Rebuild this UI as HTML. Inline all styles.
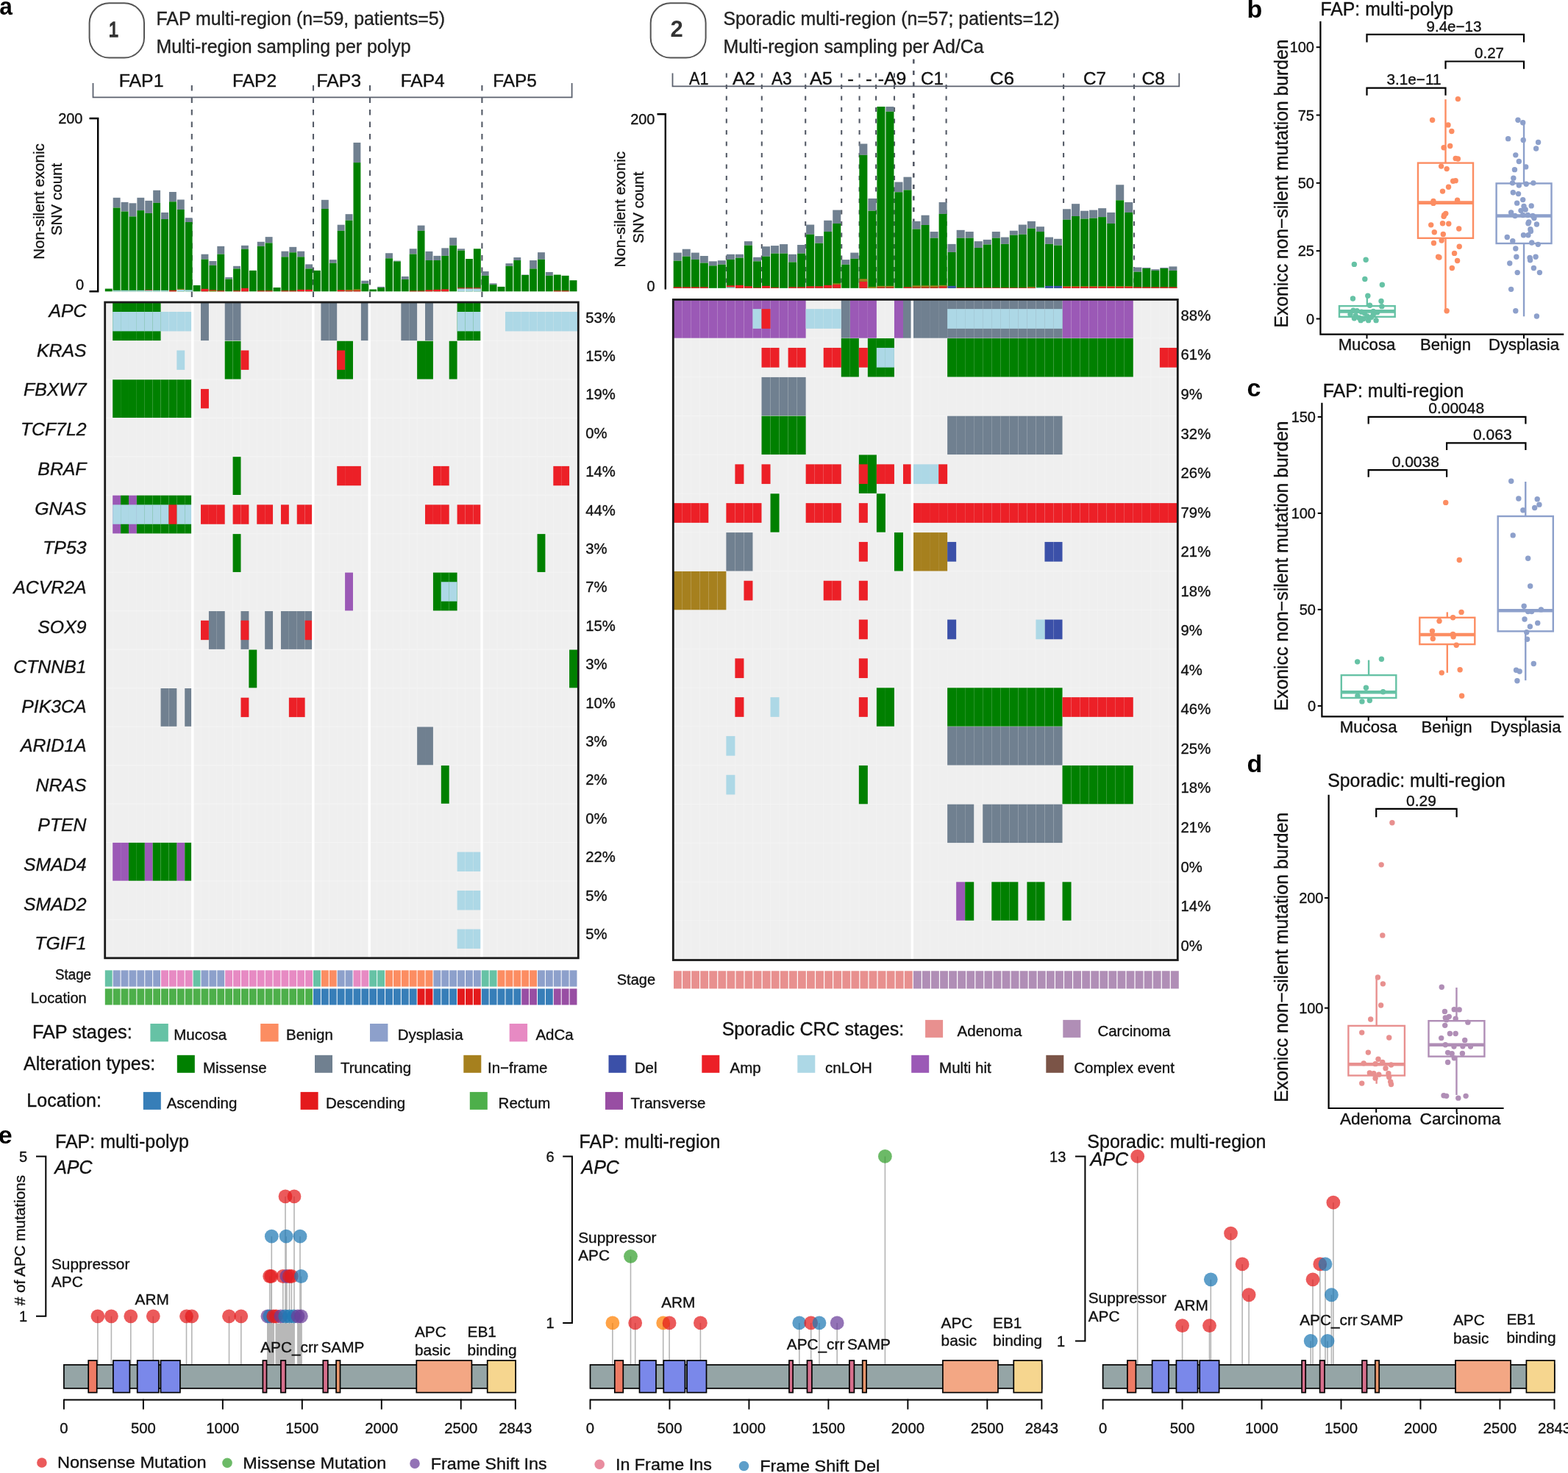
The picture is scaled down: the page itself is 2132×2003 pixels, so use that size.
<!DOCTYPE html>
<html><head><meta charset="utf-8"><title>Figure</title>
<style>html,body{margin:0;padding:0;background:#fff;}svg{display:block;}</style>
</head><body>
<svg width="2132" height="2003" viewBox="0 0 2132 2003" font-family="'Liberation Sans', Arial, Helvetica, sans-serif">
<text x="-0.8" y="19.9" font-size="34" fill="#000" font-weight="bold" textLength="17.6" lengthAdjust="spacingAndGlyphs">a</text>
<rect x="121.6" y="4.3" width="74.4" height="74.2" rx="27" ry="27" fill="none" stroke="#555" stroke-width="2"/>
<text x="154.6" y="50.4" font-size="30" text-anchor="middle" fill="#333" stroke="#333" stroke-width="1.5" textLength="13.5" lengthAdjust="spacingAndGlyphs">1</text>
<text x="212.5" y="34.0" font-size="25" fill="#222" stroke="#222" stroke-width="0.35" textLength="392.5" lengthAdjust="spacingAndGlyphs">FAP multi-region (n=59, patients=5)</text>
<text x="212.5" y="71.5" font-size="25" fill="#222" stroke="#222" stroke-width="0.35" textLength="346.0" lengthAdjust="spacingAndGlyphs">Multi-region sampling per polyp</text>
<rect x="884.7" y="4.3" width="74.9" height="74.2" rx="27" ry="27" fill="none" stroke="#555" stroke-width="2"/>
<text x="920.1" y="50.0" font-size="31" text-anchor="middle" fill="#333" font-weight="bold">2</text>
<text x="983.4" y="34.0" font-size="25" fill="#222" stroke="#222" stroke-width="0.35" textLength="457.5" lengthAdjust="spacingAndGlyphs">Sporadic multi-region (n=57; patients=12)</text>
<text x="983.4" y="72.0" font-size="25" fill="#222" stroke="#222" stroke-width="0.35" textLength="354.3" lengthAdjust="spacingAndGlyphs">Multi-region sampling per Ad/Ca</text>
<path d="M126.5 113 V132.4 H777.6 V113" stroke="#5B616E" stroke-width="1.8" fill="none"/>
<text x="192.1" y="117.5" font-size="24" text-anchor="middle" fill="#111" stroke="#111" stroke-width="0.35" textLength="60.9" lengthAdjust="spacingAndGlyphs">FAP1</text>
<text x="346.1" y="117.5" font-size="24" text-anchor="middle" fill="#111" stroke="#111" stroke-width="0.35" textLength="60.0" lengthAdjust="spacingAndGlyphs">FAP2</text>
<text x="460.7" y="117.5" font-size="24" text-anchor="middle" fill="#111" stroke="#111" stroke-width="0.35" textLength="60.6" lengthAdjust="spacingAndGlyphs">FAP3</text>
<text x="574.7" y="117.5" font-size="24" text-anchor="middle" fill="#111" stroke="#111" stroke-width="0.35" textLength="60.0" lengthAdjust="spacingAndGlyphs">FAP4</text>
<text x="700.1" y="117.5" font-size="24" text-anchor="middle" fill="#111" stroke="#111" stroke-width="0.35" textLength="59.7" lengthAdjust="spacingAndGlyphs">FAP5</text>
<line x1="260.80" y1="116.00" x2="260.80" y2="406.00" stroke="#555B67" stroke-width="2.1" stroke-dasharray="7.6 8.9"/>
<line x1="426.00" y1="116.00" x2="426.00" y2="406.00" stroke="#555B67" stroke-width="2.1" stroke-dasharray="7.6 8.9"/>
<line x1="503.00" y1="116.00" x2="503.00" y2="406.00" stroke="#555B67" stroke-width="2.1" stroke-dasharray="7.6 8.9"/>
<line x1="655.40" y1="116.00" x2="655.40" y2="406.00" stroke="#555B67" stroke-width="2.1" stroke-dasharray="7.6 8.9"/>
<path d="M121.5 161 H133.2 V396.3 H121.5" stroke="#000" stroke-width="2.4" fill="none"/>
<text x="112.5" y="167.7" font-size="20" text-anchor="end" fill="#111" stroke="#111" stroke-width="0.35">200</text>
<text x="114.0" y="394.0" font-size="20" text-anchor="end" fill="#111" stroke="#111" stroke-width="0.35">0</text>
<text x="59.5" y="274.0" font-size="20.5" text-anchor="middle" fill="#111" stroke="#111" stroke-width="0.35" textLength="157.5" lengthAdjust="spacingAndGlyphs" transform="rotate(-90 59.5 274.0)">Non-silent exonic</text>
<text x="84.0" y="271.0" font-size="20.5" text-anchor="middle" fill="#111" stroke="#111" stroke-width="0.35" textLength="98.7" lengthAdjust="spacingAndGlyphs" transform="rotate(-90 84.0 271.0)">SNV count</text>
<rect x="142.80" y="392.58" width="9.89" height="3.72" fill="#008000"/>
<rect x="153.69" y="268.83" width="9.89" height="13.68" fill="#708090"/>
<rect x="153.69" y="282.52" width="9.89" height="113.78" fill="#008000"/>
<rect x="153.69" y="394.80" width="9.89" height="1.50" fill="#ADD8E6"/>
<rect x="164.59" y="274.87" width="9.89" height="12.68" fill="#708090"/>
<rect x="164.59" y="287.55" width="9.89" height="108.75" fill="#008000"/>
<rect x="164.59" y="394.80" width="9.89" height="1.50" fill="#ADD8E6"/>
<rect x="175.48" y="276.28" width="9.89" height="18.11" fill="#708090"/>
<rect x="175.48" y="294.39" width="9.89" height="101.91" fill="#008000"/>
<rect x="175.48" y="394.80" width="9.89" height="1.50" fill="#ADD8E6"/>
<rect x="186.37" y="268.83" width="9.89" height="17.30" fill="#708090"/>
<rect x="186.37" y="286.14" width="9.89" height="110.16" fill="#008000"/>
<rect x="186.37" y="394.80" width="9.89" height="1.50" fill="#ADD8E6"/>
<rect x="197.27" y="272.86" width="9.89" height="17.10" fill="#708090"/>
<rect x="197.27" y="289.96" width="9.89" height="106.34" fill="#008000"/>
<rect x="197.27" y="394.80" width="9.89" height="1.50" fill="#ADD8E6"/>
<rect x="197.27" y="394.20" width="9.89" height="0.60" fill="#EC2027"/>
<rect x="208.16" y="258.77" width="9.89" height="17.10" fill="#708090"/>
<rect x="208.16" y="275.88" width="9.89" height="120.42" fill="#008000"/>
<rect x="208.16" y="394.80" width="9.89" height="1.50" fill="#ADD8E6"/>
<rect x="219.05" y="288.95" width="9.89" height="9.05" fill="#708090"/>
<rect x="219.05" y="298.01" width="9.89" height="98.29" fill="#008000"/>
<rect x="219.05" y="394.80" width="9.89" height="1.50" fill="#ADD8E6"/>
<rect x="229.94" y="260.99" width="9.89" height="13.28" fill="#708090"/>
<rect x="229.94" y="274.27" width="9.89" height="122.03" fill="#008000"/>
<rect x="229.94" y="394.80" width="9.89" height="1.50" fill="#EC2027"/>
<rect x="240.84" y="271.45" width="9.89" height="13.48" fill="#708090"/>
<rect x="240.84" y="284.93" width="9.89" height="111.37" fill="#008000"/>
<rect x="240.84" y="393.80" width="9.89" height="2.50" fill="#ADD8E6"/>
<rect x="240.84" y="392.80" width="9.89" height="1.00" fill="#A6801E"/>
<rect x="251.73" y="296.20" width="9.89" height="5.84" fill="#708090"/>
<rect x="251.73" y="302.03" width="9.89" height="94.27" fill="#008000"/>
<rect x="251.73" y="394.30" width="9.89" height="2.00" fill="#ADD8E6"/>
<rect x="262.62" y="387.95" width="9.89" height="8.35" fill="#008000"/>
<rect x="273.52" y="345.69" width="9.89" height="6.84" fill="#708090"/>
<rect x="273.52" y="352.54" width="9.89" height="43.76" fill="#008000"/>
<rect x="273.52" y="392.80" width="9.89" height="3.50" fill="#EC2027"/>
<rect x="284.41" y="354.95" width="9.89" height="5.84" fill="#708090"/>
<rect x="284.41" y="360.78" width="9.89" height="35.52" fill="#008000"/>
<rect x="284.41" y="395.10" width="9.89" height="1.20" fill="#A6801E"/>
<rect x="284.41" y="394.30" width="9.89" height="0.80" fill="#EC2027"/>
<rect x="295.30" y="334.83" width="9.89" height="10.87" fill="#708090"/>
<rect x="295.30" y="345.69" width="9.89" height="50.61" fill="#008000"/>
<rect x="295.30" y="395.30" width="9.89" height="1.00" fill="#EC2027"/>
<rect x="306.20" y="377.08" width="9.89" height="2.41" fill="#708090"/>
<rect x="306.20" y="379.50" width="9.89" height="16.80" fill="#008000"/>
<rect x="317.09" y="361.79" width="9.89" height="3.62" fill="#708090"/>
<rect x="317.09" y="365.41" width="9.89" height="30.89" fill="#008000"/>
<rect x="317.09" y="395.30" width="9.89" height="1.00" fill="#EC2027"/>
<rect x="327.98" y="333.82" width="9.89" height="4.83" fill="#708090"/>
<rect x="327.98" y="338.65" width="9.89" height="57.65" fill="#008000"/>
<rect x="327.98" y="391.80" width="9.89" height="4.50" fill="#EC2027"/>
<rect x="338.87" y="367.83" width="9.89" height="28.47" fill="#008000"/>
<rect x="349.77" y="328.79" width="9.89" height="6.04" fill="#708090"/>
<rect x="349.77" y="334.83" width="9.89" height="61.47" fill="#008000"/>
<rect x="349.77" y="395.30" width="9.89" height="1.00" fill="#EC2027"/>
<rect x="360.66" y="322.15" width="9.89" height="8.25" fill="#708090"/>
<rect x="360.66" y="330.40" width="9.89" height="65.90" fill="#008000"/>
<rect x="360.66" y="395.30" width="9.89" height="1.00" fill="#EC2027"/>
<rect x="371.55" y="390.97" width="9.89" height="5.33" fill="#008000"/>
<rect x="382.45" y="341.67" width="9.89" height="7.65" fill="#708090"/>
<rect x="382.45" y="349.32" width="9.89" height="46.98" fill="#008000"/>
<rect x="382.45" y="395.30" width="9.89" height="1.00" fill="#EC2027"/>
<rect x="393.34" y="335.84" width="9.89" height="7.44" fill="#708090"/>
<rect x="393.34" y="343.28" width="9.89" height="53.02" fill="#008000"/>
<rect x="393.34" y="395.30" width="9.89" height="1.00" fill="#EC2027"/>
<rect x="404.23" y="341.67" width="9.89" height="7.65" fill="#708090"/>
<rect x="404.23" y="349.32" width="9.89" height="46.98" fill="#008000"/>
<rect x="404.23" y="393.80" width="9.89" height="2.50" fill="#EC2027"/>
<rect x="415.13" y="359.38" width="9.89" height="6.04" fill="#708090"/>
<rect x="415.13" y="365.41" width="9.89" height="30.89" fill="#008000"/>
<rect x="415.13" y="393.80" width="9.89" height="2.50" fill="#EC2027"/>
<rect x="426.02" y="367.83" width="9.89" height="28.47" fill="#008000"/>
<rect x="436.91" y="271.80" width="9.89" height="12.13" fill="#708090"/>
<rect x="436.91" y="283.93" width="9.89" height="112.37" fill="#008000"/>
<rect x="447.80" y="353.11" width="9.89" height="4.71" fill="#708090"/>
<rect x="447.80" y="357.82" width="9.89" height="38.48" fill="#008000"/>
<rect x="458.70" y="305.66" width="9.89" height="8.15" fill="#708090"/>
<rect x="458.70" y="313.81" width="9.89" height="82.49" fill="#008000"/>
<rect x="458.70" y="394.30" width="9.89" height="2.00" fill="#EC2027"/>
<rect x="469.59" y="291.17" width="9.89" height="8.51" fill="#708090"/>
<rect x="469.59" y="299.68" width="9.89" height="96.62" fill="#008000"/>
<rect x="469.59" y="395.10" width="9.89" height="1.20" fill="#EC2027"/>
<rect x="469.59" y="394.10" width="9.89" height="1.00" fill="#A6801E"/>
<rect x="480.48" y="193.93" width="9.89" height="27.16" fill="#708090"/>
<rect x="480.48" y="221.09" width="9.89" height="175.21" fill="#008000"/>
<rect x="480.48" y="394.80" width="9.89" height="1.50" fill="#EC2027"/>
<rect x="480.48" y="393.30" width="9.89" height="1.50" fill="#A6801E"/>
<rect x="491.38" y="381.72" width="9.89" height="3.98" fill="#708090"/>
<rect x="491.38" y="385.70" width="9.89" height="10.60" fill="#008000"/>
<rect x="502.27" y="393.49" width="9.89" height="2.81" fill="#008000"/>
<rect x="513.16" y="389.87" width="9.89" height="1.27" fill="#708090"/>
<rect x="513.16" y="391.14" width="9.89" height="5.16" fill="#008000"/>
<rect x="524.06" y="344.23" width="9.89" height="7.06" fill="#708090"/>
<rect x="524.06" y="351.30" width="9.89" height="45.00" fill="#008000"/>
<rect x="534.95" y="354.56" width="9.89" height="0.91" fill="#708090"/>
<rect x="534.95" y="355.46" width="9.89" height="40.84" fill="#008000"/>
<rect x="545.84" y="375.93" width="9.89" height="3.98" fill="#708090"/>
<rect x="545.84" y="379.91" width="9.89" height="16.39" fill="#008000"/>
<rect x="556.73" y="338.26" width="9.89" height="7.24" fill="#708090"/>
<rect x="556.73" y="345.50" width="9.89" height="50.80" fill="#008000"/>
<rect x="556.73" y="395.50" width="9.89" height="0.80" fill="#EC2027"/>
<rect x="567.63" y="306.57" width="9.89" height="7.24" fill="#708090"/>
<rect x="567.63" y="313.81" width="9.89" height="82.49" fill="#008000"/>
<rect x="567.63" y="395.50" width="9.89" height="0.80" fill="#EC2027"/>
<rect x="578.52" y="341.88" width="9.89" height="12.13" fill="#708090"/>
<rect x="578.52" y="354.01" width="9.89" height="42.29" fill="#008000"/>
<rect x="578.52" y="394.30" width="9.89" height="2.00" fill="#EC2027"/>
<rect x="589.41" y="347.86" width="9.89" height="6.16" fill="#708090"/>
<rect x="589.41" y="354.01" width="9.89" height="42.29" fill="#008000"/>
<rect x="589.41" y="393.80" width="9.89" height="2.50" fill="#EC2027"/>
<rect x="600.31" y="337.35" width="9.89" height="10.50" fill="#708090"/>
<rect x="600.31" y="347.86" width="9.89" height="48.44" fill="#008000"/>
<rect x="600.31" y="393.30" width="9.89" height="3.00" fill="#EC2027"/>
<rect x="611.20" y="323.23" width="9.89" height="10.50" fill="#708090"/>
<rect x="611.20" y="333.73" width="9.89" height="62.57" fill="#008000"/>
<rect x="622.09" y="338.26" width="9.89" height="2.35" fill="#708090"/>
<rect x="622.09" y="340.61" width="9.89" height="55.69" fill="#008000"/>
<rect x="622.09" y="392.30" width="9.89" height="4.00" fill="#ADD8E6"/>
<rect x="622.09" y="391.30" width="9.89" height="1.00" fill="#EC2027"/>
<rect x="632.99" y="352.02" width="9.89" height="44.28" fill="#008000"/>
<rect x="632.99" y="392.30" width="9.89" height="4.00" fill="#ADD8E6"/>
<rect x="632.99" y="391.30" width="9.89" height="1.00" fill="#EC2027"/>
<rect x="643.88" y="338.26" width="9.89" height="58.04" fill="#008000"/>
<rect x="643.88" y="392.30" width="9.89" height="4.00" fill="#ADD8E6"/>
<rect x="643.88" y="391.30" width="9.89" height="1.00" fill="#EC2027"/>
<rect x="654.77" y="369.04" width="9.89" height="5.80" fill="#708090"/>
<rect x="654.77" y="374.84" width="9.89" height="21.46" fill="#008000"/>
<rect x="665.66" y="385.34" width="9.89" height="1.81" fill="#708090"/>
<rect x="665.66" y="387.15" width="9.89" height="9.15" fill="#008000"/>
<rect x="676.56" y="389.87" width="9.89" height="6.43" fill="#008000"/>
<rect x="687.45" y="358.18" width="9.89" height="3.62" fill="#708090"/>
<rect x="687.45" y="361.80" width="9.89" height="34.50" fill="#008000"/>
<rect x="698.34" y="350.03" width="9.89" height="3.98" fill="#708090"/>
<rect x="698.34" y="354.01" width="9.89" height="42.29" fill="#008000"/>
<rect x="709.24" y="373.57" width="9.89" height="0.36" fill="#708090"/>
<rect x="709.24" y="373.93" width="9.89" height="22.37" fill="#008000"/>
<rect x="720.13" y="354.01" width="9.89" height="11.41" fill="#708090"/>
<rect x="720.13" y="365.42" width="9.89" height="30.88" fill="#008000"/>
<rect x="731.02" y="343.15" width="9.89" height="9.60" fill="#708090"/>
<rect x="731.02" y="352.75" width="9.89" height="43.55" fill="#008000"/>
<rect x="741.91" y="369.95" width="9.89" height="4.89" fill="#708090"/>
<rect x="741.91" y="374.84" width="9.89" height="21.46" fill="#008000"/>
<rect x="752.81" y="373.57" width="9.89" height="22.73" fill="#008000"/>
<rect x="752.81" y="395.30" width="9.89" height="1.00" fill="#EC2027"/>
<rect x="763.70" y="374.84" width="9.89" height="21.46" fill="#008000"/>
<rect x="763.70" y="395.30" width="9.89" height="1.00" fill="#EC2027"/>
<rect x="774.59" y="381.18" width="9.89" height="15.12" fill="#008000"/>
<path d="M914.5 99.6 V117.4 H1603.3 V99.6" stroke="#5B616E" stroke-width="1.8" fill="none"/>
<text x="950.2" y="115.2" font-size="24" text-anchor="middle" fill="#111" stroke="#111" stroke-width="0.35" textLength="26.5" lengthAdjust="spacingAndGlyphs">A1</text>
<text x="1011.4" y="115.2" font-size="24" text-anchor="middle" fill="#111" stroke="#111" stroke-width="0.35" textLength="31.0" lengthAdjust="spacingAndGlyphs">A2</text>
<text x="1062.8" y="115.2" font-size="24" text-anchor="middle" fill="#111" stroke="#111" stroke-width="0.35" textLength="27.7" lengthAdjust="spacingAndGlyphs">A3</text>
<text x="1116.4" y="115.2" font-size="24" text-anchor="middle" fill="#111" stroke="#111" stroke-width="0.35" textLength="31.0" lengthAdjust="spacingAndGlyphs">A5</text>
<text x="1156.6" y="115.2" font-size="24" text-anchor="middle" fill="#111" stroke="#111" stroke-width="0.35" textLength="8.7" lengthAdjust="spacingAndGlyphs">-</text>
<text x="1181.3" y="115.2" font-size="24" text-anchor="middle" fill="#111" stroke="#111" stroke-width="0.35" textLength="8.7" lengthAdjust="spacingAndGlyphs">-</text>
<text x="1213.1" y="115.2" font-size="24" text-anchor="middle" fill="#111" stroke="#111" stroke-width="0.35" textLength="38.6" lengthAdjust="spacingAndGlyphs">-A9</text>
<text x="1267.5" y="115.2" font-size="24" text-anchor="middle" fill="#111" stroke="#111" stroke-width="0.35" textLength="31.0" lengthAdjust="spacingAndGlyphs">C1</text>
<text x="1362.5" y="115.2" font-size="24" text-anchor="middle" fill="#111" stroke="#111" stroke-width="0.35" textLength="33.0" lengthAdjust="spacingAndGlyphs">C6</text>
<text x="1488.5" y="115.2" font-size="24" text-anchor="middle" fill="#111" stroke="#111" stroke-width="0.35" textLength="31.0" lengthAdjust="spacingAndGlyphs">C7</text>
<text x="1568.2" y="115.2" font-size="24" text-anchor="middle" fill="#111" stroke="#111" stroke-width="0.35" textLength="31.5" lengthAdjust="spacingAndGlyphs">C8</text>
<line x1="987.80" y1="99.50" x2="987.80" y2="391.50" stroke="#555B67" stroke-width="2.1" stroke-dasharray="6 9.5"/>
<line x1="1035.80" y1="99.50" x2="1035.80" y2="391.50" stroke="#555B67" stroke-width="2.1" stroke-dasharray="6 9.5"/>
<line x1="1095.20" y1="99.50" x2="1095.20" y2="391.50" stroke="#555B67" stroke-width="2.1" stroke-dasharray="6 9.5"/>
<line x1="1144.20" y1="99.50" x2="1144.20" y2="391.50" stroke="#555B67" stroke-width="2.1" stroke-dasharray="6 9.5"/>
<line x1="1168.60" y1="99.50" x2="1168.60" y2="391.50" stroke="#555B67" stroke-width="2.1" stroke-dasharray="6 9.5"/>
<line x1="1191.10" y1="99.50" x2="1191.10" y2="391.50" stroke="#555B67" stroke-width="2.1" stroke-dasharray="6 9.5"/>
<line x1="1216.00" y1="99.50" x2="1216.00" y2="391.50" stroke="#555B67" stroke-width="2.1" stroke-dasharray="6 9.5"/>
<line x1="1286.60" y1="99.50" x2="1286.60" y2="391.50" stroke="#555B67" stroke-width="2.1" stroke-dasharray="6 9.5"/>
<line x1="1446.10" y1="99.50" x2="1446.10" y2="391.50" stroke="#555B67" stroke-width="2.1" stroke-dasharray="6 9.5"/>
<line x1="1542.00" y1="99.50" x2="1542.00" y2="391.50" stroke="#555B67" stroke-width="2.1" stroke-dasharray="6 9.5"/>
<line x1="1242.30" y1="80.40" x2="1242.30" y2="391.50" stroke="#555B67" stroke-width="2.6" stroke-dasharray="6 9.5"/>
<path d="M893.5 155.2 H904.8 V393.4" stroke="#000" stroke-width="2.4" fill="none"/>
<text x="890.5" y="169.2" font-size="20" text-anchor="end" fill="#111" stroke="#111" stroke-width="0.35">200</text>
<text x="890.5" y="395.6" font-size="20" text-anchor="end" fill="#111" stroke="#111" stroke-width="0.35">0</text>
<text x="850.5" y="284.7" font-size="20.5" text-anchor="middle" fill="#111" stroke="#111" stroke-width="0.35" textLength="157.4" lengthAdjust="spacingAndGlyphs" transform="rotate(-90 850.5 284.7)">Non-silent exonic</text>
<text x="875.5" y="282.2" font-size="20.5" text-anchor="middle" fill="#111" stroke="#111" stroke-width="0.35" textLength="97.0" lengthAdjust="spacingAndGlyphs" transform="rotate(-90 875.5 282.2)">SNV count</text>
<rect x="915.70" y="343.59" width="11.03" height="11.07" fill="#708090"/>
<rect x="915.70" y="354.66" width="11.03" height="37.14" fill="#008000"/>
<rect x="915.70" y="390.30" width="11.03" height="1.50" fill="#EC2027"/>
<rect x="927.73" y="338.72" width="11.03" height="9.96" fill="#708090"/>
<rect x="927.73" y="348.68" width="11.03" height="43.12" fill="#008000"/>
<rect x="927.73" y="390.30" width="11.03" height="1.50" fill="#EC2027"/>
<rect x="939.76" y="343.59" width="11.03" height="9.30" fill="#708090"/>
<rect x="939.76" y="352.89" width="11.03" height="38.91" fill="#008000"/>
<rect x="939.76" y="390.30" width="11.03" height="1.50" fill="#EC2027"/>
<rect x="951.79" y="348.02" width="11.03" height="9.52" fill="#708090"/>
<rect x="951.79" y="357.53" width="11.03" height="34.27" fill="#008000"/>
<rect x="951.79" y="390.30" width="11.03" height="1.50" fill="#EC2027"/>
<rect x="963.82" y="355.32" width="11.03" height="5.98" fill="#708090"/>
<rect x="963.82" y="361.30" width="11.03" height="30.50" fill="#008000"/>
<rect x="975.85" y="354.21" width="11.03" height="5.53" fill="#708090"/>
<rect x="975.85" y="359.75" width="11.03" height="32.05" fill="#008000"/>
<rect x="987.88" y="345.80" width="11.03" height="7.08" fill="#708090"/>
<rect x="987.88" y="352.89" width="11.03" height="38.91" fill="#008000"/>
<rect x="987.88" y="390.30" width="11.03" height="1.50" fill="#ADD8E6"/>
<rect x="987.88" y="388.30" width="11.03" height="2.00" fill="#EC2027"/>
<rect x="999.91" y="345.80" width="11.03" height="4.87" fill="#708090"/>
<rect x="999.91" y="350.67" width="11.03" height="41.13" fill="#008000"/>
<rect x="999.91" y="387.80" width="11.03" height="4.00" fill="#EC2027"/>
<rect x="1011.94" y="328.10" width="11.03" height="5.53" fill="#708090"/>
<rect x="1011.94" y="333.63" width="11.03" height="58.17" fill="#008000"/>
<rect x="1011.94" y="389.30" width="11.03" height="2.50" fill="#EC2027"/>
<rect x="1023.97" y="349.79" width="11.03" height="5.53" fill="#708090"/>
<rect x="1023.97" y="355.32" width="11.03" height="36.48" fill="#008000"/>
<rect x="1023.97" y="391.10" width="11.03" height="0.70" fill="#EC2027"/>
<rect x="1036.00" y="335.18" width="11.03" height="13.50" fill="#708090"/>
<rect x="1036.00" y="348.68" width="11.03" height="43.12" fill="#008000"/>
<rect x="1036.00" y="388.80" width="11.03" height="3.00" fill="#EC2027"/>
<rect x="1048.03" y="334.07" width="11.03" height="10.62" fill="#708090"/>
<rect x="1048.03" y="344.70" width="11.03" height="47.10" fill="#008000"/>
<rect x="1048.03" y="390.80" width="11.03" height="1.00" fill="#EC2027"/>
<rect x="1060.06" y="332.08" width="11.03" height="12.62" fill="#708090"/>
<rect x="1060.06" y="344.70" width="11.03" height="47.10" fill="#008000"/>
<rect x="1072.09" y="345.80" width="11.03" height="10.62" fill="#708090"/>
<rect x="1072.09" y="356.43" width="11.03" height="35.37" fill="#008000"/>
<rect x="1072.09" y="390.30" width="11.03" height="1.50" fill="#EC2027"/>
<rect x="1084.12" y="332.97" width="11.03" height="11.73" fill="#708090"/>
<rect x="1084.12" y="344.70" width="11.03" height="47.10" fill="#008000"/>
<rect x="1084.12" y="390.30" width="11.03" height="1.50" fill="#EC2027"/>
<rect x="1096.15" y="305.52" width="11.03" height="13.28" fill="#708090"/>
<rect x="1096.15" y="318.80" width="11.03" height="73.00" fill="#008000"/>
<rect x="1096.15" y="389.30" width="11.03" height="2.50" fill="#EC2027"/>
<rect x="1108.18" y="321.01" width="11.03" height="9.74" fill="#708090"/>
<rect x="1108.18" y="330.75" width="11.03" height="61.05" fill="#008000"/>
<rect x="1108.18" y="389.30" width="11.03" height="2.50" fill="#EC2027"/>
<rect x="1120.21" y="299.77" width="11.03" height="15.27" fill="#708090"/>
<rect x="1120.21" y="315.04" width="11.03" height="76.76" fill="#008000"/>
<rect x="1120.21" y="387.80" width="11.03" height="4.00" fill="#EC2027"/>
<rect x="1132.24" y="285.60" width="11.03" height="18.37" fill="#708090"/>
<rect x="1132.24" y="303.97" width="11.03" height="87.83" fill="#008000"/>
<rect x="1132.24" y="386.80" width="11.03" height="5.00" fill="#EC2027"/>
<rect x="1132.24" y="385.30" width="11.03" height="1.50" fill="#A6801E"/>
<rect x="1144.27" y="353.11" width="11.03" height="6.64" fill="#708090"/>
<rect x="1144.27" y="359.75" width="11.03" height="32.05" fill="#008000"/>
<rect x="1156.30" y="343.59" width="11.03" height="8.19" fill="#708090"/>
<rect x="1156.30" y="351.78" width="11.03" height="40.02" fill="#008000"/>
<rect x="1168.33" y="195.52" width="11.03" height="15.27" fill="#708090"/>
<rect x="1168.33" y="210.79" width="11.03" height="181.01" fill="#008000"/>
<rect x="1168.33" y="382.80" width="11.03" height="9.00" fill="#EC2027"/>
<rect x="1168.33" y="379.30" width="11.03" height="3.50" fill="#A6801E"/>
<rect x="1180.36" y="269.88" width="11.03" height="16.82" fill="#708090"/>
<rect x="1180.36" y="286.71" width="11.03" height="105.09" fill="#008000"/>
<rect x="1180.36" y="390.10" width="11.03" height="1.70" fill="#A6801E"/>
<rect x="1192.39" y="145.05" width="11.03" height="246.75" fill="#008000"/>
<rect x="1192.39" y="390.30" width="11.03" height="1.50" fill="#EC2027"/>
<rect x="1192.39" y="388.80" width="11.03" height="1.50" fill="#A6801E"/>
<rect x="1204.42" y="145.05" width="11.03" height="6.64" fill="#708090"/>
<rect x="1204.42" y="151.69" width="11.03" height="240.11" fill="#008000"/>
<rect x="1204.42" y="390.30" width="11.03" height="1.50" fill="#EC2027"/>
<rect x="1204.42" y="388.80" width="11.03" height="1.50" fill="#A6801E"/>
<rect x="1216.45" y="247.53" width="11.03" height="13.72" fill="#708090"/>
<rect x="1216.45" y="261.25" width="11.03" height="130.55" fill="#008000"/>
<rect x="1228.48" y="240.67" width="11.03" height="17.71" fill="#708090"/>
<rect x="1228.48" y="258.38" width="11.03" height="133.42" fill="#008000"/>
<rect x="1228.48" y="390.30" width="11.03" height="1.50" fill="#EC2027"/>
<rect x="1240.51" y="300.87" width="11.03" height="10.62" fill="#708090"/>
<rect x="1240.51" y="311.50" width="11.03" height="80.30" fill="#008000"/>
<rect x="1240.51" y="390.30" width="11.03" height="1.50" fill="#EC2027"/>
<rect x="1240.51" y="388.30" width="11.03" height="2.00" fill="#A6801E"/>
<rect x="1252.54" y="292.68" width="11.03" height="13.28" fill="#708090"/>
<rect x="1252.54" y="305.96" width="11.03" height="85.84" fill="#008000"/>
<rect x="1252.54" y="390.30" width="11.03" height="1.50" fill="#EC2027"/>
<rect x="1252.54" y="388.30" width="11.03" height="2.00" fill="#A6801E"/>
<rect x="1264.57" y="315.04" width="11.03" height="8.63" fill="#708090"/>
<rect x="1264.57" y="323.67" width="11.03" height="68.13" fill="#008000"/>
<rect x="1264.57" y="390.30" width="11.03" height="1.50" fill="#EC2027"/>
<rect x="1264.57" y="388.30" width="11.03" height="2.00" fill="#A6801E"/>
<rect x="1276.60" y="274.98" width="11.03" height="15.94" fill="#708090"/>
<rect x="1276.60" y="290.91" width="11.03" height="100.89" fill="#008000"/>
<rect x="1276.60" y="389.30" width="11.03" height="2.50" fill="#EC2027"/>
<rect x="1276.60" y="387.80" width="11.03" height="1.50" fill="#A6801E"/>
<rect x="1288.63" y="331.86" width="11.03" height="11.07" fill="#708090"/>
<rect x="1288.63" y="342.93" width="11.03" height="48.87" fill="#008000"/>
<rect x="1288.63" y="388.80" width="11.03" height="3.00" fill="#3B50A8"/>
<rect x="1300.66" y="312.82" width="11.03" height="10.85" fill="#708090"/>
<rect x="1300.66" y="323.67" width="11.03" height="68.13" fill="#008000"/>
<rect x="1300.66" y="391.10" width="11.03" height="0.70" fill="#EC2027"/>
<rect x="1312.69" y="315.04" width="11.03" height="8.63" fill="#708090"/>
<rect x="1312.69" y="323.67" width="11.03" height="68.13" fill="#008000"/>
<rect x="1312.69" y="391.10" width="11.03" height="0.70" fill="#EC2027"/>
<rect x="1324.72" y="328.10" width="11.03" height="8.85" fill="#708090"/>
<rect x="1324.72" y="336.95" width="11.03" height="54.85" fill="#008000"/>
<rect x="1324.72" y="391.10" width="11.03" height="0.70" fill="#EC2027"/>
<rect x="1336.75" y="325.88" width="11.03" height="6.64" fill="#708090"/>
<rect x="1336.75" y="332.52" width="11.03" height="59.28" fill="#008000"/>
<rect x="1336.75" y="391.10" width="11.03" height="0.70" fill="#EC2027"/>
<rect x="1348.78" y="315.04" width="11.03" height="8.63" fill="#708090"/>
<rect x="1348.78" y="323.67" width="11.03" height="68.13" fill="#008000"/>
<rect x="1348.78" y="391.10" width="11.03" height="0.70" fill="#EC2027"/>
<rect x="1360.81" y="322.56" width="11.03" height="9.30" fill="#708090"/>
<rect x="1360.81" y="331.86" width="11.03" height="59.94" fill="#008000"/>
<rect x="1360.81" y="391.10" width="11.03" height="0.70" fill="#EC2027"/>
<rect x="1372.84" y="313.71" width="11.03" height="5.98" fill="#708090"/>
<rect x="1372.84" y="319.69" width="11.03" height="72.11" fill="#008000"/>
<rect x="1372.84" y="391.10" width="11.03" height="0.70" fill="#EC2027"/>
<rect x="1384.87" y="305.52" width="11.03" height="13.28" fill="#708090"/>
<rect x="1384.87" y="318.80" width="11.03" height="73.00" fill="#008000"/>
<rect x="1384.87" y="391.10" width="11.03" height="0.70" fill="#EC2027"/>
<rect x="1396.90" y="300.87" width="11.03" height="9.74" fill="#708090"/>
<rect x="1396.90" y="310.61" width="11.03" height="81.19" fill="#008000"/>
<rect x="1396.90" y="391.10" width="11.03" height="0.70" fill="#EC2027"/>
<rect x="1396.90" y="390.10" width="11.03" height="1.00" fill="#A6801E"/>
<rect x="1408.93" y="308.18" width="11.03" height="6.86" fill="#708090"/>
<rect x="1408.93" y="315.04" width="11.03" height="76.76" fill="#008000"/>
<rect x="1408.93" y="390.80" width="11.03" height="1.00" fill="#ADD8E6"/>
<rect x="1420.96" y="322.56" width="11.03" height="9.30" fill="#708090"/>
<rect x="1420.96" y="331.86" width="11.03" height="59.94" fill="#008000"/>
<rect x="1420.96" y="388.80" width="11.03" height="3.00" fill="#3B50A8"/>
<rect x="1432.99" y="324.78" width="11.03" height="8.85" fill="#708090"/>
<rect x="1432.99" y="333.63" width="11.03" height="58.17" fill="#008000"/>
<rect x="1432.99" y="388.80" width="11.03" height="3.00" fill="#3B50A8"/>
<rect x="1445.02" y="284.27" width="11.03" height="14.39" fill="#708090"/>
<rect x="1445.02" y="298.66" width="11.03" height="93.14" fill="#008000"/>
<rect x="1445.02" y="389.80" width="11.03" height="2.00" fill="#EC2027"/>
<rect x="1445.02" y="389.10" width="11.03" height="0.70" fill="#A6801E"/>
<rect x="1457.05" y="277.19" width="11.03" height="16.82" fill="#708090"/>
<rect x="1457.05" y="294.01" width="11.03" height="97.79" fill="#008000"/>
<rect x="1457.05" y="389.80" width="11.03" height="2.00" fill="#EC2027"/>
<rect x="1457.05" y="389.10" width="11.03" height="0.70" fill="#A6801E"/>
<rect x="1469.08" y="286.71" width="11.03" height="10.85" fill="#708090"/>
<rect x="1469.08" y="297.55" width="11.03" height="94.25" fill="#008000"/>
<rect x="1469.08" y="389.80" width="11.03" height="2.00" fill="#EC2027"/>
<rect x="1469.08" y="389.10" width="11.03" height="0.70" fill="#A6801E"/>
<rect x="1481.11" y="285.60" width="11.03" height="11.07" fill="#708090"/>
<rect x="1481.11" y="296.67" width="11.03" height="95.13" fill="#008000"/>
<rect x="1481.11" y="389.80" width="11.03" height="2.00" fill="#EC2027"/>
<rect x="1481.11" y="389.10" width="11.03" height="0.70" fill="#A6801E"/>
<rect x="1493.14" y="283.17" width="11.03" height="11.95" fill="#708090"/>
<rect x="1493.14" y="295.12" width="11.03" height="96.68" fill="#008000"/>
<rect x="1493.14" y="389.80" width="11.03" height="2.00" fill="#EC2027"/>
<rect x="1493.14" y="389.10" width="11.03" height="0.70" fill="#A6801E"/>
<rect x="1505.17" y="288.92" width="11.03" height="15.05" fill="#708090"/>
<rect x="1505.17" y="303.97" width="11.03" height="87.83" fill="#008000"/>
<rect x="1505.17" y="389.80" width="11.03" height="2.00" fill="#EC2027"/>
<rect x="1505.17" y="389.10" width="11.03" height="0.70" fill="#A6801E"/>
<rect x="1517.20" y="251.29" width="11.03" height="21.03" fill="#708090"/>
<rect x="1517.20" y="272.32" width="11.03" height="119.48" fill="#008000"/>
<rect x="1517.20" y="389.80" width="11.03" height="2.00" fill="#EC2027"/>
<rect x="1517.20" y="389.10" width="11.03" height="0.70" fill="#A6801E"/>
<rect x="1529.23" y="274.98" width="11.03" height="13.94" fill="#708090"/>
<rect x="1529.23" y="288.92" width="11.03" height="102.88" fill="#008000"/>
<rect x="1529.23" y="389.80" width="11.03" height="2.00" fill="#EC2027"/>
<rect x="1529.23" y="389.10" width="11.03" height="0.70" fill="#A6801E"/>
<rect x="1541.26" y="363.51" width="11.03" height="6.20" fill="#708090"/>
<rect x="1541.26" y="369.71" width="11.03" height="22.09" fill="#008000"/>
<rect x="1541.26" y="390.30" width="11.03" height="1.50" fill="#EC2027"/>
<rect x="1553.29" y="363.95" width="11.03" height="1.11" fill="#708090"/>
<rect x="1553.29" y="365.06" width="11.03" height="26.74" fill="#008000"/>
<rect x="1553.29" y="390.30" width="11.03" height="1.50" fill="#EC2027"/>
<rect x="1565.32" y="366.17" width="11.03" height="1.77" fill="#708090"/>
<rect x="1565.32" y="367.94" width="11.03" height="23.86" fill="#008000"/>
<rect x="1565.32" y="390.30" width="11.03" height="1.50" fill="#EC2027"/>
<rect x="1577.35" y="363.95" width="11.03" height="1.11" fill="#708090"/>
<rect x="1577.35" y="365.06" width="11.03" height="26.74" fill="#008000"/>
<rect x="1577.35" y="390.30" width="11.03" height="1.50" fill="#EC2027"/>
<rect x="1589.38" y="362.40" width="11.03" height="5.53" fill="#708090"/>
<rect x="1589.38" y="367.94" width="11.03" height="23.86" fill="#008000"/>
<rect x="1589.38" y="390.30" width="11.03" height="1.50" fill="#EC2027"/>
<rect x="142.70" y="411.00" width="643.60" height="891.80" fill="#F4F4F4"/>
<rect x="142.55" y="411.55" width="10.39" height="51.30" fill="#EFEFEF"/>
<rect x="153.44" y="411.55" width="10.39" height="51.30" fill="#EFEFEF"/>
<rect x="164.34" y="411.55" width="10.39" height="51.30" fill="#EFEFEF"/>
<rect x="175.23" y="411.55" width="10.39" height="51.30" fill="#EFEFEF"/>
<rect x="186.12" y="411.55" width="10.39" height="51.30" fill="#EFEFEF"/>
<rect x="197.02" y="411.55" width="10.39" height="51.30" fill="#EFEFEF"/>
<rect x="207.91" y="411.55" width="10.39" height="51.30" fill="#EFEFEF"/>
<rect x="218.80" y="411.55" width="10.39" height="51.30" fill="#EFEFEF"/>
<rect x="229.69" y="411.55" width="10.39" height="51.30" fill="#EFEFEF"/>
<rect x="240.59" y="411.55" width="10.39" height="51.30" fill="#EFEFEF"/>
<rect x="251.48" y="411.55" width="10.39" height="51.30" fill="#EFEFEF"/>
<rect x="262.37" y="411.55" width="10.39" height="51.30" fill="#EFEFEF"/>
<rect x="273.27" y="411.55" width="10.39" height="51.30" fill="#EFEFEF"/>
<rect x="284.16" y="411.55" width="10.39" height="51.30" fill="#EFEFEF"/>
<rect x="295.05" y="411.55" width="10.39" height="51.30" fill="#EFEFEF"/>
<rect x="305.95" y="411.55" width="10.39" height="51.30" fill="#EFEFEF"/>
<rect x="316.84" y="411.55" width="10.39" height="51.30" fill="#EFEFEF"/>
<rect x="327.73" y="411.55" width="10.39" height="51.30" fill="#EFEFEF"/>
<rect x="338.62" y="411.55" width="10.39" height="51.30" fill="#EFEFEF"/>
<rect x="349.52" y="411.55" width="10.39" height="51.30" fill="#EFEFEF"/>
<rect x="360.41" y="411.55" width="10.39" height="51.30" fill="#EFEFEF"/>
<rect x="371.30" y="411.55" width="10.39" height="51.30" fill="#EFEFEF"/>
<rect x="382.20" y="411.55" width="10.39" height="51.30" fill="#EFEFEF"/>
<rect x="393.09" y="411.55" width="10.39" height="51.30" fill="#EFEFEF"/>
<rect x="403.98" y="411.55" width="10.39" height="51.30" fill="#EFEFEF"/>
<rect x="414.88" y="411.55" width="10.39" height="51.30" fill="#EFEFEF"/>
<rect x="425.77" y="411.55" width="10.39" height="51.30" fill="#EFEFEF"/>
<rect x="436.66" y="411.55" width="10.39" height="51.30" fill="#EFEFEF"/>
<rect x="447.55" y="411.55" width="10.39" height="51.30" fill="#EFEFEF"/>
<rect x="458.45" y="411.55" width="10.39" height="51.30" fill="#EFEFEF"/>
<rect x="469.34" y="411.55" width="10.39" height="51.30" fill="#EFEFEF"/>
<rect x="480.23" y="411.55" width="10.39" height="51.30" fill="#EFEFEF"/>
<rect x="491.13" y="411.55" width="10.39" height="51.30" fill="#EFEFEF"/>
<rect x="502.02" y="411.55" width="10.39" height="51.30" fill="#EFEFEF"/>
<rect x="512.91" y="411.55" width="10.39" height="51.30" fill="#EFEFEF"/>
<rect x="523.81" y="411.55" width="10.39" height="51.30" fill="#EFEFEF"/>
<rect x="534.70" y="411.55" width="10.39" height="51.30" fill="#EFEFEF"/>
<rect x="545.59" y="411.55" width="10.39" height="51.30" fill="#EFEFEF"/>
<rect x="556.48" y="411.55" width="10.39" height="51.30" fill="#EFEFEF"/>
<rect x="567.38" y="411.55" width="10.39" height="51.30" fill="#EFEFEF"/>
<rect x="578.27" y="411.55" width="10.39" height="51.30" fill="#EFEFEF"/>
<rect x="589.16" y="411.55" width="10.39" height="51.30" fill="#EFEFEF"/>
<rect x="600.06" y="411.55" width="10.39" height="51.30" fill="#EFEFEF"/>
<rect x="610.95" y="411.55" width="10.39" height="51.30" fill="#EFEFEF"/>
<rect x="621.84" y="411.55" width="10.39" height="51.30" fill="#EFEFEF"/>
<rect x="632.74" y="411.55" width="10.39" height="51.30" fill="#EFEFEF"/>
<rect x="643.63" y="411.55" width="10.39" height="51.30" fill="#EFEFEF"/>
<rect x="654.52" y="411.55" width="10.39" height="51.30" fill="#EFEFEF"/>
<rect x="665.41" y="411.55" width="10.39" height="51.30" fill="#EFEFEF"/>
<rect x="676.31" y="411.55" width="10.39" height="51.30" fill="#EFEFEF"/>
<rect x="687.20" y="411.55" width="10.39" height="51.30" fill="#EFEFEF"/>
<rect x="698.09" y="411.55" width="10.39" height="51.30" fill="#EFEFEF"/>
<rect x="708.99" y="411.55" width="10.39" height="51.30" fill="#EFEFEF"/>
<rect x="719.88" y="411.55" width="10.39" height="51.30" fill="#EFEFEF"/>
<rect x="730.77" y="411.55" width="10.39" height="51.30" fill="#EFEFEF"/>
<rect x="741.66" y="411.55" width="10.39" height="51.30" fill="#EFEFEF"/>
<rect x="752.56" y="411.55" width="10.39" height="51.30" fill="#EFEFEF"/>
<rect x="763.45" y="411.55" width="10.39" height="51.30" fill="#EFEFEF"/>
<rect x="774.34" y="411.55" width="10.39" height="51.30" fill="#EFEFEF"/>
<rect x="142.55" y="464.02" width="10.39" height="51.30" fill="#EFEFEF"/>
<rect x="153.44" y="464.02" width="10.39" height="51.30" fill="#EFEFEF"/>
<rect x="164.34" y="464.02" width="10.39" height="51.30" fill="#EFEFEF"/>
<rect x="175.23" y="464.02" width="10.39" height="51.30" fill="#EFEFEF"/>
<rect x="186.12" y="464.02" width="10.39" height="51.30" fill="#EFEFEF"/>
<rect x="197.02" y="464.02" width="10.39" height="51.30" fill="#EFEFEF"/>
<rect x="207.91" y="464.02" width="10.39" height="51.30" fill="#EFEFEF"/>
<rect x="218.80" y="464.02" width="10.39" height="51.30" fill="#EFEFEF"/>
<rect x="229.69" y="464.02" width="10.39" height="51.30" fill="#EFEFEF"/>
<rect x="240.59" y="464.02" width="10.39" height="51.30" fill="#EFEFEF"/>
<rect x="251.48" y="464.02" width="10.39" height="51.30" fill="#EFEFEF"/>
<rect x="262.37" y="464.02" width="10.39" height="51.30" fill="#EFEFEF"/>
<rect x="273.27" y="464.02" width="10.39" height="51.30" fill="#EFEFEF"/>
<rect x="284.16" y="464.02" width="10.39" height="51.30" fill="#EFEFEF"/>
<rect x="295.05" y="464.02" width="10.39" height="51.30" fill="#EFEFEF"/>
<rect x="305.95" y="464.02" width="10.39" height="51.30" fill="#EFEFEF"/>
<rect x="316.84" y="464.02" width="10.39" height="51.30" fill="#EFEFEF"/>
<rect x="327.73" y="464.02" width="10.39" height="51.30" fill="#EFEFEF"/>
<rect x="338.62" y="464.02" width="10.39" height="51.30" fill="#EFEFEF"/>
<rect x="349.52" y="464.02" width="10.39" height="51.30" fill="#EFEFEF"/>
<rect x="360.41" y="464.02" width="10.39" height="51.30" fill="#EFEFEF"/>
<rect x="371.30" y="464.02" width="10.39" height="51.30" fill="#EFEFEF"/>
<rect x="382.20" y="464.02" width="10.39" height="51.30" fill="#EFEFEF"/>
<rect x="393.09" y="464.02" width="10.39" height="51.30" fill="#EFEFEF"/>
<rect x="403.98" y="464.02" width="10.39" height="51.30" fill="#EFEFEF"/>
<rect x="414.88" y="464.02" width="10.39" height="51.30" fill="#EFEFEF"/>
<rect x="425.77" y="464.02" width="10.39" height="51.30" fill="#EFEFEF"/>
<rect x="436.66" y="464.02" width="10.39" height="51.30" fill="#EFEFEF"/>
<rect x="447.55" y="464.02" width="10.39" height="51.30" fill="#EFEFEF"/>
<rect x="458.45" y="464.02" width="10.39" height="51.30" fill="#EFEFEF"/>
<rect x="469.34" y="464.02" width="10.39" height="51.30" fill="#EFEFEF"/>
<rect x="480.23" y="464.02" width="10.39" height="51.30" fill="#EFEFEF"/>
<rect x="491.13" y="464.02" width="10.39" height="51.30" fill="#EFEFEF"/>
<rect x="502.02" y="464.02" width="10.39" height="51.30" fill="#EFEFEF"/>
<rect x="512.91" y="464.02" width="10.39" height="51.30" fill="#EFEFEF"/>
<rect x="523.81" y="464.02" width="10.39" height="51.30" fill="#EFEFEF"/>
<rect x="534.70" y="464.02" width="10.39" height="51.30" fill="#EFEFEF"/>
<rect x="545.59" y="464.02" width="10.39" height="51.30" fill="#EFEFEF"/>
<rect x="556.48" y="464.02" width="10.39" height="51.30" fill="#EFEFEF"/>
<rect x="567.38" y="464.02" width="10.39" height="51.30" fill="#EFEFEF"/>
<rect x="578.27" y="464.02" width="10.39" height="51.30" fill="#EFEFEF"/>
<rect x="589.16" y="464.02" width="10.39" height="51.30" fill="#EFEFEF"/>
<rect x="600.06" y="464.02" width="10.39" height="51.30" fill="#EFEFEF"/>
<rect x="610.95" y="464.02" width="10.39" height="51.30" fill="#EFEFEF"/>
<rect x="621.84" y="464.02" width="10.39" height="51.30" fill="#EFEFEF"/>
<rect x="632.74" y="464.02" width="10.39" height="51.30" fill="#EFEFEF"/>
<rect x="643.63" y="464.02" width="10.39" height="51.30" fill="#EFEFEF"/>
<rect x="654.52" y="464.02" width="10.39" height="51.30" fill="#EFEFEF"/>
<rect x="665.41" y="464.02" width="10.39" height="51.30" fill="#EFEFEF"/>
<rect x="676.31" y="464.02" width="10.39" height="51.30" fill="#EFEFEF"/>
<rect x="687.20" y="464.02" width="10.39" height="51.30" fill="#EFEFEF"/>
<rect x="698.09" y="464.02" width="10.39" height="51.30" fill="#EFEFEF"/>
<rect x="708.99" y="464.02" width="10.39" height="51.30" fill="#EFEFEF"/>
<rect x="719.88" y="464.02" width="10.39" height="51.30" fill="#EFEFEF"/>
<rect x="730.77" y="464.02" width="10.39" height="51.30" fill="#EFEFEF"/>
<rect x="741.66" y="464.02" width="10.39" height="51.30" fill="#EFEFEF"/>
<rect x="752.56" y="464.02" width="10.39" height="51.30" fill="#EFEFEF"/>
<rect x="763.45" y="464.02" width="10.39" height="51.30" fill="#EFEFEF"/>
<rect x="774.34" y="464.02" width="10.39" height="51.30" fill="#EFEFEF"/>
<rect x="142.55" y="516.49" width="10.39" height="51.30" fill="#EFEFEF"/>
<rect x="153.44" y="516.49" width="10.39" height="51.30" fill="#EFEFEF"/>
<rect x="164.34" y="516.49" width="10.39" height="51.30" fill="#EFEFEF"/>
<rect x="175.23" y="516.49" width="10.39" height="51.30" fill="#EFEFEF"/>
<rect x="186.12" y="516.49" width="10.39" height="51.30" fill="#EFEFEF"/>
<rect x="197.02" y="516.49" width="10.39" height="51.30" fill="#EFEFEF"/>
<rect x="207.91" y="516.49" width="10.39" height="51.30" fill="#EFEFEF"/>
<rect x="218.80" y="516.49" width="10.39" height="51.30" fill="#EFEFEF"/>
<rect x="229.69" y="516.49" width="10.39" height="51.30" fill="#EFEFEF"/>
<rect x="240.59" y="516.49" width="10.39" height="51.30" fill="#EFEFEF"/>
<rect x="251.48" y="516.49" width="10.39" height="51.30" fill="#EFEFEF"/>
<rect x="262.37" y="516.49" width="10.39" height="51.30" fill="#EFEFEF"/>
<rect x="273.27" y="516.49" width="10.39" height="51.30" fill="#EFEFEF"/>
<rect x="284.16" y="516.49" width="10.39" height="51.30" fill="#EFEFEF"/>
<rect x="295.05" y="516.49" width="10.39" height="51.30" fill="#EFEFEF"/>
<rect x="305.95" y="516.49" width="10.39" height="51.30" fill="#EFEFEF"/>
<rect x="316.84" y="516.49" width="10.39" height="51.30" fill="#EFEFEF"/>
<rect x="327.73" y="516.49" width="10.39" height="51.30" fill="#EFEFEF"/>
<rect x="338.62" y="516.49" width="10.39" height="51.30" fill="#EFEFEF"/>
<rect x="349.52" y="516.49" width="10.39" height="51.30" fill="#EFEFEF"/>
<rect x="360.41" y="516.49" width="10.39" height="51.30" fill="#EFEFEF"/>
<rect x="371.30" y="516.49" width="10.39" height="51.30" fill="#EFEFEF"/>
<rect x="382.20" y="516.49" width="10.39" height="51.30" fill="#EFEFEF"/>
<rect x="393.09" y="516.49" width="10.39" height="51.30" fill="#EFEFEF"/>
<rect x="403.98" y="516.49" width="10.39" height="51.30" fill="#EFEFEF"/>
<rect x="414.88" y="516.49" width="10.39" height="51.30" fill="#EFEFEF"/>
<rect x="425.77" y="516.49" width="10.39" height="51.30" fill="#EFEFEF"/>
<rect x="436.66" y="516.49" width="10.39" height="51.30" fill="#EFEFEF"/>
<rect x="447.55" y="516.49" width="10.39" height="51.30" fill="#EFEFEF"/>
<rect x="458.45" y="516.49" width="10.39" height="51.30" fill="#EFEFEF"/>
<rect x="469.34" y="516.49" width="10.39" height="51.30" fill="#EFEFEF"/>
<rect x="480.23" y="516.49" width="10.39" height="51.30" fill="#EFEFEF"/>
<rect x="491.13" y="516.49" width="10.39" height="51.30" fill="#EFEFEF"/>
<rect x="502.02" y="516.49" width="10.39" height="51.30" fill="#EFEFEF"/>
<rect x="512.91" y="516.49" width="10.39" height="51.30" fill="#EFEFEF"/>
<rect x="523.81" y="516.49" width="10.39" height="51.30" fill="#EFEFEF"/>
<rect x="534.70" y="516.49" width="10.39" height="51.30" fill="#EFEFEF"/>
<rect x="545.59" y="516.49" width="10.39" height="51.30" fill="#EFEFEF"/>
<rect x="556.48" y="516.49" width="10.39" height="51.30" fill="#EFEFEF"/>
<rect x="567.38" y="516.49" width="10.39" height="51.30" fill="#EFEFEF"/>
<rect x="578.27" y="516.49" width="10.39" height="51.30" fill="#EFEFEF"/>
<rect x="589.16" y="516.49" width="10.39" height="51.30" fill="#EFEFEF"/>
<rect x="600.06" y="516.49" width="10.39" height="51.30" fill="#EFEFEF"/>
<rect x="610.95" y="516.49" width="10.39" height="51.30" fill="#EFEFEF"/>
<rect x="621.84" y="516.49" width="10.39" height="51.30" fill="#EFEFEF"/>
<rect x="632.74" y="516.49" width="10.39" height="51.30" fill="#EFEFEF"/>
<rect x="643.63" y="516.49" width="10.39" height="51.30" fill="#EFEFEF"/>
<rect x="654.52" y="516.49" width="10.39" height="51.30" fill="#EFEFEF"/>
<rect x="665.41" y="516.49" width="10.39" height="51.30" fill="#EFEFEF"/>
<rect x="676.31" y="516.49" width="10.39" height="51.30" fill="#EFEFEF"/>
<rect x="687.20" y="516.49" width="10.39" height="51.30" fill="#EFEFEF"/>
<rect x="698.09" y="516.49" width="10.39" height="51.30" fill="#EFEFEF"/>
<rect x="708.99" y="516.49" width="10.39" height="51.30" fill="#EFEFEF"/>
<rect x="719.88" y="516.49" width="10.39" height="51.30" fill="#EFEFEF"/>
<rect x="730.77" y="516.49" width="10.39" height="51.30" fill="#EFEFEF"/>
<rect x="741.66" y="516.49" width="10.39" height="51.30" fill="#EFEFEF"/>
<rect x="752.56" y="516.49" width="10.39" height="51.30" fill="#EFEFEF"/>
<rect x="763.45" y="516.49" width="10.39" height="51.30" fill="#EFEFEF"/>
<rect x="774.34" y="516.49" width="10.39" height="51.30" fill="#EFEFEF"/>
<rect x="142.55" y="568.96" width="10.39" height="51.30" fill="#EFEFEF"/>
<rect x="153.44" y="568.96" width="10.39" height="51.30" fill="#EFEFEF"/>
<rect x="164.34" y="568.96" width="10.39" height="51.30" fill="#EFEFEF"/>
<rect x="175.23" y="568.96" width="10.39" height="51.30" fill="#EFEFEF"/>
<rect x="186.12" y="568.96" width="10.39" height="51.30" fill="#EFEFEF"/>
<rect x="197.02" y="568.96" width="10.39" height="51.30" fill="#EFEFEF"/>
<rect x="207.91" y="568.96" width="10.39" height="51.30" fill="#EFEFEF"/>
<rect x="218.80" y="568.96" width="10.39" height="51.30" fill="#EFEFEF"/>
<rect x="229.69" y="568.96" width="10.39" height="51.30" fill="#EFEFEF"/>
<rect x="240.59" y="568.96" width="10.39" height="51.30" fill="#EFEFEF"/>
<rect x="251.48" y="568.96" width="10.39" height="51.30" fill="#EFEFEF"/>
<rect x="262.37" y="568.96" width="10.39" height="51.30" fill="#EFEFEF"/>
<rect x="273.27" y="568.96" width="10.39" height="51.30" fill="#EFEFEF"/>
<rect x="284.16" y="568.96" width="10.39" height="51.30" fill="#EFEFEF"/>
<rect x="295.05" y="568.96" width="10.39" height="51.30" fill="#EFEFEF"/>
<rect x="305.95" y="568.96" width="10.39" height="51.30" fill="#EFEFEF"/>
<rect x="316.84" y="568.96" width="10.39" height="51.30" fill="#EFEFEF"/>
<rect x="327.73" y="568.96" width="10.39" height="51.30" fill="#EFEFEF"/>
<rect x="338.62" y="568.96" width="10.39" height="51.30" fill="#EFEFEF"/>
<rect x="349.52" y="568.96" width="10.39" height="51.30" fill="#EFEFEF"/>
<rect x="360.41" y="568.96" width="10.39" height="51.30" fill="#EFEFEF"/>
<rect x="371.30" y="568.96" width="10.39" height="51.30" fill="#EFEFEF"/>
<rect x="382.20" y="568.96" width="10.39" height="51.30" fill="#EFEFEF"/>
<rect x="393.09" y="568.96" width="10.39" height="51.30" fill="#EFEFEF"/>
<rect x="403.98" y="568.96" width="10.39" height="51.30" fill="#EFEFEF"/>
<rect x="414.88" y="568.96" width="10.39" height="51.30" fill="#EFEFEF"/>
<rect x="425.77" y="568.96" width="10.39" height="51.30" fill="#EFEFEF"/>
<rect x="436.66" y="568.96" width="10.39" height="51.30" fill="#EFEFEF"/>
<rect x="447.55" y="568.96" width="10.39" height="51.30" fill="#EFEFEF"/>
<rect x="458.45" y="568.96" width="10.39" height="51.30" fill="#EFEFEF"/>
<rect x="469.34" y="568.96" width="10.39" height="51.30" fill="#EFEFEF"/>
<rect x="480.23" y="568.96" width="10.39" height="51.30" fill="#EFEFEF"/>
<rect x="491.13" y="568.96" width="10.39" height="51.30" fill="#EFEFEF"/>
<rect x="502.02" y="568.96" width="10.39" height="51.30" fill="#EFEFEF"/>
<rect x="512.91" y="568.96" width="10.39" height="51.30" fill="#EFEFEF"/>
<rect x="523.81" y="568.96" width="10.39" height="51.30" fill="#EFEFEF"/>
<rect x="534.70" y="568.96" width="10.39" height="51.30" fill="#EFEFEF"/>
<rect x="545.59" y="568.96" width="10.39" height="51.30" fill="#EFEFEF"/>
<rect x="556.48" y="568.96" width="10.39" height="51.30" fill="#EFEFEF"/>
<rect x="567.38" y="568.96" width="10.39" height="51.30" fill="#EFEFEF"/>
<rect x="578.27" y="568.96" width="10.39" height="51.30" fill="#EFEFEF"/>
<rect x="589.16" y="568.96" width="10.39" height="51.30" fill="#EFEFEF"/>
<rect x="600.06" y="568.96" width="10.39" height="51.30" fill="#EFEFEF"/>
<rect x="610.95" y="568.96" width="10.39" height="51.30" fill="#EFEFEF"/>
<rect x="621.84" y="568.96" width="10.39" height="51.30" fill="#EFEFEF"/>
<rect x="632.74" y="568.96" width="10.39" height="51.30" fill="#EFEFEF"/>
<rect x="643.63" y="568.96" width="10.39" height="51.30" fill="#EFEFEF"/>
<rect x="654.52" y="568.96" width="10.39" height="51.30" fill="#EFEFEF"/>
<rect x="665.41" y="568.96" width="10.39" height="51.30" fill="#EFEFEF"/>
<rect x="676.31" y="568.96" width="10.39" height="51.30" fill="#EFEFEF"/>
<rect x="687.20" y="568.96" width="10.39" height="51.30" fill="#EFEFEF"/>
<rect x="698.09" y="568.96" width="10.39" height="51.30" fill="#EFEFEF"/>
<rect x="708.99" y="568.96" width="10.39" height="51.30" fill="#EFEFEF"/>
<rect x="719.88" y="568.96" width="10.39" height="51.30" fill="#EFEFEF"/>
<rect x="730.77" y="568.96" width="10.39" height="51.30" fill="#EFEFEF"/>
<rect x="741.66" y="568.96" width="10.39" height="51.30" fill="#EFEFEF"/>
<rect x="752.56" y="568.96" width="10.39" height="51.30" fill="#EFEFEF"/>
<rect x="763.45" y="568.96" width="10.39" height="51.30" fill="#EFEFEF"/>
<rect x="774.34" y="568.96" width="10.39" height="51.30" fill="#EFEFEF"/>
<rect x="142.55" y="621.43" width="10.39" height="51.30" fill="#EFEFEF"/>
<rect x="153.44" y="621.43" width="10.39" height="51.30" fill="#EFEFEF"/>
<rect x="164.34" y="621.43" width="10.39" height="51.30" fill="#EFEFEF"/>
<rect x="175.23" y="621.43" width="10.39" height="51.30" fill="#EFEFEF"/>
<rect x="186.12" y="621.43" width="10.39" height="51.30" fill="#EFEFEF"/>
<rect x="197.02" y="621.43" width="10.39" height="51.30" fill="#EFEFEF"/>
<rect x="207.91" y="621.43" width="10.39" height="51.30" fill="#EFEFEF"/>
<rect x="218.80" y="621.43" width="10.39" height="51.30" fill="#EFEFEF"/>
<rect x="229.69" y="621.43" width="10.39" height="51.30" fill="#EFEFEF"/>
<rect x="240.59" y="621.43" width="10.39" height="51.30" fill="#EFEFEF"/>
<rect x="251.48" y="621.43" width="10.39" height="51.30" fill="#EFEFEF"/>
<rect x="262.37" y="621.43" width="10.39" height="51.30" fill="#EFEFEF"/>
<rect x="273.27" y="621.43" width="10.39" height="51.30" fill="#EFEFEF"/>
<rect x="284.16" y="621.43" width="10.39" height="51.30" fill="#EFEFEF"/>
<rect x="295.05" y="621.43" width="10.39" height="51.30" fill="#EFEFEF"/>
<rect x="305.95" y="621.43" width="10.39" height="51.30" fill="#EFEFEF"/>
<rect x="316.84" y="621.43" width="10.39" height="51.30" fill="#EFEFEF"/>
<rect x="327.73" y="621.43" width="10.39" height="51.30" fill="#EFEFEF"/>
<rect x="338.62" y="621.43" width="10.39" height="51.30" fill="#EFEFEF"/>
<rect x="349.52" y="621.43" width="10.39" height="51.30" fill="#EFEFEF"/>
<rect x="360.41" y="621.43" width="10.39" height="51.30" fill="#EFEFEF"/>
<rect x="371.30" y="621.43" width="10.39" height="51.30" fill="#EFEFEF"/>
<rect x="382.20" y="621.43" width="10.39" height="51.30" fill="#EFEFEF"/>
<rect x="393.09" y="621.43" width="10.39" height="51.30" fill="#EFEFEF"/>
<rect x="403.98" y="621.43" width="10.39" height="51.30" fill="#EFEFEF"/>
<rect x="414.88" y="621.43" width="10.39" height="51.30" fill="#EFEFEF"/>
<rect x="425.77" y="621.43" width="10.39" height="51.30" fill="#EFEFEF"/>
<rect x="436.66" y="621.43" width="10.39" height="51.30" fill="#EFEFEF"/>
<rect x="447.55" y="621.43" width="10.39" height="51.30" fill="#EFEFEF"/>
<rect x="458.45" y="621.43" width="10.39" height="51.30" fill="#EFEFEF"/>
<rect x="469.34" y="621.43" width="10.39" height="51.30" fill="#EFEFEF"/>
<rect x="480.23" y="621.43" width="10.39" height="51.30" fill="#EFEFEF"/>
<rect x="491.13" y="621.43" width="10.39" height="51.30" fill="#EFEFEF"/>
<rect x="502.02" y="621.43" width="10.39" height="51.30" fill="#EFEFEF"/>
<rect x="512.91" y="621.43" width="10.39" height="51.30" fill="#EFEFEF"/>
<rect x="523.81" y="621.43" width="10.39" height="51.30" fill="#EFEFEF"/>
<rect x="534.70" y="621.43" width="10.39" height="51.30" fill="#EFEFEF"/>
<rect x="545.59" y="621.43" width="10.39" height="51.30" fill="#EFEFEF"/>
<rect x="556.48" y="621.43" width="10.39" height="51.30" fill="#EFEFEF"/>
<rect x="567.38" y="621.43" width="10.39" height="51.30" fill="#EFEFEF"/>
<rect x="578.27" y="621.43" width="10.39" height="51.30" fill="#EFEFEF"/>
<rect x="589.16" y="621.43" width="10.39" height="51.30" fill="#EFEFEF"/>
<rect x="600.06" y="621.43" width="10.39" height="51.30" fill="#EFEFEF"/>
<rect x="610.95" y="621.43" width="10.39" height="51.30" fill="#EFEFEF"/>
<rect x="621.84" y="621.43" width="10.39" height="51.30" fill="#EFEFEF"/>
<rect x="632.74" y="621.43" width="10.39" height="51.30" fill="#EFEFEF"/>
<rect x="643.63" y="621.43" width="10.39" height="51.30" fill="#EFEFEF"/>
<rect x="654.52" y="621.43" width="10.39" height="51.30" fill="#EFEFEF"/>
<rect x="665.41" y="621.43" width="10.39" height="51.30" fill="#EFEFEF"/>
<rect x="676.31" y="621.43" width="10.39" height="51.30" fill="#EFEFEF"/>
<rect x="687.20" y="621.43" width="10.39" height="51.30" fill="#EFEFEF"/>
<rect x="698.09" y="621.43" width="10.39" height="51.30" fill="#EFEFEF"/>
<rect x="708.99" y="621.43" width="10.39" height="51.30" fill="#EFEFEF"/>
<rect x="719.88" y="621.43" width="10.39" height="51.30" fill="#EFEFEF"/>
<rect x="730.77" y="621.43" width="10.39" height="51.30" fill="#EFEFEF"/>
<rect x="741.66" y="621.43" width="10.39" height="51.30" fill="#EFEFEF"/>
<rect x="752.56" y="621.43" width="10.39" height="51.30" fill="#EFEFEF"/>
<rect x="763.45" y="621.43" width="10.39" height="51.30" fill="#EFEFEF"/>
<rect x="774.34" y="621.43" width="10.39" height="51.30" fill="#EFEFEF"/>
<rect x="142.55" y="673.90" width="10.39" height="51.30" fill="#EFEFEF"/>
<rect x="153.44" y="673.90" width="10.39" height="51.30" fill="#EFEFEF"/>
<rect x="164.34" y="673.90" width="10.39" height="51.30" fill="#EFEFEF"/>
<rect x="175.23" y="673.90" width="10.39" height="51.30" fill="#EFEFEF"/>
<rect x="186.12" y="673.90" width="10.39" height="51.30" fill="#EFEFEF"/>
<rect x="197.02" y="673.90" width="10.39" height="51.30" fill="#EFEFEF"/>
<rect x="207.91" y="673.90" width="10.39" height="51.30" fill="#EFEFEF"/>
<rect x="218.80" y="673.90" width="10.39" height="51.30" fill="#EFEFEF"/>
<rect x="229.69" y="673.90" width="10.39" height="51.30" fill="#EFEFEF"/>
<rect x="240.59" y="673.90" width="10.39" height="51.30" fill="#EFEFEF"/>
<rect x="251.48" y="673.90" width="10.39" height="51.30" fill="#EFEFEF"/>
<rect x="262.37" y="673.90" width="10.39" height="51.30" fill="#EFEFEF"/>
<rect x="273.27" y="673.90" width="10.39" height="51.30" fill="#EFEFEF"/>
<rect x="284.16" y="673.90" width="10.39" height="51.30" fill="#EFEFEF"/>
<rect x="295.05" y="673.90" width="10.39" height="51.30" fill="#EFEFEF"/>
<rect x="305.95" y="673.90" width="10.39" height="51.30" fill="#EFEFEF"/>
<rect x="316.84" y="673.90" width="10.39" height="51.30" fill="#EFEFEF"/>
<rect x="327.73" y="673.90" width="10.39" height="51.30" fill="#EFEFEF"/>
<rect x="338.62" y="673.90" width="10.39" height="51.30" fill="#EFEFEF"/>
<rect x="349.52" y="673.90" width="10.39" height="51.30" fill="#EFEFEF"/>
<rect x="360.41" y="673.90" width="10.39" height="51.30" fill="#EFEFEF"/>
<rect x="371.30" y="673.90" width="10.39" height="51.30" fill="#EFEFEF"/>
<rect x="382.20" y="673.90" width="10.39" height="51.30" fill="#EFEFEF"/>
<rect x="393.09" y="673.90" width="10.39" height="51.30" fill="#EFEFEF"/>
<rect x="403.98" y="673.90" width="10.39" height="51.30" fill="#EFEFEF"/>
<rect x="414.88" y="673.90" width="10.39" height="51.30" fill="#EFEFEF"/>
<rect x="425.77" y="673.90" width="10.39" height="51.30" fill="#EFEFEF"/>
<rect x="436.66" y="673.90" width="10.39" height="51.30" fill="#EFEFEF"/>
<rect x="447.55" y="673.90" width="10.39" height="51.30" fill="#EFEFEF"/>
<rect x="458.45" y="673.90" width="10.39" height="51.30" fill="#EFEFEF"/>
<rect x="469.34" y="673.90" width="10.39" height="51.30" fill="#EFEFEF"/>
<rect x="480.23" y="673.90" width="10.39" height="51.30" fill="#EFEFEF"/>
<rect x="491.13" y="673.90" width="10.39" height="51.30" fill="#EFEFEF"/>
<rect x="502.02" y="673.90" width="10.39" height="51.30" fill="#EFEFEF"/>
<rect x="512.91" y="673.90" width="10.39" height="51.30" fill="#EFEFEF"/>
<rect x="523.81" y="673.90" width="10.39" height="51.30" fill="#EFEFEF"/>
<rect x="534.70" y="673.90" width="10.39" height="51.30" fill="#EFEFEF"/>
<rect x="545.59" y="673.90" width="10.39" height="51.30" fill="#EFEFEF"/>
<rect x="556.48" y="673.90" width="10.39" height="51.30" fill="#EFEFEF"/>
<rect x="567.38" y="673.90" width="10.39" height="51.30" fill="#EFEFEF"/>
<rect x="578.27" y="673.90" width="10.39" height="51.30" fill="#EFEFEF"/>
<rect x="589.16" y="673.90" width="10.39" height="51.30" fill="#EFEFEF"/>
<rect x="600.06" y="673.90" width="10.39" height="51.30" fill="#EFEFEF"/>
<rect x="610.95" y="673.90" width="10.39" height="51.30" fill="#EFEFEF"/>
<rect x="621.84" y="673.90" width="10.39" height="51.30" fill="#EFEFEF"/>
<rect x="632.74" y="673.90" width="10.39" height="51.30" fill="#EFEFEF"/>
<rect x="643.63" y="673.90" width="10.39" height="51.30" fill="#EFEFEF"/>
<rect x="654.52" y="673.90" width="10.39" height="51.30" fill="#EFEFEF"/>
<rect x="665.41" y="673.90" width="10.39" height="51.30" fill="#EFEFEF"/>
<rect x="676.31" y="673.90" width="10.39" height="51.30" fill="#EFEFEF"/>
<rect x="687.20" y="673.90" width="10.39" height="51.30" fill="#EFEFEF"/>
<rect x="698.09" y="673.90" width="10.39" height="51.30" fill="#EFEFEF"/>
<rect x="708.99" y="673.90" width="10.39" height="51.30" fill="#EFEFEF"/>
<rect x="719.88" y="673.90" width="10.39" height="51.30" fill="#EFEFEF"/>
<rect x="730.77" y="673.90" width="10.39" height="51.30" fill="#EFEFEF"/>
<rect x="741.66" y="673.90" width="10.39" height="51.30" fill="#EFEFEF"/>
<rect x="752.56" y="673.90" width="10.39" height="51.30" fill="#EFEFEF"/>
<rect x="763.45" y="673.90" width="10.39" height="51.30" fill="#EFEFEF"/>
<rect x="774.34" y="673.90" width="10.39" height="51.30" fill="#EFEFEF"/>
<rect x="142.55" y="726.37" width="10.39" height="51.30" fill="#EFEFEF"/>
<rect x="153.44" y="726.37" width="10.39" height="51.30" fill="#EFEFEF"/>
<rect x="164.34" y="726.37" width="10.39" height="51.30" fill="#EFEFEF"/>
<rect x="175.23" y="726.37" width="10.39" height="51.30" fill="#EFEFEF"/>
<rect x="186.12" y="726.37" width="10.39" height="51.30" fill="#EFEFEF"/>
<rect x="197.02" y="726.37" width="10.39" height="51.30" fill="#EFEFEF"/>
<rect x="207.91" y="726.37" width="10.39" height="51.30" fill="#EFEFEF"/>
<rect x="218.80" y="726.37" width="10.39" height="51.30" fill="#EFEFEF"/>
<rect x="229.69" y="726.37" width="10.39" height="51.30" fill="#EFEFEF"/>
<rect x="240.59" y="726.37" width="10.39" height="51.30" fill="#EFEFEF"/>
<rect x="251.48" y="726.37" width="10.39" height="51.30" fill="#EFEFEF"/>
<rect x="262.37" y="726.37" width="10.39" height="51.30" fill="#EFEFEF"/>
<rect x="273.27" y="726.37" width="10.39" height="51.30" fill="#EFEFEF"/>
<rect x="284.16" y="726.37" width="10.39" height="51.30" fill="#EFEFEF"/>
<rect x="295.05" y="726.37" width="10.39" height="51.30" fill="#EFEFEF"/>
<rect x="305.95" y="726.37" width="10.39" height="51.30" fill="#EFEFEF"/>
<rect x="316.84" y="726.37" width="10.39" height="51.30" fill="#EFEFEF"/>
<rect x="327.73" y="726.37" width="10.39" height="51.30" fill="#EFEFEF"/>
<rect x="338.62" y="726.37" width="10.39" height="51.30" fill="#EFEFEF"/>
<rect x="349.52" y="726.37" width="10.39" height="51.30" fill="#EFEFEF"/>
<rect x="360.41" y="726.37" width="10.39" height="51.30" fill="#EFEFEF"/>
<rect x="371.30" y="726.37" width="10.39" height="51.30" fill="#EFEFEF"/>
<rect x="382.20" y="726.37" width="10.39" height="51.30" fill="#EFEFEF"/>
<rect x="393.09" y="726.37" width="10.39" height="51.30" fill="#EFEFEF"/>
<rect x="403.98" y="726.37" width="10.39" height="51.30" fill="#EFEFEF"/>
<rect x="414.88" y="726.37" width="10.39" height="51.30" fill="#EFEFEF"/>
<rect x="425.77" y="726.37" width="10.39" height="51.30" fill="#EFEFEF"/>
<rect x="436.66" y="726.37" width="10.39" height="51.30" fill="#EFEFEF"/>
<rect x="447.55" y="726.37" width="10.39" height="51.30" fill="#EFEFEF"/>
<rect x="458.45" y="726.37" width="10.39" height="51.30" fill="#EFEFEF"/>
<rect x="469.34" y="726.37" width="10.39" height="51.30" fill="#EFEFEF"/>
<rect x="480.23" y="726.37" width="10.39" height="51.30" fill="#EFEFEF"/>
<rect x="491.13" y="726.37" width="10.39" height="51.30" fill="#EFEFEF"/>
<rect x="502.02" y="726.37" width="10.39" height="51.30" fill="#EFEFEF"/>
<rect x="512.91" y="726.37" width="10.39" height="51.30" fill="#EFEFEF"/>
<rect x="523.81" y="726.37" width="10.39" height="51.30" fill="#EFEFEF"/>
<rect x="534.70" y="726.37" width="10.39" height="51.30" fill="#EFEFEF"/>
<rect x="545.59" y="726.37" width="10.39" height="51.30" fill="#EFEFEF"/>
<rect x="556.48" y="726.37" width="10.39" height="51.30" fill="#EFEFEF"/>
<rect x="567.38" y="726.37" width="10.39" height="51.30" fill="#EFEFEF"/>
<rect x="578.27" y="726.37" width="10.39" height="51.30" fill="#EFEFEF"/>
<rect x="589.16" y="726.37" width="10.39" height="51.30" fill="#EFEFEF"/>
<rect x="600.06" y="726.37" width="10.39" height="51.30" fill="#EFEFEF"/>
<rect x="610.95" y="726.37" width="10.39" height="51.30" fill="#EFEFEF"/>
<rect x="621.84" y="726.37" width="10.39" height="51.30" fill="#EFEFEF"/>
<rect x="632.74" y="726.37" width="10.39" height="51.30" fill="#EFEFEF"/>
<rect x="643.63" y="726.37" width="10.39" height="51.30" fill="#EFEFEF"/>
<rect x="654.52" y="726.37" width="10.39" height="51.30" fill="#EFEFEF"/>
<rect x="665.41" y="726.37" width="10.39" height="51.30" fill="#EFEFEF"/>
<rect x="676.31" y="726.37" width="10.39" height="51.30" fill="#EFEFEF"/>
<rect x="687.20" y="726.37" width="10.39" height="51.30" fill="#EFEFEF"/>
<rect x="698.09" y="726.37" width="10.39" height="51.30" fill="#EFEFEF"/>
<rect x="708.99" y="726.37" width="10.39" height="51.30" fill="#EFEFEF"/>
<rect x="719.88" y="726.37" width="10.39" height="51.30" fill="#EFEFEF"/>
<rect x="730.77" y="726.37" width="10.39" height="51.30" fill="#EFEFEF"/>
<rect x="741.66" y="726.37" width="10.39" height="51.30" fill="#EFEFEF"/>
<rect x="752.56" y="726.37" width="10.39" height="51.30" fill="#EFEFEF"/>
<rect x="763.45" y="726.37" width="10.39" height="51.30" fill="#EFEFEF"/>
<rect x="774.34" y="726.37" width="10.39" height="51.30" fill="#EFEFEF"/>
<rect x="142.55" y="778.84" width="10.39" height="51.30" fill="#EFEFEF"/>
<rect x="153.44" y="778.84" width="10.39" height="51.30" fill="#EFEFEF"/>
<rect x="164.34" y="778.84" width="10.39" height="51.30" fill="#EFEFEF"/>
<rect x="175.23" y="778.84" width="10.39" height="51.30" fill="#EFEFEF"/>
<rect x="186.12" y="778.84" width="10.39" height="51.30" fill="#EFEFEF"/>
<rect x="197.02" y="778.84" width="10.39" height="51.30" fill="#EFEFEF"/>
<rect x="207.91" y="778.84" width="10.39" height="51.30" fill="#EFEFEF"/>
<rect x="218.80" y="778.84" width="10.39" height="51.30" fill="#EFEFEF"/>
<rect x="229.69" y="778.84" width="10.39" height="51.30" fill="#EFEFEF"/>
<rect x="240.59" y="778.84" width="10.39" height="51.30" fill="#EFEFEF"/>
<rect x="251.48" y="778.84" width="10.39" height="51.30" fill="#EFEFEF"/>
<rect x="262.37" y="778.84" width="10.39" height="51.30" fill="#EFEFEF"/>
<rect x="273.27" y="778.84" width="10.39" height="51.30" fill="#EFEFEF"/>
<rect x="284.16" y="778.84" width="10.39" height="51.30" fill="#EFEFEF"/>
<rect x="295.05" y="778.84" width="10.39" height="51.30" fill="#EFEFEF"/>
<rect x="305.95" y="778.84" width="10.39" height="51.30" fill="#EFEFEF"/>
<rect x="316.84" y="778.84" width="10.39" height="51.30" fill="#EFEFEF"/>
<rect x="327.73" y="778.84" width="10.39" height="51.30" fill="#EFEFEF"/>
<rect x="338.62" y="778.84" width="10.39" height="51.30" fill="#EFEFEF"/>
<rect x="349.52" y="778.84" width="10.39" height="51.30" fill="#EFEFEF"/>
<rect x="360.41" y="778.84" width="10.39" height="51.30" fill="#EFEFEF"/>
<rect x="371.30" y="778.84" width="10.39" height="51.30" fill="#EFEFEF"/>
<rect x="382.20" y="778.84" width="10.39" height="51.30" fill="#EFEFEF"/>
<rect x="393.09" y="778.84" width="10.39" height="51.30" fill="#EFEFEF"/>
<rect x="403.98" y="778.84" width="10.39" height="51.30" fill="#EFEFEF"/>
<rect x="414.88" y="778.84" width="10.39" height="51.30" fill="#EFEFEF"/>
<rect x="425.77" y="778.84" width="10.39" height="51.30" fill="#EFEFEF"/>
<rect x="436.66" y="778.84" width="10.39" height="51.30" fill="#EFEFEF"/>
<rect x="447.55" y="778.84" width="10.39" height="51.30" fill="#EFEFEF"/>
<rect x="458.45" y="778.84" width="10.39" height="51.30" fill="#EFEFEF"/>
<rect x="469.34" y="778.84" width="10.39" height="51.30" fill="#EFEFEF"/>
<rect x="480.23" y="778.84" width="10.39" height="51.30" fill="#EFEFEF"/>
<rect x="491.13" y="778.84" width="10.39" height="51.30" fill="#EFEFEF"/>
<rect x="502.02" y="778.84" width="10.39" height="51.30" fill="#EFEFEF"/>
<rect x="512.91" y="778.84" width="10.39" height="51.30" fill="#EFEFEF"/>
<rect x="523.81" y="778.84" width="10.39" height="51.30" fill="#EFEFEF"/>
<rect x="534.70" y="778.84" width="10.39" height="51.30" fill="#EFEFEF"/>
<rect x="545.59" y="778.84" width="10.39" height="51.30" fill="#EFEFEF"/>
<rect x="556.48" y="778.84" width="10.39" height="51.30" fill="#EFEFEF"/>
<rect x="567.38" y="778.84" width="10.39" height="51.30" fill="#EFEFEF"/>
<rect x="578.27" y="778.84" width="10.39" height="51.30" fill="#EFEFEF"/>
<rect x="589.16" y="778.84" width="10.39" height="51.30" fill="#EFEFEF"/>
<rect x="600.06" y="778.84" width="10.39" height="51.30" fill="#EFEFEF"/>
<rect x="610.95" y="778.84" width="10.39" height="51.30" fill="#EFEFEF"/>
<rect x="621.84" y="778.84" width="10.39" height="51.30" fill="#EFEFEF"/>
<rect x="632.74" y="778.84" width="10.39" height="51.30" fill="#EFEFEF"/>
<rect x="643.63" y="778.84" width="10.39" height="51.30" fill="#EFEFEF"/>
<rect x="654.52" y="778.84" width="10.39" height="51.30" fill="#EFEFEF"/>
<rect x="665.41" y="778.84" width="10.39" height="51.30" fill="#EFEFEF"/>
<rect x="676.31" y="778.84" width="10.39" height="51.30" fill="#EFEFEF"/>
<rect x="687.20" y="778.84" width="10.39" height="51.30" fill="#EFEFEF"/>
<rect x="698.09" y="778.84" width="10.39" height="51.30" fill="#EFEFEF"/>
<rect x="708.99" y="778.84" width="10.39" height="51.30" fill="#EFEFEF"/>
<rect x="719.88" y="778.84" width="10.39" height="51.30" fill="#EFEFEF"/>
<rect x="730.77" y="778.84" width="10.39" height="51.30" fill="#EFEFEF"/>
<rect x="741.66" y="778.84" width="10.39" height="51.30" fill="#EFEFEF"/>
<rect x="752.56" y="778.84" width="10.39" height="51.30" fill="#EFEFEF"/>
<rect x="763.45" y="778.84" width="10.39" height="51.30" fill="#EFEFEF"/>
<rect x="774.34" y="778.84" width="10.39" height="51.30" fill="#EFEFEF"/>
<rect x="142.55" y="831.31" width="10.39" height="51.30" fill="#EFEFEF"/>
<rect x="153.44" y="831.31" width="10.39" height="51.30" fill="#EFEFEF"/>
<rect x="164.34" y="831.31" width="10.39" height="51.30" fill="#EFEFEF"/>
<rect x="175.23" y="831.31" width="10.39" height="51.30" fill="#EFEFEF"/>
<rect x="186.12" y="831.31" width="10.39" height="51.30" fill="#EFEFEF"/>
<rect x="197.02" y="831.31" width="10.39" height="51.30" fill="#EFEFEF"/>
<rect x="207.91" y="831.31" width="10.39" height="51.30" fill="#EFEFEF"/>
<rect x="218.80" y="831.31" width="10.39" height="51.30" fill="#EFEFEF"/>
<rect x="229.69" y="831.31" width="10.39" height="51.30" fill="#EFEFEF"/>
<rect x="240.59" y="831.31" width="10.39" height="51.30" fill="#EFEFEF"/>
<rect x="251.48" y="831.31" width="10.39" height="51.30" fill="#EFEFEF"/>
<rect x="262.37" y="831.31" width="10.39" height="51.30" fill="#EFEFEF"/>
<rect x="273.27" y="831.31" width="10.39" height="51.30" fill="#EFEFEF"/>
<rect x="284.16" y="831.31" width="10.39" height="51.30" fill="#EFEFEF"/>
<rect x="295.05" y="831.31" width="10.39" height="51.30" fill="#EFEFEF"/>
<rect x="305.95" y="831.31" width="10.39" height="51.30" fill="#EFEFEF"/>
<rect x="316.84" y="831.31" width="10.39" height="51.30" fill="#EFEFEF"/>
<rect x="327.73" y="831.31" width="10.39" height="51.30" fill="#EFEFEF"/>
<rect x="338.62" y="831.31" width="10.39" height="51.30" fill="#EFEFEF"/>
<rect x="349.52" y="831.31" width="10.39" height="51.30" fill="#EFEFEF"/>
<rect x="360.41" y="831.31" width="10.39" height="51.30" fill="#EFEFEF"/>
<rect x="371.30" y="831.31" width="10.39" height="51.30" fill="#EFEFEF"/>
<rect x="382.20" y="831.31" width="10.39" height="51.30" fill="#EFEFEF"/>
<rect x="393.09" y="831.31" width="10.39" height="51.30" fill="#EFEFEF"/>
<rect x="403.98" y="831.31" width="10.39" height="51.30" fill="#EFEFEF"/>
<rect x="414.88" y="831.31" width="10.39" height="51.30" fill="#EFEFEF"/>
<rect x="425.77" y="831.31" width="10.39" height="51.30" fill="#EFEFEF"/>
<rect x="436.66" y="831.31" width="10.39" height="51.30" fill="#EFEFEF"/>
<rect x="447.55" y="831.31" width="10.39" height="51.30" fill="#EFEFEF"/>
<rect x="458.45" y="831.31" width="10.39" height="51.30" fill="#EFEFEF"/>
<rect x="469.34" y="831.31" width="10.39" height="51.30" fill="#EFEFEF"/>
<rect x="480.23" y="831.31" width="10.39" height="51.30" fill="#EFEFEF"/>
<rect x="491.13" y="831.31" width="10.39" height="51.30" fill="#EFEFEF"/>
<rect x="502.02" y="831.31" width="10.39" height="51.30" fill="#EFEFEF"/>
<rect x="512.91" y="831.31" width="10.39" height="51.30" fill="#EFEFEF"/>
<rect x="523.81" y="831.31" width="10.39" height="51.30" fill="#EFEFEF"/>
<rect x="534.70" y="831.31" width="10.39" height="51.30" fill="#EFEFEF"/>
<rect x="545.59" y="831.31" width="10.39" height="51.30" fill="#EFEFEF"/>
<rect x="556.48" y="831.31" width="10.39" height="51.30" fill="#EFEFEF"/>
<rect x="567.38" y="831.31" width="10.39" height="51.30" fill="#EFEFEF"/>
<rect x="578.27" y="831.31" width="10.39" height="51.30" fill="#EFEFEF"/>
<rect x="589.16" y="831.31" width="10.39" height="51.30" fill="#EFEFEF"/>
<rect x="600.06" y="831.31" width="10.39" height="51.30" fill="#EFEFEF"/>
<rect x="610.95" y="831.31" width="10.39" height="51.30" fill="#EFEFEF"/>
<rect x="621.84" y="831.31" width="10.39" height="51.30" fill="#EFEFEF"/>
<rect x="632.74" y="831.31" width="10.39" height="51.30" fill="#EFEFEF"/>
<rect x="643.63" y="831.31" width="10.39" height="51.30" fill="#EFEFEF"/>
<rect x="654.52" y="831.31" width="10.39" height="51.30" fill="#EFEFEF"/>
<rect x="665.41" y="831.31" width="10.39" height="51.30" fill="#EFEFEF"/>
<rect x="676.31" y="831.31" width="10.39" height="51.30" fill="#EFEFEF"/>
<rect x="687.20" y="831.31" width="10.39" height="51.30" fill="#EFEFEF"/>
<rect x="698.09" y="831.31" width="10.39" height="51.30" fill="#EFEFEF"/>
<rect x="708.99" y="831.31" width="10.39" height="51.30" fill="#EFEFEF"/>
<rect x="719.88" y="831.31" width="10.39" height="51.30" fill="#EFEFEF"/>
<rect x="730.77" y="831.31" width="10.39" height="51.30" fill="#EFEFEF"/>
<rect x="741.66" y="831.31" width="10.39" height="51.30" fill="#EFEFEF"/>
<rect x="752.56" y="831.31" width="10.39" height="51.30" fill="#EFEFEF"/>
<rect x="763.45" y="831.31" width="10.39" height="51.30" fill="#EFEFEF"/>
<rect x="774.34" y="831.31" width="10.39" height="51.30" fill="#EFEFEF"/>
<rect x="142.55" y="883.78" width="10.39" height="51.30" fill="#EFEFEF"/>
<rect x="153.44" y="883.78" width="10.39" height="51.30" fill="#EFEFEF"/>
<rect x="164.34" y="883.78" width="10.39" height="51.30" fill="#EFEFEF"/>
<rect x="175.23" y="883.78" width="10.39" height="51.30" fill="#EFEFEF"/>
<rect x="186.12" y="883.78" width="10.39" height="51.30" fill="#EFEFEF"/>
<rect x="197.02" y="883.78" width="10.39" height="51.30" fill="#EFEFEF"/>
<rect x="207.91" y="883.78" width="10.39" height="51.30" fill="#EFEFEF"/>
<rect x="218.80" y="883.78" width="10.39" height="51.30" fill="#EFEFEF"/>
<rect x="229.69" y="883.78" width="10.39" height="51.30" fill="#EFEFEF"/>
<rect x="240.59" y="883.78" width="10.39" height="51.30" fill="#EFEFEF"/>
<rect x="251.48" y="883.78" width="10.39" height="51.30" fill="#EFEFEF"/>
<rect x="262.37" y="883.78" width="10.39" height="51.30" fill="#EFEFEF"/>
<rect x="273.27" y="883.78" width="10.39" height="51.30" fill="#EFEFEF"/>
<rect x="284.16" y="883.78" width="10.39" height="51.30" fill="#EFEFEF"/>
<rect x="295.05" y="883.78" width="10.39" height="51.30" fill="#EFEFEF"/>
<rect x="305.95" y="883.78" width="10.39" height="51.30" fill="#EFEFEF"/>
<rect x="316.84" y="883.78" width="10.39" height="51.30" fill="#EFEFEF"/>
<rect x="327.73" y="883.78" width="10.39" height="51.30" fill="#EFEFEF"/>
<rect x="338.62" y="883.78" width="10.39" height="51.30" fill="#EFEFEF"/>
<rect x="349.52" y="883.78" width="10.39" height="51.30" fill="#EFEFEF"/>
<rect x="360.41" y="883.78" width="10.39" height="51.30" fill="#EFEFEF"/>
<rect x="371.30" y="883.78" width="10.39" height="51.30" fill="#EFEFEF"/>
<rect x="382.20" y="883.78" width="10.39" height="51.30" fill="#EFEFEF"/>
<rect x="393.09" y="883.78" width="10.39" height="51.30" fill="#EFEFEF"/>
<rect x="403.98" y="883.78" width="10.39" height="51.30" fill="#EFEFEF"/>
<rect x="414.88" y="883.78" width="10.39" height="51.30" fill="#EFEFEF"/>
<rect x="425.77" y="883.78" width="10.39" height="51.30" fill="#EFEFEF"/>
<rect x="436.66" y="883.78" width="10.39" height="51.30" fill="#EFEFEF"/>
<rect x="447.55" y="883.78" width="10.39" height="51.30" fill="#EFEFEF"/>
<rect x="458.45" y="883.78" width="10.39" height="51.30" fill="#EFEFEF"/>
<rect x="469.34" y="883.78" width="10.39" height="51.30" fill="#EFEFEF"/>
<rect x="480.23" y="883.78" width="10.39" height="51.30" fill="#EFEFEF"/>
<rect x="491.13" y="883.78" width="10.39" height="51.30" fill="#EFEFEF"/>
<rect x="502.02" y="883.78" width="10.39" height="51.30" fill="#EFEFEF"/>
<rect x="512.91" y="883.78" width="10.39" height="51.30" fill="#EFEFEF"/>
<rect x="523.81" y="883.78" width="10.39" height="51.30" fill="#EFEFEF"/>
<rect x="534.70" y="883.78" width="10.39" height="51.30" fill="#EFEFEF"/>
<rect x="545.59" y="883.78" width="10.39" height="51.30" fill="#EFEFEF"/>
<rect x="556.48" y="883.78" width="10.39" height="51.30" fill="#EFEFEF"/>
<rect x="567.38" y="883.78" width="10.39" height="51.30" fill="#EFEFEF"/>
<rect x="578.27" y="883.78" width="10.39" height="51.30" fill="#EFEFEF"/>
<rect x="589.16" y="883.78" width="10.39" height="51.30" fill="#EFEFEF"/>
<rect x="600.06" y="883.78" width="10.39" height="51.30" fill="#EFEFEF"/>
<rect x="610.95" y="883.78" width="10.39" height="51.30" fill="#EFEFEF"/>
<rect x="621.84" y="883.78" width="10.39" height="51.30" fill="#EFEFEF"/>
<rect x="632.74" y="883.78" width="10.39" height="51.30" fill="#EFEFEF"/>
<rect x="643.63" y="883.78" width="10.39" height="51.30" fill="#EFEFEF"/>
<rect x="654.52" y="883.78" width="10.39" height="51.30" fill="#EFEFEF"/>
<rect x="665.41" y="883.78" width="10.39" height="51.30" fill="#EFEFEF"/>
<rect x="676.31" y="883.78" width="10.39" height="51.30" fill="#EFEFEF"/>
<rect x="687.20" y="883.78" width="10.39" height="51.30" fill="#EFEFEF"/>
<rect x="698.09" y="883.78" width="10.39" height="51.30" fill="#EFEFEF"/>
<rect x="708.99" y="883.78" width="10.39" height="51.30" fill="#EFEFEF"/>
<rect x="719.88" y="883.78" width="10.39" height="51.30" fill="#EFEFEF"/>
<rect x="730.77" y="883.78" width="10.39" height="51.30" fill="#EFEFEF"/>
<rect x="741.66" y="883.78" width="10.39" height="51.30" fill="#EFEFEF"/>
<rect x="752.56" y="883.78" width="10.39" height="51.30" fill="#EFEFEF"/>
<rect x="763.45" y="883.78" width="10.39" height="51.30" fill="#EFEFEF"/>
<rect x="774.34" y="883.78" width="10.39" height="51.30" fill="#EFEFEF"/>
<rect x="142.55" y="936.25" width="10.39" height="51.30" fill="#EFEFEF"/>
<rect x="153.44" y="936.25" width="10.39" height="51.30" fill="#EFEFEF"/>
<rect x="164.34" y="936.25" width="10.39" height="51.30" fill="#EFEFEF"/>
<rect x="175.23" y="936.25" width="10.39" height="51.30" fill="#EFEFEF"/>
<rect x="186.12" y="936.25" width="10.39" height="51.30" fill="#EFEFEF"/>
<rect x="197.02" y="936.25" width="10.39" height="51.30" fill="#EFEFEF"/>
<rect x="207.91" y="936.25" width="10.39" height="51.30" fill="#EFEFEF"/>
<rect x="218.80" y="936.25" width="10.39" height="51.30" fill="#EFEFEF"/>
<rect x="229.69" y="936.25" width="10.39" height="51.30" fill="#EFEFEF"/>
<rect x="240.59" y="936.25" width="10.39" height="51.30" fill="#EFEFEF"/>
<rect x="251.48" y="936.25" width="10.39" height="51.30" fill="#EFEFEF"/>
<rect x="262.37" y="936.25" width="10.39" height="51.30" fill="#EFEFEF"/>
<rect x="273.27" y="936.25" width="10.39" height="51.30" fill="#EFEFEF"/>
<rect x="284.16" y="936.25" width="10.39" height="51.30" fill="#EFEFEF"/>
<rect x="295.05" y="936.25" width="10.39" height="51.30" fill="#EFEFEF"/>
<rect x="305.95" y="936.25" width="10.39" height="51.30" fill="#EFEFEF"/>
<rect x="316.84" y="936.25" width="10.39" height="51.30" fill="#EFEFEF"/>
<rect x="327.73" y="936.25" width="10.39" height="51.30" fill="#EFEFEF"/>
<rect x="338.62" y="936.25" width="10.39" height="51.30" fill="#EFEFEF"/>
<rect x="349.52" y="936.25" width="10.39" height="51.30" fill="#EFEFEF"/>
<rect x="360.41" y="936.25" width="10.39" height="51.30" fill="#EFEFEF"/>
<rect x="371.30" y="936.25" width="10.39" height="51.30" fill="#EFEFEF"/>
<rect x="382.20" y="936.25" width="10.39" height="51.30" fill="#EFEFEF"/>
<rect x="393.09" y="936.25" width="10.39" height="51.30" fill="#EFEFEF"/>
<rect x="403.98" y="936.25" width="10.39" height="51.30" fill="#EFEFEF"/>
<rect x="414.88" y="936.25" width="10.39" height="51.30" fill="#EFEFEF"/>
<rect x="425.77" y="936.25" width="10.39" height="51.30" fill="#EFEFEF"/>
<rect x="436.66" y="936.25" width="10.39" height="51.30" fill="#EFEFEF"/>
<rect x="447.55" y="936.25" width="10.39" height="51.30" fill="#EFEFEF"/>
<rect x="458.45" y="936.25" width="10.39" height="51.30" fill="#EFEFEF"/>
<rect x="469.34" y="936.25" width="10.39" height="51.30" fill="#EFEFEF"/>
<rect x="480.23" y="936.25" width="10.39" height="51.30" fill="#EFEFEF"/>
<rect x="491.13" y="936.25" width="10.39" height="51.30" fill="#EFEFEF"/>
<rect x="502.02" y="936.25" width="10.39" height="51.30" fill="#EFEFEF"/>
<rect x="512.91" y="936.25" width="10.39" height="51.30" fill="#EFEFEF"/>
<rect x="523.81" y="936.25" width="10.39" height="51.30" fill="#EFEFEF"/>
<rect x="534.70" y="936.25" width="10.39" height="51.30" fill="#EFEFEF"/>
<rect x="545.59" y="936.25" width="10.39" height="51.30" fill="#EFEFEF"/>
<rect x="556.48" y="936.25" width="10.39" height="51.30" fill="#EFEFEF"/>
<rect x="567.38" y="936.25" width="10.39" height="51.30" fill="#EFEFEF"/>
<rect x="578.27" y="936.25" width="10.39" height="51.30" fill="#EFEFEF"/>
<rect x="589.16" y="936.25" width="10.39" height="51.30" fill="#EFEFEF"/>
<rect x="600.06" y="936.25" width="10.39" height="51.30" fill="#EFEFEF"/>
<rect x="610.95" y="936.25" width="10.39" height="51.30" fill="#EFEFEF"/>
<rect x="621.84" y="936.25" width="10.39" height="51.30" fill="#EFEFEF"/>
<rect x="632.74" y="936.25" width="10.39" height="51.30" fill="#EFEFEF"/>
<rect x="643.63" y="936.25" width="10.39" height="51.30" fill="#EFEFEF"/>
<rect x="654.52" y="936.25" width="10.39" height="51.30" fill="#EFEFEF"/>
<rect x="665.41" y="936.25" width="10.39" height="51.30" fill="#EFEFEF"/>
<rect x="676.31" y="936.25" width="10.39" height="51.30" fill="#EFEFEF"/>
<rect x="687.20" y="936.25" width="10.39" height="51.30" fill="#EFEFEF"/>
<rect x="698.09" y="936.25" width="10.39" height="51.30" fill="#EFEFEF"/>
<rect x="708.99" y="936.25" width="10.39" height="51.30" fill="#EFEFEF"/>
<rect x="719.88" y="936.25" width="10.39" height="51.30" fill="#EFEFEF"/>
<rect x="730.77" y="936.25" width="10.39" height="51.30" fill="#EFEFEF"/>
<rect x="741.66" y="936.25" width="10.39" height="51.30" fill="#EFEFEF"/>
<rect x="752.56" y="936.25" width="10.39" height="51.30" fill="#EFEFEF"/>
<rect x="763.45" y="936.25" width="10.39" height="51.30" fill="#EFEFEF"/>
<rect x="774.34" y="936.25" width="10.39" height="51.30" fill="#EFEFEF"/>
<rect x="142.55" y="988.72" width="10.39" height="51.30" fill="#EFEFEF"/>
<rect x="153.44" y="988.72" width="10.39" height="51.30" fill="#EFEFEF"/>
<rect x="164.34" y="988.72" width="10.39" height="51.30" fill="#EFEFEF"/>
<rect x="175.23" y="988.72" width="10.39" height="51.30" fill="#EFEFEF"/>
<rect x="186.12" y="988.72" width="10.39" height="51.30" fill="#EFEFEF"/>
<rect x="197.02" y="988.72" width="10.39" height="51.30" fill="#EFEFEF"/>
<rect x="207.91" y="988.72" width="10.39" height="51.30" fill="#EFEFEF"/>
<rect x="218.80" y="988.72" width="10.39" height="51.30" fill="#EFEFEF"/>
<rect x="229.69" y="988.72" width="10.39" height="51.30" fill="#EFEFEF"/>
<rect x="240.59" y="988.72" width="10.39" height="51.30" fill="#EFEFEF"/>
<rect x="251.48" y="988.72" width="10.39" height="51.30" fill="#EFEFEF"/>
<rect x="262.37" y="988.72" width="10.39" height="51.30" fill="#EFEFEF"/>
<rect x="273.27" y="988.72" width="10.39" height="51.30" fill="#EFEFEF"/>
<rect x="284.16" y="988.72" width="10.39" height="51.30" fill="#EFEFEF"/>
<rect x="295.05" y="988.72" width="10.39" height="51.30" fill="#EFEFEF"/>
<rect x="305.95" y="988.72" width="10.39" height="51.30" fill="#EFEFEF"/>
<rect x="316.84" y="988.72" width="10.39" height="51.30" fill="#EFEFEF"/>
<rect x="327.73" y="988.72" width="10.39" height="51.30" fill="#EFEFEF"/>
<rect x="338.62" y="988.72" width="10.39" height="51.30" fill="#EFEFEF"/>
<rect x="349.52" y="988.72" width="10.39" height="51.30" fill="#EFEFEF"/>
<rect x="360.41" y="988.72" width="10.39" height="51.30" fill="#EFEFEF"/>
<rect x="371.30" y="988.72" width="10.39" height="51.30" fill="#EFEFEF"/>
<rect x="382.20" y="988.72" width="10.39" height="51.30" fill="#EFEFEF"/>
<rect x="393.09" y="988.72" width="10.39" height="51.30" fill="#EFEFEF"/>
<rect x="403.98" y="988.72" width="10.39" height="51.30" fill="#EFEFEF"/>
<rect x="414.88" y="988.72" width="10.39" height="51.30" fill="#EFEFEF"/>
<rect x="425.77" y="988.72" width="10.39" height="51.30" fill="#EFEFEF"/>
<rect x="436.66" y="988.72" width="10.39" height="51.30" fill="#EFEFEF"/>
<rect x="447.55" y="988.72" width="10.39" height="51.30" fill="#EFEFEF"/>
<rect x="458.45" y="988.72" width="10.39" height="51.30" fill="#EFEFEF"/>
<rect x="469.34" y="988.72" width="10.39" height="51.30" fill="#EFEFEF"/>
<rect x="480.23" y="988.72" width="10.39" height="51.30" fill="#EFEFEF"/>
<rect x="491.13" y="988.72" width="10.39" height="51.30" fill="#EFEFEF"/>
<rect x="502.02" y="988.72" width="10.39" height="51.30" fill="#EFEFEF"/>
<rect x="512.91" y="988.72" width="10.39" height="51.30" fill="#EFEFEF"/>
<rect x="523.81" y="988.72" width="10.39" height="51.30" fill="#EFEFEF"/>
<rect x="534.70" y="988.72" width="10.39" height="51.30" fill="#EFEFEF"/>
<rect x="545.59" y="988.72" width="10.39" height="51.30" fill="#EFEFEF"/>
<rect x="556.48" y="988.72" width="10.39" height="51.30" fill="#EFEFEF"/>
<rect x="567.38" y="988.72" width="10.39" height="51.30" fill="#EFEFEF"/>
<rect x="578.27" y="988.72" width="10.39" height="51.30" fill="#EFEFEF"/>
<rect x="589.16" y="988.72" width="10.39" height="51.30" fill="#EFEFEF"/>
<rect x="600.06" y="988.72" width="10.39" height="51.30" fill="#EFEFEF"/>
<rect x="610.95" y="988.72" width="10.39" height="51.30" fill="#EFEFEF"/>
<rect x="621.84" y="988.72" width="10.39" height="51.30" fill="#EFEFEF"/>
<rect x="632.74" y="988.72" width="10.39" height="51.30" fill="#EFEFEF"/>
<rect x="643.63" y="988.72" width="10.39" height="51.30" fill="#EFEFEF"/>
<rect x="654.52" y="988.72" width="10.39" height="51.30" fill="#EFEFEF"/>
<rect x="665.41" y="988.72" width="10.39" height="51.30" fill="#EFEFEF"/>
<rect x="676.31" y="988.72" width="10.39" height="51.30" fill="#EFEFEF"/>
<rect x="687.20" y="988.72" width="10.39" height="51.30" fill="#EFEFEF"/>
<rect x="698.09" y="988.72" width="10.39" height="51.30" fill="#EFEFEF"/>
<rect x="708.99" y="988.72" width="10.39" height="51.30" fill="#EFEFEF"/>
<rect x="719.88" y="988.72" width="10.39" height="51.30" fill="#EFEFEF"/>
<rect x="730.77" y="988.72" width="10.39" height="51.30" fill="#EFEFEF"/>
<rect x="741.66" y="988.72" width="10.39" height="51.30" fill="#EFEFEF"/>
<rect x="752.56" y="988.72" width="10.39" height="51.30" fill="#EFEFEF"/>
<rect x="763.45" y="988.72" width="10.39" height="51.30" fill="#EFEFEF"/>
<rect x="774.34" y="988.72" width="10.39" height="51.30" fill="#EFEFEF"/>
<rect x="142.55" y="1041.19" width="10.39" height="51.30" fill="#EFEFEF"/>
<rect x="153.44" y="1041.19" width="10.39" height="51.30" fill="#EFEFEF"/>
<rect x="164.34" y="1041.19" width="10.39" height="51.30" fill="#EFEFEF"/>
<rect x="175.23" y="1041.19" width="10.39" height="51.30" fill="#EFEFEF"/>
<rect x="186.12" y="1041.19" width="10.39" height="51.30" fill="#EFEFEF"/>
<rect x="197.02" y="1041.19" width="10.39" height="51.30" fill="#EFEFEF"/>
<rect x="207.91" y="1041.19" width="10.39" height="51.30" fill="#EFEFEF"/>
<rect x="218.80" y="1041.19" width="10.39" height="51.30" fill="#EFEFEF"/>
<rect x="229.69" y="1041.19" width="10.39" height="51.30" fill="#EFEFEF"/>
<rect x="240.59" y="1041.19" width="10.39" height="51.30" fill="#EFEFEF"/>
<rect x="251.48" y="1041.19" width="10.39" height="51.30" fill="#EFEFEF"/>
<rect x="262.37" y="1041.19" width="10.39" height="51.30" fill="#EFEFEF"/>
<rect x="273.27" y="1041.19" width="10.39" height="51.30" fill="#EFEFEF"/>
<rect x="284.16" y="1041.19" width="10.39" height="51.30" fill="#EFEFEF"/>
<rect x="295.05" y="1041.19" width="10.39" height="51.30" fill="#EFEFEF"/>
<rect x="305.95" y="1041.19" width="10.39" height="51.30" fill="#EFEFEF"/>
<rect x="316.84" y="1041.19" width="10.39" height="51.30" fill="#EFEFEF"/>
<rect x="327.73" y="1041.19" width="10.39" height="51.30" fill="#EFEFEF"/>
<rect x="338.62" y="1041.19" width="10.39" height="51.30" fill="#EFEFEF"/>
<rect x="349.52" y="1041.19" width="10.39" height="51.30" fill="#EFEFEF"/>
<rect x="360.41" y="1041.19" width="10.39" height="51.30" fill="#EFEFEF"/>
<rect x="371.30" y="1041.19" width="10.39" height="51.30" fill="#EFEFEF"/>
<rect x="382.20" y="1041.19" width="10.39" height="51.30" fill="#EFEFEF"/>
<rect x="393.09" y="1041.19" width="10.39" height="51.30" fill="#EFEFEF"/>
<rect x="403.98" y="1041.19" width="10.39" height="51.30" fill="#EFEFEF"/>
<rect x="414.88" y="1041.19" width="10.39" height="51.30" fill="#EFEFEF"/>
<rect x="425.77" y="1041.19" width="10.39" height="51.30" fill="#EFEFEF"/>
<rect x="436.66" y="1041.19" width="10.39" height="51.30" fill="#EFEFEF"/>
<rect x="447.55" y="1041.19" width="10.39" height="51.30" fill="#EFEFEF"/>
<rect x="458.45" y="1041.19" width="10.39" height="51.30" fill="#EFEFEF"/>
<rect x="469.34" y="1041.19" width="10.39" height="51.30" fill="#EFEFEF"/>
<rect x="480.23" y="1041.19" width="10.39" height="51.30" fill="#EFEFEF"/>
<rect x="491.13" y="1041.19" width="10.39" height="51.30" fill="#EFEFEF"/>
<rect x="502.02" y="1041.19" width="10.39" height="51.30" fill="#EFEFEF"/>
<rect x="512.91" y="1041.19" width="10.39" height="51.30" fill="#EFEFEF"/>
<rect x="523.81" y="1041.19" width="10.39" height="51.30" fill="#EFEFEF"/>
<rect x="534.70" y="1041.19" width="10.39" height="51.30" fill="#EFEFEF"/>
<rect x="545.59" y="1041.19" width="10.39" height="51.30" fill="#EFEFEF"/>
<rect x="556.48" y="1041.19" width="10.39" height="51.30" fill="#EFEFEF"/>
<rect x="567.38" y="1041.19" width="10.39" height="51.30" fill="#EFEFEF"/>
<rect x="578.27" y="1041.19" width="10.39" height="51.30" fill="#EFEFEF"/>
<rect x="589.16" y="1041.19" width="10.39" height="51.30" fill="#EFEFEF"/>
<rect x="600.06" y="1041.19" width="10.39" height="51.30" fill="#EFEFEF"/>
<rect x="610.95" y="1041.19" width="10.39" height="51.30" fill="#EFEFEF"/>
<rect x="621.84" y="1041.19" width="10.39" height="51.30" fill="#EFEFEF"/>
<rect x="632.74" y="1041.19" width="10.39" height="51.30" fill="#EFEFEF"/>
<rect x="643.63" y="1041.19" width="10.39" height="51.30" fill="#EFEFEF"/>
<rect x="654.52" y="1041.19" width="10.39" height="51.30" fill="#EFEFEF"/>
<rect x="665.41" y="1041.19" width="10.39" height="51.30" fill="#EFEFEF"/>
<rect x="676.31" y="1041.19" width="10.39" height="51.30" fill="#EFEFEF"/>
<rect x="687.20" y="1041.19" width="10.39" height="51.30" fill="#EFEFEF"/>
<rect x="698.09" y="1041.19" width="10.39" height="51.30" fill="#EFEFEF"/>
<rect x="708.99" y="1041.19" width="10.39" height="51.30" fill="#EFEFEF"/>
<rect x="719.88" y="1041.19" width="10.39" height="51.30" fill="#EFEFEF"/>
<rect x="730.77" y="1041.19" width="10.39" height="51.30" fill="#EFEFEF"/>
<rect x="741.66" y="1041.19" width="10.39" height="51.30" fill="#EFEFEF"/>
<rect x="752.56" y="1041.19" width="10.39" height="51.30" fill="#EFEFEF"/>
<rect x="763.45" y="1041.19" width="10.39" height="51.30" fill="#EFEFEF"/>
<rect x="774.34" y="1041.19" width="10.39" height="51.30" fill="#EFEFEF"/>
<rect x="142.55" y="1093.66" width="10.39" height="51.30" fill="#EFEFEF"/>
<rect x="153.44" y="1093.66" width="10.39" height="51.30" fill="#EFEFEF"/>
<rect x="164.34" y="1093.66" width="10.39" height="51.30" fill="#EFEFEF"/>
<rect x="175.23" y="1093.66" width="10.39" height="51.30" fill="#EFEFEF"/>
<rect x="186.12" y="1093.66" width="10.39" height="51.30" fill="#EFEFEF"/>
<rect x="197.02" y="1093.66" width="10.39" height="51.30" fill="#EFEFEF"/>
<rect x="207.91" y="1093.66" width="10.39" height="51.30" fill="#EFEFEF"/>
<rect x="218.80" y="1093.66" width="10.39" height="51.30" fill="#EFEFEF"/>
<rect x="229.69" y="1093.66" width="10.39" height="51.30" fill="#EFEFEF"/>
<rect x="240.59" y="1093.66" width="10.39" height="51.30" fill="#EFEFEF"/>
<rect x="251.48" y="1093.66" width="10.39" height="51.30" fill="#EFEFEF"/>
<rect x="262.37" y="1093.66" width="10.39" height="51.30" fill="#EFEFEF"/>
<rect x="273.27" y="1093.66" width="10.39" height="51.30" fill="#EFEFEF"/>
<rect x="284.16" y="1093.66" width="10.39" height="51.30" fill="#EFEFEF"/>
<rect x="295.05" y="1093.66" width="10.39" height="51.30" fill="#EFEFEF"/>
<rect x="305.95" y="1093.66" width="10.39" height="51.30" fill="#EFEFEF"/>
<rect x="316.84" y="1093.66" width="10.39" height="51.30" fill="#EFEFEF"/>
<rect x="327.73" y="1093.66" width="10.39" height="51.30" fill="#EFEFEF"/>
<rect x="338.62" y="1093.66" width="10.39" height="51.30" fill="#EFEFEF"/>
<rect x="349.52" y="1093.66" width="10.39" height="51.30" fill="#EFEFEF"/>
<rect x="360.41" y="1093.66" width="10.39" height="51.30" fill="#EFEFEF"/>
<rect x="371.30" y="1093.66" width="10.39" height="51.30" fill="#EFEFEF"/>
<rect x="382.20" y="1093.66" width="10.39" height="51.30" fill="#EFEFEF"/>
<rect x="393.09" y="1093.66" width="10.39" height="51.30" fill="#EFEFEF"/>
<rect x="403.98" y="1093.66" width="10.39" height="51.30" fill="#EFEFEF"/>
<rect x="414.88" y="1093.66" width="10.39" height="51.30" fill="#EFEFEF"/>
<rect x="425.77" y="1093.66" width="10.39" height="51.30" fill="#EFEFEF"/>
<rect x="436.66" y="1093.66" width="10.39" height="51.30" fill="#EFEFEF"/>
<rect x="447.55" y="1093.66" width="10.39" height="51.30" fill="#EFEFEF"/>
<rect x="458.45" y="1093.66" width="10.39" height="51.30" fill="#EFEFEF"/>
<rect x="469.34" y="1093.66" width="10.39" height="51.30" fill="#EFEFEF"/>
<rect x="480.23" y="1093.66" width="10.39" height="51.30" fill="#EFEFEF"/>
<rect x="491.13" y="1093.66" width="10.39" height="51.30" fill="#EFEFEF"/>
<rect x="502.02" y="1093.66" width="10.39" height="51.30" fill="#EFEFEF"/>
<rect x="512.91" y="1093.66" width="10.39" height="51.30" fill="#EFEFEF"/>
<rect x="523.81" y="1093.66" width="10.39" height="51.30" fill="#EFEFEF"/>
<rect x="534.70" y="1093.66" width="10.39" height="51.30" fill="#EFEFEF"/>
<rect x="545.59" y="1093.66" width="10.39" height="51.30" fill="#EFEFEF"/>
<rect x="556.48" y="1093.66" width="10.39" height="51.30" fill="#EFEFEF"/>
<rect x="567.38" y="1093.66" width="10.39" height="51.30" fill="#EFEFEF"/>
<rect x="578.27" y="1093.66" width="10.39" height="51.30" fill="#EFEFEF"/>
<rect x="589.16" y="1093.66" width="10.39" height="51.30" fill="#EFEFEF"/>
<rect x="600.06" y="1093.66" width="10.39" height="51.30" fill="#EFEFEF"/>
<rect x="610.95" y="1093.66" width="10.39" height="51.30" fill="#EFEFEF"/>
<rect x="621.84" y="1093.66" width="10.39" height="51.30" fill="#EFEFEF"/>
<rect x="632.74" y="1093.66" width="10.39" height="51.30" fill="#EFEFEF"/>
<rect x="643.63" y="1093.66" width="10.39" height="51.30" fill="#EFEFEF"/>
<rect x="654.52" y="1093.66" width="10.39" height="51.30" fill="#EFEFEF"/>
<rect x="665.41" y="1093.66" width="10.39" height="51.30" fill="#EFEFEF"/>
<rect x="676.31" y="1093.66" width="10.39" height="51.30" fill="#EFEFEF"/>
<rect x="687.20" y="1093.66" width="10.39" height="51.30" fill="#EFEFEF"/>
<rect x="698.09" y="1093.66" width="10.39" height="51.30" fill="#EFEFEF"/>
<rect x="708.99" y="1093.66" width="10.39" height="51.30" fill="#EFEFEF"/>
<rect x="719.88" y="1093.66" width="10.39" height="51.30" fill="#EFEFEF"/>
<rect x="730.77" y="1093.66" width="10.39" height="51.30" fill="#EFEFEF"/>
<rect x="741.66" y="1093.66" width="10.39" height="51.30" fill="#EFEFEF"/>
<rect x="752.56" y="1093.66" width="10.39" height="51.30" fill="#EFEFEF"/>
<rect x="763.45" y="1093.66" width="10.39" height="51.30" fill="#EFEFEF"/>
<rect x="774.34" y="1093.66" width="10.39" height="51.30" fill="#EFEFEF"/>
<rect x="142.55" y="1146.13" width="10.39" height="51.30" fill="#EFEFEF"/>
<rect x="153.44" y="1146.13" width="10.39" height="51.30" fill="#EFEFEF"/>
<rect x="164.34" y="1146.13" width="10.39" height="51.30" fill="#EFEFEF"/>
<rect x="175.23" y="1146.13" width="10.39" height="51.30" fill="#EFEFEF"/>
<rect x="186.12" y="1146.13" width="10.39" height="51.30" fill="#EFEFEF"/>
<rect x="197.02" y="1146.13" width="10.39" height="51.30" fill="#EFEFEF"/>
<rect x="207.91" y="1146.13" width="10.39" height="51.30" fill="#EFEFEF"/>
<rect x="218.80" y="1146.13" width="10.39" height="51.30" fill="#EFEFEF"/>
<rect x="229.69" y="1146.13" width="10.39" height="51.30" fill="#EFEFEF"/>
<rect x="240.59" y="1146.13" width="10.39" height="51.30" fill="#EFEFEF"/>
<rect x="251.48" y="1146.13" width="10.39" height="51.30" fill="#EFEFEF"/>
<rect x="262.37" y="1146.13" width="10.39" height="51.30" fill="#EFEFEF"/>
<rect x="273.27" y="1146.13" width="10.39" height="51.30" fill="#EFEFEF"/>
<rect x="284.16" y="1146.13" width="10.39" height="51.30" fill="#EFEFEF"/>
<rect x="295.05" y="1146.13" width="10.39" height="51.30" fill="#EFEFEF"/>
<rect x="305.95" y="1146.13" width="10.39" height="51.30" fill="#EFEFEF"/>
<rect x="316.84" y="1146.13" width="10.39" height="51.30" fill="#EFEFEF"/>
<rect x="327.73" y="1146.13" width="10.39" height="51.30" fill="#EFEFEF"/>
<rect x="338.62" y="1146.13" width="10.39" height="51.30" fill="#EFEFEF"/>
<rect x="349.52" y="1146.13" width="10.39" height="51.30" fill="#EFEFEF"/>
<rect x="360.41" y="1146.13" width="10.39" height="51.30" fill="#EFEFEF"/>
<rect x="371.30" y="1146.13" width="10.39" height="51.30" fill="#EFEFEF"/>
<rect x="382.20" y="1146.13" width="10.39" height="51.30" fill="#EFEFEF"/>
<rect x="393.09" y="1146.13" width="10.39" height="51.30" fill="#EFEFEF"/>
<rect x="403.98" y="1146.13" width="10.39" height="51.30" fill="#EFEFEF"/>
<rect x="414.88" y="1146.13" width="10.39" height="51.30" fill="#EFEFEF"/>
<rect x="425.77" y="1146.13" width="10.39" height="51.30" fill="#EFEFEF"/>
<rect x="436.66" y="1146.13" width="10.39" height="51.30" fill="#EFEFEF"/>
<rect x="447.55" y="1146.13" width="10.39" height="51.30" fill="#EFEFEF"/>
<rect x="458.45" y="1146.13" width="10.39" height="51.30" fill="#EFEFEF"/>
<rect x="469.34" y="1146.13" width="10.39" height="51.30" fill="#EFEFEF"/>
<rect x="480.23" y="1146.13" width="10.39" height="51.30" fill="#EFEFEF"/>
<rect x="491.13" y="1146.13" width="10.39" height="51.30" fill="#EFEFEF"/>
<rect x="502.02" y="1146.13" width="10.39" height="51.30" fill="#EFEFEF"/>
<rect x="512.91" y="1146.13" width="10.39" height="51.30" fill="#EFEFEF"/>
<rect x="523.81" y="1146.13" width="10.39" height="51.30" fill="#EFEFEF"/>
<rect x="534.70" y="1146.13" width="10.39" height="51.30" fill="#EFEFEF"/>
<rect x="545.59" y="1146.13" width="10.39" height="51.30" fill="#EFEFEF"/>
<rect x="556.48" y="1146.13" width="10.39" height="51.30" fill="#EFEFEF"/>
<rect x="567.38" y="1146.13" width="10.39" height="51.30" fill="#EFEFEF"/>
<rect x="578.27" y="1146.13" width="10.39" height="51.30" fill="#EFEFEF"/>
<rect x="589.16" y="1146.13" width="10.39" height="51.30" fill="#EFEFEF"/>
<rect x="600.06" y="1146.13" width="10.39" height="51.30" fill="#EFEFEF"/>
<rect x="610.95" y="1146.13" width="10.39" height="51.30" fill="#EFEFEF"/>
<rect x="621.84" y="1146.13" width="10.39" height="51.30" fill="#EFEFEF"/>
<rect x="632.74" y="1146.13" width="10.39" height="51.30" fill="#EFEFEF"/>
<rect x="643.63" y="1146.13" width="10.39" height="51.30" fill="#EFEFEF"/>
<rect x="654.52" y="1146.13" width="10.39" height="51.30" fill="#EFEFEF"/>
<rect x="665.41" y="1146.13" width="10.39" height="51.30" fill="#EFEFEF"/>
<rect x="676.31" y="1146.13" width="10.39" height="51.30" fill="#EFEFEF"/>
<rect x="687.20" y="1146.13" width="10.39" height="51.30" fill="#EFEFEF"/>
<rect x="698.09" y="1146.13" width="10.39" height="51.30" fill="#EFEFEF"/>
<rect x="708.99" y="1146.13" width="10.39" height="51.30" fill="#EFEFEF"/>
<rect x="719.88" y="1146.13" width="10.39" height="51.30" fill="#EFEFEF"/>
<rect x="730.77" y="1146.13" width="10.39" height="51.30" fill="#EFEFEF"/>
<rect x="741.66" y="1146.13" width="10.39" height="51.30" fill="#EFEFEF"/>
<rect x="752.56" y="1146.13" width="10.39" height="51.30" fill="#EFEFEF"/>
<rect x="763.45" y="1146.13" width="10.39" height="51.30" fill="#EFEFEF"/>
<rect x="774.34" y="1146.13" width="10.39" height="51.30" fill="#EFEFEF"/>
<rect x="142.55" y="1198.60" width="10.39" height="51.30" fill="#EFEFEF"/>
<rect x="153.44" y="1198.60" width="10.39" height="51.30" fill="#EFEFEF"/>
<rect x="164.34" y="1198.60" width="10.39" height="51.30" fill="#EFEFEF"/>
<rect x="175.23" y="1198.60" width="10.39" height="51.30" fill="#EFEFEF"/>
<rect x="186.12" y="1198.60" width="10.39" height="51.30" fill="#EFEFEF"/>
<rect x="197.02" y="1198.60" width="10.39" height="51.30" fill="#EFEFEF"/>
<rect x="207.91" y="1198.60" width="10.39" height="51.30" fill="#EFEFEF"/>
<rect x="218.80" y="1198.60" width="10.39" height="51.30" fill="#EFEFEF"/>
<rect x="229.69" y="1198.60" width="10.39" height="51.30" fill="#EFEFEF"/>
<rect x="240.59" y="1198.60" width="10.39" height="51.30" fill="#EFEFEF"/>
<rect x="251.48" y="1198.60" width="10.39" height="51.30" fill="#EFEFEF"/>
<rect x="262.37" y="1198.60" width="10.39" height="51.30" fill="#EFEFEF"/>
<rect x="273.27" y="1198.60" width="10.39" height="51.30" fill="#EFEFEF"/>
<rect x="284.16" y="1198.60" width="10.39" height="51.30" fill="#EFEFEF"/>
<rect x="295.05" y="1198.60" width="10.39" height="51.30" fill="#EFEFEF"/>
<rect x="305.95" y="1198.60" width="10.39" height="51.30" fill="#EFEFEF"/>
<rect x="316.84" y="1198.60" width="10.39" height="51.30" fill="#EFEFEF"/>
<rect x="327.73" y="1198.60" width="10.39" height="51.30" fill="#EFEFEF"/>
<rect x="338.62" y="1198.60" width="10.39" height="51.30" fill="#EFEFEF"/>
<rect x="349.52" y="1198.60" width="10.39" height="51.30" fill="#EFEFEF"/>
<rect x="360.41" y="1198.60" width="10.39" height="51.30" fill="#EFEFEF"/>
<rect x="371.30" y="1198.60" width="10.39" height="51.30" fill="#EFEFEF"/>
<rect x="382.20" y="1198.60" width="10.39" height="51.30" fill="#EFEFEF"/>
<rect x="393.09" y="1198.60" width="10.39" height="51.30" fill="#EFEFEF"/>
<rect x="403.98" y="1198.60" width="10.39" height="51.30" fill="#EFEFEF"/>
<rect x="414.88" y="1198.60" width="10.39" height="51.30" fill="#EFEFEF"/>
<rect x="425.77" y="1198.60" width="10.39" height="51.30" fill="#EFEFEF"/>
<rect x="436.66" y="1198.60" width="10.39" height="51.30" fill="#EFEFEF"/>
<rect x="447.55" y="1198.60" width="10.39" height="51.30" fill="#EFEFEF"/>
<rect x="458.45" y="1198.60" width="10.39" height="51.30" fill="#EFEFEF"/>
<rect x="469.34" y="1198.60" width="10.39" height="51.30" fill="#EFEFEF"/>
<rect x="480.23" y="1198.60" width="10.39" height="51.30" fill="#EFEFEF"/>
<rect x="491.13" y="1198.60" width="10.39" height="51.30" fill="#EFEFEF"/>
<rect x="502.02" y="1198.60" width="10.39" height="51.30" fill="#EFEFEF"/>
<rect x="512.91" y="1198.60" width="10.39" height="51.30" fill="#EFEFEF"/>
<rect x="523.81" y="1198.60" width="10.39" height="51.30" fill="#EFEFEF"/>
<rect x="534.70" y="1198.60" width="10.39" height="51.30" fill="#EFEFEF"/>
<rect x="545.59" y="1198.60" width="10.39" height="51.30" fill="#EFEFEF"/>
<rect x="556.48" y="1198.60" width="10.39" height="51.30" fill="#EFEFEF"/>
<rect x="567.38" y="1198.60" width="10.39" height="51.30" fill="#EFEFEF"/>
<rect x="578.27" y="1198.60" width="10.39" height="51.30" fill="#EFEFEF"/>
<rect x="589.16" y="1198.60" width="10.39" height="51.30" fill="#EFEFEF"/>
<rect x="600.06" y="1198.60" width="10.39" height="51.30" fill="#EFEFEF"/>
<rect x="610.95" y="1198.60" width="10.39" height="51.30" fill="#EFEFEF"/>
<rect x="621.84" y="1198.60" width="10.39" height="51.30" fill="#EFEFEF"/>
<rect x="632.74" y="1198.60" width="10.39" height="51.30" fill="#EFEFEF"/>
<rect x="643.63" y="1198.60" width="10.39" height="51.30" fill="#EFEFEF"/>
<rect x="654.52" y="1198.60" width="10.39" height="51.30" fill="#EFEFEF"/>
<rect x="665.41" y="1198.60" width="10.39" height="51.30" fill="#EFEFEF"/>
<rect x="676.31" y="1198.60" width="10.39" height="51.30" fill="#EFEFEF"/>
<rect x="687.20" y="1198.60" width="10.39" height="51.30" fill="#EFEFEF"/>
<rect x="698.09" y="1198.60" width="10.39" height="51.30" fill="#EFEFEF"/>
<rect x="708.99" y="1198.60" width="10.39" height="51.30" fill="#EFEFEF"/>
<rect x="719.88" y="1198.60" width="10.39" height="51.30" fill="#EFEFEF"/>
<rect x="730.77" y="1198.60" width="10.39" height="51.30" fill="#EFEFEF"/>
<rect x="741.66" y="1198.60" width="10.39" height="51.30" fill="#EFEFEF"/>
<rect x="752.56" y="1198.60" width="10.39" height="51.30" fill="#EFEFEF"/>
<rect x="763.45" y="1198.60" width="10.39" height="51.30" fill="#EFEFEF"/>
<rect x="774.34" y="1198.60" width="10.39" height="51.30" fill="#EFEFEF"/>
<rect x="142.55" y="1251.07" width="10.39" height="51.30" fill="#EFEFEF"/>
<rect x="153.44" y="1251.07" width="10.39" height="51.30" fill="#EFEFEF"/>
<rect x="164.34" y="1251.07" width="10.39" height="51.30" fill="#EFEFEF"/>
<rect x="175.23" y="1251.07" width="10.39" height="51.30" fill="#EFEFEF"/>
<rect x="186.12" y="1251.07" width="10.39" height="51.30" fill="#EFEFEF"/>
<rect x="197.02" y="1251.07" width="10.39" height="51.30" fill="#EFEFEF"/>
<rect x="207.91" y="1251.07" width="10.39" height="51.30" fill="#EFEFEF"/>
<rect x="218.80" y="1251.07" width="10.39" height="51.30" fill="#EFEFEF"/>
<rect x="229.69" y="1251.07" width="10.39" height="51.30" fill="#EFEFEF"/>
<rect x="240.59" y="1251.07" width="10.39" height="51.30" fill="#EFEFEF"/>
<rect x="251.48" y="1251.07" width="10.39" height="51.30" fill="#EFEFEF"/>
<rect x="262.37" y="1251.07" width="10.39" height="51.30" fill="#EFEFEF"/>
<rect x="273.27" y="1251.07" width="10.39" height="51.30" fill="#EFEFEF"/>
<rect x="284.16" y="1251.07" width="10.39" height="51.30" fill="#EFEFEF"/>
<rect x="295.05" y="1251.07" width="10.39" height="51.30" fill="#EFEFEF"/>
<rect x="305.95" y="1251.07" width="10.39" height="51.30" fill="#EFEFEF"/>
<rect x="316.84" y="1251.07" width="10.39" height="51.30" fill="#EFEFEF"/>
<rect x="327.73" y="1251.07" width="10.39" height="51.30" fill="#EFEFEF"/>
<rect x="338.62" y="1251.07" width="10.39" height="51.30" fill="#EFEFEF"/>
<rect x="349.52" y="1251.07" width="10.39" height="51.30" fill="#EFEFEF"/>
<rect x="360.41" y="1251.07" width="10.39" height="51.30" fill="#EFEFEF"/>
<rect x="371.30" y="1251.07" width="10.39" height="51.30" fill="#EFEFEF"/>
<rect x="382.20" y="1251.07" width="10.39" height="51.30" fill="#EFEFEF"/>
<rect x="393.09" y="1251.07" width="10.39" height="51.30" fill="#EFEFEF"/>
<rect x="403.98" y="1251.07" width="10.39" height="51.30" fill="#EFEFEF"/>
<rect x="414.88" y="1251.07" width="10.39" height="51.30" fill="#EFEFEF"/>
<rect x="425.77" y="1251.07" width="10.39" height="51.30" fill="#EFEFEF"/>
<rect x="436.66" y="1251.07" width="10.39" height="51.30" fill="#EFEFEF"/>
<rect x="447.55" y="1251.07" width="10.39" height="51.30" fill="#EFEFEF"/>
<rect x="458.45" y="1251.07" width="10.39" height="51.30" fill="#EFEFEF"/>
<rect x="469.34" y="1251.07" width="10.39" height="51.30" fill="#EFEFEF"/>
<rect x="480.23" y="1251.07" width="10.39" height="51.30" fill="#EFEFEF"/>
<rect x="491.13" y="1251.07" width="10.39" height="51.30" fill="#EFEFEF"/>
<rect x="502.02" y="1251.07" width="10.39" height="51.30" fill="#EFEFEF"/>
<rect x="512.91" y="1251.07" width="10.39" height="51.30" fill="#EFEFEF"/>
<rect x="523.81" y="1251.07" width="10.39" height="51.30" fill="#EFEFEF"/>
<rect x="534.70" y="1251.07" width="10.39" height="51.30" fill="#EFEFEF"/>
<rect x="545.59" y="1251.07" width="10.39" height="51.30" fill="#EFEFEF"/>
<rect x="556.48" y="1251.07" width="10.39" height="51.30" fill="#EFEFEF"/>
<rect x="567.38" y="1251.07" width="10.39" height="51.30" fill="#EFEFEF"/>
<rect x="578.27" y="1251.07" width="10.39" height="51.30" fill="#EFEFEF"/>
<rect x="589.16" y="1251.07" width="10.39" height="51.30" fill="#EFEFEF"/>
<rect x="600.06" y="1251.07" width="10.39" height="51.30" fill="#EFEFEF"/>
<rect x="610.95" y="1251.07" width="10.39" height="51.30" fill="#EFEFEF"/>
<rect x="621.84" y="1251.07" width="10.39" height="51.30" fill="#EFEFEF"/>
<rect x="632.74" y="1251.07" width="10.39" height="51.30" fill="#EFEFEF"/>
<rect x="643.63" y="1251.07" width="10.39" height="51.30" fill="#EFEFEF"/>
<rect x="654.52" y="1251.07" width="10.39" height="51.30" fill="#EFEFEF"/>
<rect x="665.41" y="1251.07" width="10.39" height="51.30" fill="#EFEFEF"/>
<rect x="676.31" y="1251.07" width="10.39" height="51.30" fill="#EFEFEF"/>
<rect x="687.20" y="1251.07" width="10.39" height="51.30" fill="#EFEFEF"/>
<rect x="698.09" y="1251.07" width="10.39" height="51.30" fill="#EFEFEF"/>
<rect x="708.99" y="1251.07" width="10.39" height="51.30" fill="#EFEFEF"/>
<rect x="719.88" y="1251.07" width="10.39" height="51.30" fill="#EFEFEF"/>
<rect x="730.77" y="1251.07" width="10.39" height="51.30" fill="#EFEFEF"/>
<rect x="741.66" y="1251.07" width="10.39" height="51.30" fill="#EFEFEF"/>
<rect x="752.56" y="1251.07" width="10.39" height="51.30" fill="#EFEFEF"/>
<rect x="763.45" y="1251.07" width="10.39" height="51.30" fill="#EFEFEF"/>
<rect x="774.34" y="1251.07" width="10.39" height="51.30" fill="#EFEFEF"/>
<rect x="153.19" y="411.30" width="10.89" height="51.80" fill="#008000"/>
<rect x="164.09" y="411.30" width="10.89" height="51.80" fill="#008000"/>
<rect x="174.98" y="411.30" width="10.89" height="51.80" fill="#008000"/>
<rect x="185.87" y="411.30" width="10.89" height="51.80" fill="#008000"/>
<rect x="196.77" y="411.30" width="10.89" height="51.80" fill="#008000"/>
<rect x="207.66" y="411.30" width="10.89" height="51.80" fill="#008000"/>
<rect x="621.59" y="411.30" width="10.89" height="51.80" fill="#008000"/>
<rect x="632.49" y="411.30" width="10.89" height="51.80" fill="#008000"/>
<rect x="643.38" y="411.30" width="10.89" height="51.80" fill="#008000"/>
<rect x="273.02" y="411.30" width="10.89" height="51.80" fill="#708090"/>
<rect x="305.70" y="411.30" width="10.89" height="51.80" fill="#708090"/>
<rect x="316.59" y="411.30" width="10.89" height="51.80" fill="#708090"/>
<rect x="436.41" y="411.30" width="10.89" height="51.80" fill="#708090"/>
<rect x="447.30" y="411.30" width="10.89" height="51.80" fill="#708090"/>
<rect x="490.88" y="411.30" width="10.89" height="51.80" fill="#708090"/>
<rect x="545.34" y="411.30" width="10.89" height="51.80" fill="#708090"/>
<rect x="556.23" y="411.30" width="10.89" height="51.80" fill="#708090"/>
<rect x="578.02" y="411.30" width="10.89" height="51.80" fill="#708090"/>
<rect x="153.19" y="423.99" width="10.89" height="26.42" fill="#ADD8E6"/>
<rect x="164.09" y="423.99" width="10.89" height="26.42" fill="#ADD8E6"/>
<rect x="174.98" y="423.99" width="10.89" height="26.42" fill="#ADD8E6"/>
<rect x="185.87" y="423.99" width="10.89" height="26.42" fill="#ADD8E6"/>
<rect x="196.77" y="423.99" width="10.89" height="26.42" fill="#ADD8E6"/>
<rect x="207.66" y="423.99" width="10.89" height="26.42" fill="#ADD8E6"/>
<rect x="218.55" y="423.99" width="10.89" height="26.42" fill="#ADD8E6"/>
<rect x="229.44" y="423.99" width="10.89" height="26.42" fill="#ADD8E6"/>
<rect x="240.34" y="423.99" width="10.89" height="26.42" fill="#ADD8E6"/>
<rect x="251.23" y="423.99" width="10.89" height="26.42" fill="#ADD8E6"/>
<rect x="621.59" y="423.99" width="10.89" height="26.42" fill="#ADD8E6"/>
<rect x="632.49" y="423.99" width="10.89" height="26.42" fill="#ADD8E6"/>
<rect x="643.38" y="423.99" width="10.89" height="26.42" fill="#ADD8E6"/>
<rect x="686.95" y="423.99" width="10.89" height="26.42" fill="#ADD8E6"/>
<rect x="697.84" y="423.99" width="10.89" height="26.42" fill="#ADD8E6"/>
<rect x="708.74" y="423.99" width="10.89" height="26.42" fill="#ADD8E6"/>
<rect x="719.63" y="423.99" width="10.89" height="26.42" fill="#ADD8E6"/>
<rect x="730.52" y="423.99" width="10.89" height="26.42" fill="#ADD8E6"/>
<rect x="741.41" y="423.99" width="10.89" height="26.42" fill="#ADD8E6"/>
<rect x="752.31" y="423.99" width="10.89" height="26.42" fill="#ADD8E6"/>
<rect x="763.20" y="423.99" width="10.89" height="26.42" fill="#ADD8E6"/>
<rect x="774.09" y="423.99" width="10.89" height="26.42" fill="#ADD8E6"/>
<rect x="305.70" y="463.77" width="10.89" height="51.80" fill="#008000"/>
<rect x="316.59" y="463.77" width="10.89" height="51.80" fill="#008000"/>
<rect x="458.20" y="463.77" width="10.89" height="51.80" fill="#008000"/>
<rect x="469.09" y="463.77" width="10.89" height="51.80" fill="#008000"/>
<rect x="567.13" y="463.77" width="10.89" height="51.80" fill="#008000"/>
<rect x="578.02" y="463.77" width="10.89" height="51.80" fill="#008000"/>
<rect x="610.70" y="463.77" width="10.89" height="51.80" fill="#008000"/>
<rect x="240.34" y="476.46" width="10.89" height="26.42" fill="#ADD8E6"/>
<rect x="327.48" y="476.46" width="10.89" height="26.42" fill="#EC2027"/>
<rect x="458.20" y="476.46" width="10.89" height="26.42" fill="#EC2027"/>
<rect x="153.19" y="516.24" width="10.89" height="51.80" fill="#008000"/>
<rect x="164.09" y="516.24" width="10.89" height="51.80" fill="#008000"/>
<rect x="174.98" y="516.24" width="10.89" height="51.80" fill="#008000"/>
<rect x="185.87" y="516.24" width="10.89" height="51.80" fill="#008000"/>
<rect x="196.77" y="516.24" width="10.89" height="51.80" fill="#008000"/>
<rect x="207.66" y="516.24" width="10.89" height="51.80" fill="#008000"/>
<rect x="218.55" y="516.24" width="10.89" height="51.80" fill="#008000"/>
<rect x="229.44" y="516.24" width="10.89" height="51.80" fill="#008000"/>
<rect x="240.34" y="516.24" width="10.89" height="51.80" fill="#008000"/>
<rect x="251.23" y="516.24" width="10.89" height="51.80" fill="#008000"/>
<rect x="273.02" y="528.93" width="10.89" height="26.42" fill="#EC2027"/>
<rect x="316.59" y="621.18" width="10.89" height="51.80" fill="#008000"/>
<rect x="458.20" y="633.87" width="10.89" height="26.42" fill="#EC2027"/>
<rect x="469.09" y="633.87" width="10.89" height="26.42" fill="#EC2027"/>
<rect x="479.98" y="633.87" width="10.89" height="26.42" fill="#EC2027"/>
<rect x="588.91" y="633.87" width="10.89" height="26.42" fill="#EC2027"/>
<rect x="599.81" y="633.87" width="10.89" height="26.42" fill="#EC2027"/>
<rect x="752.31" y="633.87" width="10.89" height="26.42" fill="#EC2027"/>
<rect x="763.20" y="633.87" width="10.89" height="26.42" fill="#EC2027"/>
<rect x="153.19" y="673.65" width="10.89" height="51.80" fill="#9B59B6"/>
<rect x="174.98" y="673.65" width="10.89" height="51.80" fill="#9B59B6"/>
<rect x="164.09" y="673.65" width="10.89" height="51.80" fill="#008000"/>
<rect x="185.87" y="673.65" width="10.89" height="51.80" fill="#008000"/>
<rect x="196.77" y="673.65" width="10.89" height="51.80" fill="#008000"/>
<rect x="207.66" y="673.65" width="10.89" height="51.80" fill="#008000"/>
<rect x="218.55" y="673.65" width="10.89" height="51.80" fill="#008000"/>
<rect x="229.44" y="673.65" width="10.89" height="51.80" fill="#008000"/>
<rect x="240.34" y="673.65" width="10.89" height="51.80" fill="#008000"/>
<rect x="251.23" y="673.65" width="10.89" height="51.80" fill="#008000"/>
<rect x="153.19" y="686.34" width="10.89" height="26.42" fill="#ADD8E6"/>
<rect x="164.09" y="686.34" width="10.89" height="26.42" fill="#ADD8E6"/>
<rect x="174.98" y="686.34" width="10.89" height="26.42" fill="#ADD8E6"/>
<rect x="185.87" y="686.34" width="10.89" height="26.42" fill="#ADD8E6"/>
<rect x="196.77" y="686.34" width="10.89" height="26.42" fill="#ADD8E6"/>
<rect x="207.66" y="686.34" width="10.89" height="26.42" fill="#ADD8E6"/>
<rect x="218.55" y="686.34" width="10.89" height="26.42" fill="#ADD8E6"/>
<rect x="240.34" y="686.34" width="10.89" height="26.42" fill="#ADD8E6"/>
<rect x="251.23" y="686.34" width="10.89" height="26.42" fill="#ADD8E6"/>
<rect x="229.44" y="686.34" width="10.89" height="26.42" fill="#EC2027"/>
<rect x="273.02" y="686.34" width="10.89" height="26.42" fill="#EC2027"/>
<rect x="283.91" y="686.34" width="10.89" height="26.42" fill="#EC2027"/>
<rect x="294.80" y="686.34" width="10.89" height="26.42" fill="#EC2027"/>
<rect x="316.59" y="686.34" width="10.89" height="26.42" fill="#EC2027"/>
<rect x="327.48" y="686.34" width="10.89" height="26.42" fill="#EC2027"/>
<rect x="349.27" y="686.34" width="10.89" height="26.42" fill="#EC2027"/>
<rect x="360.16" y="686.34" width="10.89" height="26.42" fill="#EC2027"/>
<rect x="381.95" y="686.34" width="10.89" height="26.42" fill="#EC2027"/>
<rect x="403.73" y="686.34" width="10.89" height="26.42" fill="#EC2027"/>
<rect x="414.63" y="686.34" width="10.89" height="26.42" fill="#EC2027"/>
<rect x="578.02" y="686.34" width="10.89" height="26.42" fill="#EC2027"/>
<rect x="588.91" y="686.34" width="10.89" height="26.42" fill="#EC2027"/>
<rect x="599.81" y="686.34" width="10.89" height="26.42" fill="#EC2027"/>
<rect x="621.59" y="686.34" width="10.89" height="26.42" fill="#EC2027"/>
<rect x="632.49" y="686.34" width="10.89" height="26.42" fill="#EC2027"/>
<rect x="643.38" y="686.34" width="10.89" height="26.42" fill="#EC2027"/>
<rect x="316.59" y="726.12" width="10.89" height="51.80" fill="#008000"/>
<rect x="730.52" y="726.12" width="10.89" height="51.80" fill="#008000"/>
<rect x="469.09" y="778.59" width="10.89" height="51.80" fill="#9B59B6"/>
<rect x="588.91" y="778.59" width="10.89" height="51.80" fill="#008000"/>
<rect x="599.81" y="778.59" width="10.89" height="51.80" fill="#008000"/>
<rect x="610.70" y="778.59" width="10.89" height="51.80" fill="#008000"/>
<rect x="599.81" y="791.28" width="10.89" height="26.42" fill="#ADD8E6"/>
<rect x="610.70" y="791.28" width="10.89" height="26.42" fill="#ADD8E6"/>
<rect x="283.91" y="831.06" width="10.89" height="51.80" fill="#708090"/>
<rect x="294.80" y="831.06" width="10.89" height="51.80" fill="#708090"/>
<rect x="327.48" y="831.06" width="10.89" height="51.80" fill="#708090"/>
<rect x="360.16" y="831.06" width="10.89" height="51.80" fill="#708090"/>
<rect x="381.95" y="831.06" width="10.89" height="51.80" fill="#708090"/>
<rect x="392.84" y="831.06" width="10.89" height="51.80" fill="#708090"/>
<rect x="403.73" y="831.06" width="10.89" height="51.80" fill="#708090"/>
<rect x="414.63" y="831.06" width="10.89" height="51.80" fill="#708090"/>
<rect x="273.02" y="843.75" width="10.89" height="26.42" fill="#EC2027"/>
<rect x="327.48" y="843.75" width="10.89" height="26.42" fill="#EC2027"/>
<rect x="414.63" y="843.75" width="10.89" height="26.42" fill="#EC2027"/>
<rect x="338.37" y="883.53" width="10.89" height="51.80" fill="#008000"/>
<rect x="774.09" y="883.53" width="10.89" height="51.80" fill="#008000"/>
<rect x="218.55" y="936.00" width="10.89" height="51.80" fill="#708090"/>
<rect x="229.44" y="936.00" width="10.89" height="51.80" fill="#708090"/>
<rect x="251.23" y="936.00" width="10.89" height="51.80" fill="#708090"/>
<rect x="327.48" y="948.69" width="10.89" height="26.42" fill="#EC2027"/>
<rect x="392.84" y="948.69" width="10.89" height="26.42" fill="#EC2027"/>
<rect x="403.73" y="948.69" width="10.89" height="26.42" fill="#EC2027"/>
<rect x="567.13" y="988.47" width="10.89" height="51.80" fill="#708090"/>
<rect x="578.02" y="988.47" width="10.89" height="51.80" fill="#708090"/>
<rect x="599.81" y="1040.94" width="10.89" height="51.80" fill="#008000"/>
<rect x="153.19" y="1145.88" width="10.89" height="51.80" fill="#9B59B6"/>
<rect x="164.09" y="1145.88" width="10.89" height="51.80" fill="#9B59B6"/>
<rect x="196.77" y="1145.88" width="10.89" height="51.80" fill="#9B59B6"/>
<rect x="240.34" y="1145.88" width="10.89" height="51.80" fill="#9B59B6"/>
<rect x="174.98" y="1145.88" width="10.89" height="51.80" fill="#008000"/>
<rect x="185.87" y="1145.88" width="10.89" height="51.80" fill="#008000"/>
<rect x="207.66" y="1145.88" width="10.89" height="51.80" fill="#008000"/>
<rect x="218.55" y="1145.88" width="10.89" height="51.80" fill="#008000"/>
<rect x="229.44" y="1145.88" width="10.89" height="51.80" fill="#008000"/>
<rect x="251.23" y="1145.88" width="10.89" height="51.80" fill="#008000"/>
<rect x="621.59" y="1158.57" width="10.89" height="26.42" fill="#ADD8E6"/>
<rect x="632.49" y="1158.57" width="10.89" height="26.42" fill="#ADD8E6"/>
<rect x="643.38" y="1158.57" width="10.89" height="26.42" fill="#ADD8E6"/>
<rect x="621.59" y="1211.04" width="10.89" height="26.42" fill="#ADD8E6"/>
<rect x="632.49" y="1211.04" width="10.89" height="26.42" fill="#ADD8E6"/>
<rect x="643.38" y="1211.04" width="10.89" height="26.42" fill="#ADD8E6"/>
<rect x="621.59" y="1263.51" width="10.89" height="26.42" fill="#ADD8E6"/>
<rect x="632.49" y="1263.51" width="10.89" height="26.42" fill="#ADD8E6"/>
<rect x="643.38" y="1263.51" width="10.89" height="26.42" fill="#ADD8E6"/>
<rect x="260.10" y="411.00" width="3.40" height="891.80" fill="#FFFFFF"/>
<rect x="424.10" y="411.00" width="3.40" height="891.80" fill="#FFFFFF"/>
<rect x="500.50" y="411.00" width="3.40" height="891.80" fill="#FFFFFF"/>
<rect x="653.30" y="411.00" width="3.40" height="891.80" fill="#FFFFFF"/>
<rect x="142.70" y="411.00" width="643.60" height="891.80" fill="none" stroke="#1a1a1a" stroke-width="2.8"/>
<rect x="915.30" y="407.40" width="686.00" height="898.10" fill="#F4F4F4"/>
<rect x="915.45" y="407.55" width="11.53" height="51.90" fill="#EFEFEF"/>
<rect x="927.48" y="407.55" width="11.53" height="51.90" fill="#EFEFEF"/>
<rect x="939.51" y="407.55" width="11.53" height="51.90" fill="#EFEFEF"/>
<rect x="951.54" y="407.55" width="11.53" height="51.90" fill="#EFEFEF"/>
<rect x="963.57" y="407.55" width="11.53" height="51.90" fill="#EFEFEF"/>
<rect x="975.60" y="407.55" width="11.53" height="51.90" fill="#EFEFEF"/>
<rect x="987.63" y="407.55" width="11.53" height="51.90" fill="#EFEFEF"/>
<rect x="999.66" y="407.55" width="11.53" height="51.90" fill="#EFEFEF"/>
<rect x="1011.69" y="407.55" width="11.53" height="51.90" fill="#EFEFEF"/>
<rect x="1023.72" y="407.55" width="11.53" height="51.90" fill="#EFEFEF"/>
<rect x="1035.75" y="407.55" width="11.53" height="51.90" fill="#EFEFEF"/>
<rect x="1047.78" y="407.55" width="11.53" height="51.90" fill="#EFEFEF"/>
<rect x="1059.81" y="407.55" width="11.53" height="51.90" fill="#EFEFEF"/>
<rect x="1071.84" y="407.55" width="11.53" height="51.90" fill="#EFEFEF"/>
<rect x="1083.87" y="407.55" width="11.53" height="51.90" fill="#EFEFEF"/>
<rect x="1095.90" y="407.55" width="11.53" height="51.90" fill="#EFEFEF"/>
<rect x="1107.93" y="407.55" width="11.53" height="51.90" fill="#EFEFEF"/>
<rect x="1119.96" y="407.55" width="11.53" height="51.90" fill="#EFEFEF"/>
<rect x="1131.99" y="407.55" width="11.53" height="51.90" fill="#EFEFEF"/>
<rect x="1144.02" y="407.55" width="11.53" height="51.90" fill="#EFEFEF"/>
<rect x="1156.05" y="407.55" width="11.53" height="51.90" fill="#EFEFEF"/>
<rect x="1168.08" y="407.55" width="11.53" height="51.90" fill="#EFEFEF"/>
<rect x="1180.11" y="407.55" width="11.53" height="51.90" fill="#EFEFEF"/>
<rect x="1192.14" y="407.55" width="11.53" height="51.90" fill="#EFEFEF"/>
<rect x="1204.17" y="407.55" width="11.53" height="51.90" fill="#EFEFEF"/>
<rect x="1216.20" y="407.55" width="11.53" height="51.90" fill="#EFEFEF"/>
<rect x="1228.23" y="407.55" width="11.53" height="51.90" fill="#EFEFEF"/>
<rect x="1240.26" y="407.55" width="11.53" height="51.90" fill="#EFEFEF"/>
<rect x="1252.29" y="407.55" width="11.53" height="51.90" fill="#EFEFEF"/>
<rect x="1264.32" y="407.55" width="11.53" height="51.90" fill="#EFEFEF"/>
<rect x="1276.35" y="407.55" width="11.53" height="51.90" fill="#EFEFEF"/>
<rect x="1288.38" y="407.55" width="11.53" height="51.90" fill="#EFEFEF"/>
<rect x="1300.41" y="407.55" width="11.53" height="51.90" fill="#EFEFEF"/>
<rect x="1312.44" y="407.55" width="11.53" height="51.90" fill="#EFEFEF"/>
<rect x="1324.47" y="407.55" width="11.53" height="51.90" fill="#EFEFEF"/>
<rect x="1336.50" y="407.55" width="11.53" height="51.90" fill="#EFEFEF"/>
<rect x="1348.53" y="407.55" width="11.53" height="51.90" fill="#EFEFEF"/>
<rect x="1360.56" y="407.55" width="11.53" height="51.90" fill="#EFEFEF"/>
<rect x="1372.59" y="407.55" width="11.53" height="51.90" fill="#EFEFEF"/>
<rect x="1384.62" y="407.55" width="11.53" height="51.90" fill="#EFEFEF"/>
<rect x="1396.65" y="407.55" width="11.53" height="51.90" fill="#EFEFEF"/>
<rect x="1408.68" y="407.55" width="11.53" height="51.90" fill="#EFEFEF"/>
<rect x="1420.71" y="407.55" width="11.53" height="51.90" fill="#EFEFEF"/>
<rect x="1432.74" y="407.55" width="11.53" height="51.90" fill="#EFEFEF"/>
<rect x="1444.77" y="407.55" width="11.53" height="51.90" fill="#EFEFEF"/>
<rect x="1456.80" y="407.55" width="11.53" height="51.90" fill="#EFEFEF"/>
<rect x="1468.83" y="407.55" width="11.53" height="51.90" fill="#EFEFEF"/>
<rect x="1480.86" y="407.55" width="11.53" height="51.90" fill="#EFEFEF"/>
<rect x="1492.89" y="407.55" width="11.53" height="51.90" fill="#EFEFEF"/>
<rect x="1504.92" y="407.55" width="11.53" height="51.90" fill="#EFEFEF"/>
<rect x="1516.95" y="407.55" width="11.53" height="51.90" fill="#EFEFEF"/>
<rect x="1528.98" y="407.55" width="11.53" height="51.90" fill="#EFEFEF"/>
<rect x="1541.01" y="407.55" width="11.53" height="51.90" fill="#EFEFEF"/>
<rect x="1553.04" y="407.55" width="11.53" height="51.90" fill="#EFEFEF"/>
<rect x="1565.07" y="407.55" width="11.53" height="51.90" fill="#EFEFEF"/>
<rect x="1577.10" y="407.55" width="11.53" height="51.90" fill="#EFEFEF"/>
<rect x="1589.13" y="407.55" width="11.53" height="51.90" fill="#EFEFEF"/>
<rect x="915.45" y="460.35" width="11.53" height="51.90" fill="#EFEFEF"/>
<rect x="927.48" y="460.35" width="11.53" height="51.90" fill="#EFEFEF"/>
<rect x="939.51" y="460.35" width="11.53" height="51.90" fill="#EFEFEF"/>
<rect x="951.54" y="460.35" width="11.53" height="51.90" fill="#EFEFEF"/>
<rect x="963.57" y="460.35" width="11.53" height="51.90" fill="#EFEFEF"/>
<rect x="975.60" y="460.35" width="11.53" height="51.90" fill="#EFEFEF"/>
<rect x="987.63" y="460.35" width="11.53" height="51.90" fill="#EFEFEF"/>
<rect x="999.66" y="460.35" width="11.53" height="51.90" fill="#EFEFEF"/>
<rect x="1011.69" y="460.35" width="11.53" height="51.90" fill="#EFEFEF"/>
<rect x="1023.72" y="460.35" width="11.53" height="51.90" fill="#EFEFEF"/>
<rect x="1035.75" y="460.35" width="11.53" height="51.90" fill="#EFEFEF"/>
<rect x="1047.78" y="460.35" width="11.53" height="51.90" fill="#EFEFEF"/>
<rect x="1059.81" y="460.35" width="11.53" height="51.90" fill="#EFEFEF"/>
<rect x="1071.84" y="460.35" width="11.53" height="51.90" fill="#EFEFEF"/>
<rect x="1083.87" y="460.35" width="11.53" height="51.90" fill="#EFEFEF"/>
<rect x="1095.90" y="460.35" width="11.53" height="51.90" fill="#EFEFEF"/>
<rect x="1107.93" y="460.35" width="11.53" height="51.90" fill="#EFEFEF"/>
<rect x="1119.96" y="460.35" width="11.53" height="51.90" fill="#EFEFEF"/>
<rect x="1131.99" y="460.35" width="11.53" height="51.90" fill="#EFEFEF"/>
<rect x="1144.02" y="460.35" width="11.53" height="51.90" fill="#EFEFEF"/>
<rect x="1156.05" y="460.35" width="11.53" height="51.90" fill="#EFEFEF"/>
<rect x="1168.08" y="460.35" width="11.53" height="51.90" fill="#EFEFEF"/>
<rect x="1180.11" y="460.35" width="11.53" height="51.90" fill="#EFEFEF"/>
<rect x="1192.14" y="460.35" width="11.53" height="51.90" fill="#EFEFEF"/>
<rect x="1204.17" y="460.35" width="11.53" height="51.90" fill="#EFEFEF"/>
<rect x="1216.20" y="460.35" width="11.53" height="51.90" fill="#EFEFEF"/>
<rect x="1228.23" y="460.35" width="11.53" height="51.90" fill="#EFEFEF"/>
<rect x="1240.26" y="460.35" width="11.53" height="51.90" fill="#EFEFEF"/>
<rect x="1252.29" y="460.35" width="11.53" height="51.90" fill="#EFEFEF"/>
<rect x="1264.32" y="460.35" width="11.53" height="51.90" fill="#EFEFEF"/>
<rect x="1276.35" y="460.35" width="11.53" height="51.90" fill="#EFEFEF"/>
<rect x="1288.38" y="460.35" width="11.53" height="51.90" fill="#EFEFEF"/>
<rect x="1300.41" y="460.35" width="11.53" height="51.90" fill="#EFEFEF"/>
<rect x="1312.44" y="460.35" width="11.53" height="51.90" fill="#EFEFEF"/>
<rect x="1324.47" y="460.35" width="11.53" height="51.90" fill="#EFEFEF"/>
<rect x="1336.50" y="460.35" width="11.53" height="51.90" fill="#EFEFEF"/>
<rect x="1348.53" y="460.35" width="11.53" height="51.90" fill="#EFEFEF"/>
<rect x="1360.56" y="460.35" width="11.53" height="51.90" fill="#EFEFEF"/>
<rect x="1372.59" y="460.35" width="11.53" height="51.90" fill="#EFEFEF"/>
<rect x="1384.62" y="460.35" width="11.53" height="51.90" fill="#EFEFEF"/>
<rect x="1396.65" y="460.35" width="11.53" height="51.90" fill="#EFEFEF"/>
<rect x="1408.68" y="460.35" width="11.53" height="51.90" fill="#EFEFEF"/>
<rect x="1420.71" y="460.35" width="11.53" height="51.90" fill="#EFEFEF"/>
<rect x="1432.74" y="460.35" width="11.53" height="51.90" fill="#EFEFEF"/>
<rect x="1444.77" y="460.35" width="11.53" height="51.90" fill="#EFEFEF"/>
<rect x="1456.80" y="460.35" width="11.53" height="51.90" fill="#EFEFEF"/>
<rect x="1468.83" y="460.35" width="11.53" height="51.90" fill="#EFEFEF"/>
<rect x="1480.86" y="460.35" width="11.53" height="51.90" fill="#EFEFEF"/>
<rect x="1492.89" y="460.35" width="11.53" height="51.90" fill="#EFEFEF"/>
<rect x="1504.92" y="460.35" width="11.53" height="51.90" fill="#EFEFEF"/>
<rect x="1516.95" y="460.35" width="11.53" height="51.90" fill="#EFEFEF"/>
<rect x="1528.98" y="460.35" width="11.53" height="51.90" fill="#EFEFEF"/>
<rect x="1541.01" y="460.35" width="11.53" height="51.90" fill="#EFEFEF"/>
<rect x="1553.04" y="460.35" width="11.53" height="51.90" fill="#EFEFEF"/>
<rect x="1565.07" y="460.35" width="11.53" height="51.90" fill="#EFEFEF"/>
<rect x="1577.10" y="460.35" width="11.53" height="51.90" fill="#EFEFEF"/>
<rect x="1589.13" y="460.35" width="11.53" height="51.90" fill="#EFEFEF"/>
<rect x="915.45" y="513.15" width="11.53" height="51.90" fill="#EFEFEF"/>
<rect x="927.48" y="513.15" width="11.53" height="51.90" fill="#EFEFEF"/>
<rect x="939.51" y="513.15" width="11.53" height="51.90" fill="#EFEFEF"/>
<rect x="951.54" y="513.15" width="11.53" height="51.90" fill="#EFEFEF"/>
<rect x="963.57" y="513.15" width="11.53" height="51.90" fill="#EFEFEF"/>
<rect x="975.60" y="513.15" width="11.53" height="51.90" fill="#EFEFEF"/>
<rect x="987.63" y="513.15" width="11.53" height="51.90" fill="#EFEFEF"/>
<rect x="999.66" y="513.15" width="11.53" height="51.90" fill="#EFEFEF"/>
<rect x="1011.69" y="513.15" width="11.53" height="51.90" fill="#EFEFEF"/>
<rect x="1023.72" y="513.15" width="11.53" height="51.90" fill="#EFEFEF"/>
<rect x="1035.75" y="513.15" width="11.53" height="51.90" fill="#EFEFEF"/>
<rect x="1047.78" y="513.15" width="11.53" height="51.90" fill="#EFEFEF"/>
<rect x="1059.81" y="513.15" width="11.53" height="51.90" fill="#EFEFEF"/>
<rect x="1071.84" y="513.15" width="11.53" height="51.90" fill="#EFEFEF"/>
<rect x="1083.87" y="513.15" width="11.53" height="51.90" fill="#EFEFEF"/>
<rect x="1095.90" y="513.15" width="11.53" height="51.90" fill="#EFEFEF"/>
<rect x="1107.93" y="513.15" width="11.53" height="51.90" fill="#EFEFEF"/>
<rect x="1119.96" y="513.15" width="11.53" height="51.90" fill="#EFEFEF"/>
<rect x="1131.99" y="513.15" width="11.53" height="51.90" fill="#EFEFEF"/>
<rect x="1144.02" y="513.15" width="11.53" height="51.90" fill="#EFEFEF"/>
<rect x="1156.05" y="513.15" width="11.53" height="51.90" fill="#EFEFEF"/>
<rect x="1168.08" y="513.15" width="11.53" height="51.90" fill="#EFEFEF"/>
<rect x="1180.11" y="513.15" width="11.53" height="51.90" fill="#EFEFEF"/>
<rect x="1192.14" y="513.15" width="11.53" height="51.90" fill="#EFEFEF"/>
<rect x="1204.17" y="513.15" width="11.53" height="51.90" fill="#EFEFEF"/>
<rect x="1216.20" y="513.15" width="11.53" height="51.90" fill="#EFEFEF"/>
<rect x="1228.23" y="513.15" width="11.53" height="51.90" fill="#EFEFEF"/>
<rect x="1240.26" y="513.15" width="11.53" height="51.90" fill="#EFEFEF"/>
<rect x="1252.29" y="513.15" width="11.53" height="51.90" fill="#EFEFEF"/>
<rect x="1264.32" y="513.15" width="11.53" height="51.90" fill="#EFEFEF"/>
<rect x="1276.35" y="513.15" width="11.53" height="51.90" fill="#EFEFEF"/>
<rect x="1288.38" y="513.15" width="11.53" height="51.90" fill="#EFEFEF"/>
<rect x="1300.41" y="513.15" width="11.53" height="51.90" fill="#EFEFEF"/>
<rect x="1312.44" y="513.15" width="11.53" height="51.90" fill="#EFEFEF"/>
<rect x="1324.47" y="513.15" width="11.53" height="51.90" fill="#EFEFEF"/>
<rect x="1336.50" y="513.15" width="11.53" height="51.90" fill="#EFEFEF"/>
<rect x="1348.53" y="513.15" width="11.53" height="51.90" fill="#EFEFEF"/>
<rect x="1360.56" y="513.15" width="11.53" height="51.90" fill="#EFEFEF"/>
<rect x="1372.59" y="513.15" width="11.53" height="51.90" fill="#EFEFEF"/>
<rect x="1384.62" y="513.15" width="11.53" height="51.90" fill="#EFEFEF"/>
<rect x="1396.65" y="513.15" width="11.53" height="51.90" fill="#EFEFEF"/>
<rect x="1408.68" y="513.15" width="11.53" height="51.90" fill="#EFEFEF"/>
<rect x="1420.71" y="513.15" width="11.53" height="51.90" fill="#EFEFEF"/>
<rect x="1432.74" y="513.15" width="11.53" height="51.90" fill="#EFEFEF"/>
<rect x="1444.77" y="513.15" width="11.53" height="51.90" fill="#EFEFEF"/>
<rect x="1456.80" y="513.15" width="11.53" height="51.90" fill="#EFEFEF"/>
<rect x="1468.83" y="513.15" width="11.53" height="51.90" fill="#EFEFEF"/>
<rect x="1480.86" y="513.15" width="11.53" height="51.90" fill="#EFEFEF"/>
<rect x="1492.89" y="513.15" width="11.53" height="51.90" fill="#EFEFEF"/>
<rect x="1504.92" y="513.15" width="11.53" height="51.90" fill="#EFEFEF"/>
<rect x="1516.95" y="513.15" width="11.53" height="51.90" fill="#EFEFEF"/>
<rect x="1528.98" y="513.15" width="11.53" height="51.90" fill="#EFEFEF"/>
<rect x="1541.01" y="513.15" width="11.53" height="51.90" fill="#EFEFEF"/>
<rect x="1553.04" y="513.15" width="11.53" height="51.90" fill="#EFEFEF"/>
<rect x="1565.07" y="513.15" width="11.53" height="51.90" fill="#EFEFEF"/>
<rect x="1577.10" y="513.15" width="11.53" height="51.90" fill="#EFEFEF"/>
<rect x="1589.13" y="513.15" width="11.53" height="51.90" fill="#EFEFEF"/>
<rect x="915.45" y="565.95" width="11.53" height="51.90" fill="#EFEFEF"/>
<rect x="927.48" y="565.95" width="11.53" height="51.90" fill="#EFEFEF"/>
<rect x="939.51" y="565.95" width="11.53" height="51.90" fill="#EFEFEF"/>
<rect x="951.54" y="565.95" width="11.53" height="51.90" fill="#EFEFEF"/>
<rect x="963.57" y="565.95" width="11.53" height="51.90" fill="#EFEFEF"/>
<rect x="975.60" y="565.95" width="11.53" height="51.90" fill="#EFEFEF"/>
<rect x="987.63" y="565.95" width="11.53" height="51.90" fill="#EFEFEF"/>
<rect x="999.66" y="565.95" width="11.53" height="51.90" fill="#EFEFEF"/>
<rect x="1011.69" y="565.95" width="11.53" height="51.90" fill="#EFEFEF"/>
<rect x="1023.72" y="565.95" width="11.53" height="51.90" fill="#EFEFEF"/>
<rect x="1035.75" y="565.95" width="11.53" height="51.90" fill="#EFEFEF"/>
<rect x="1047.78" y="565.95" width="11.53" height="51.90" fill="#EFEFEF"/>
<rect x="1059.81" y="565.95" width="11.53" height="51.90" fill="#EFEFEF"/>
<rect x="1071.84" y="565.95" width="11.53" height="51.90" fill="#EFEFEF"/>
<rect x="1083.87" y="565.95" width="11.53" height="51.90" fill="#EFEFEF"/>
<rect x="1095.90" y="565.95" width="11.53" height="51.90" fill="#EFEFEF"/>
<rect x="1107.93" y="565.95" width="11.53" height="51.90" fill="#EFEFEF"/>
<rect x="1119.96" y="565.95" width="11.53" height="51.90" fill="#EFEFEF"/>
<rect x="1131.99" y="565.95" width="11.53" height="51.90" fill="#EFEFEF"/>
<rect x="1144.02" y="565.95" width="11.53" height="51.90" fill="#EFEFEF"/>
<rect x="1156.05" y="565.95" width="11.53" height="51.90" fill="#EFEFEF"/>
<rect x="1168.08" y="565.95" width="11.53" height="51.90" fill="#EFEFEF"/>
<rect x="1180.11" y="565.95" width="11.53" height="51.90" fill="#EFEFEF"/>
<rect x="1192.14" y="565.95" width="11.53" height="51.90" fill="#EFEFEF"/>
<rect x="1204.17" y="565.95" width="11.53" height="51.90" fill="#EFEFEF"/>
<rect x="1216.20" y="565.95" width="11.53" height="51.90" fill="#EFEFEF"/>
<rect x="1228.23" y="565.95" width="11.53" height="51.90" fill="#EFEFEF"/>
<rect x="1240.26" y="565.95" width="11.53" height="51.90" fill="#EFEFEF"/>
<rect x="1252.29" y="565.95" width="11.53" height="51.90" fill="#EFEFEF"/>
<rect x="1264.32" y="565.95" width="11.53" height="51.90" fill="#EFEFEF"/>
<rect x="1276.35" y="565.95" width="11.53" height="51.90" fill="#EFEFEF"/>
<rect x="1288.38" y="565.95" width="11.53" height="51.90" fill="#EFEFEF"/>
<rect x="1300.41" y="565.95" width="11.53" height="51.90" fill="#EFEFEF"/>
<rect x="1312.44" y="565.95" width="11.53" height="51.90" fill="#EFEFEF"/>
<rect x="1324.47" y="565.95" width="11.53" height="51.90" fill="#EFEFEF"/>
<rect x="1336.50" y="565.95" width="11.53" height="51.90" fill="#EFEFEF"/>
<rect x="1348.53" y="565.95" width="11.53" height="51.90" fill="#EFEFEF"/>
<rect x="1360.56" y="565.95" width="11.53" height="51.90" fill="#EFEFEF"/>
<rect x="1372.59" y="565.95" width="11.53" height="51.90" fill="#EFEFEF"/>
<rect x="1384.62" y="565.95" width="11.53" height="51.90" fill="#EFEFEF"/>
<rect x="1396.65" y="565.95" width="11.53" height="51.90" fill="#EFEFEF"/>
<rect x="1408.68" y="565.95" width="11.53" height="51.90" fill="#EFEFEF"/>
<rect x="1420.71" y="565.95" width="11.53" height="51.90" fill="#EFEFEF"/>
<rect x="1432.74" y="565.95" width="11.53" height="51.90" fill="#EFEFEF"/>
<rect x="1444.77" y="565.95" width="11.53" height="51.90" fill="#EFEFEF"/>
<rect x="1456.80" y="565.95" width="11.53" height="51.90" fill="#EFEFEF"/>
<rect x="1468.83" y="565.95" width="11.53" height="51.90" fill="#EFEFEF"/>
<rect x="1480.86" y="565.95" width="11.53" height="51.90" fill="#EFEFEF"/>
<rect x="1492.89" y="565.95" width="11.53" height="51.90" fill="#EFEFEF"/>
<rect x="1504.92" y="565.95" width="11.53" height="51.90" fill="#EFEFEF"/>
<rect x="1516.95" y="565.95" width="11.53" height="51.90" fill="#EFEFEF"/>
<rect x="1528.98" y="565.95" width="11.53" height="51.90" fill="#EFEFEF"/>
<rect x="1541.01" y="565.95" width="11.53" height="51.90" fill="#EFEFEF"/>
<rect x="1553.04" y="565.95" width="11.53" height="51.90" fill="#EFEFEF"/>
<rect x="1565.07" y="565.95" width="11.53" height="51.90" fill="#EFEFEF"/>
<rect x="1577.10" y="565.95" width="11.53" height="51.90" fill="#EFEFEF"/>
<rect x="1589.13" y="565.95" width="11.53" height="51.90" fill="#EFEFEF"/>
<rect x="915.45" y="618.75" width="11.53" height="51.90" fill="#EFEFEF"/>
<rect x="927.48" y="618.75" width="11.53" height="51.90" fill="#EFEFEF"/>
<rect x="939.51" y="618.75" width="11.53" height="51.90" fill="#EFEFEF"/>
<rect x="951.54" y="618.75" width="11.53" height="51.90" fill="#EFEFEF"/>
<rect x="963.57" y="618.75" width="11.53" height="51.90" fill="#EFEFEF"/>
<rect x="975.60" y="618.75" width="11.53" height="51.90" fill="#EFEFEF"/>
<rect x="987.63" y="618.75" width="11.53" height="51.90" fill="#EFEFEF"/>
<rect x="999.66" y="618.75" width="11.53" height="51.90" fill="#EFEFEF"/>
<rect x="1011.69" y="618.75" width="11.53" height="51.90" fill="#EFEFEF"/>
<rect x="1023.72" y="618.75" width="11.53" height="51.90" fill="#EFEFEF"/>
<rect x="1035.75" y="618.75" width="11.53" height="51.90" fill="#EFEFEF"/>
<rect x="1047.78" y="618.75" width="11.53" height="51.90" fill="#EFEFEF"/>
<rect x="1059.81" y="618.75" width="11.53" height="51.90" fill="#EFEFEF"/>
<rect x="1071.84" y="618.75" width="11.53" height="51.90" fill="#EFEFEF"/>
<rect x="1083.87" y="618.75" width="11.53" height="51.90" fill="#EFEFEF"/>
<rect x="1095.90" y="618.75" width="11.53" height="51.90" fill="#EFEFEF"/>
<rect x="1107.93" y="618.75" width="11.53" height="51.90" fill="#EFEFEF"/>
<rect x="1119.96" y="618.75" width="11.53" height="51.90" fill="#EFEFEF"/>
<rect x="1131.99" y="618.75" width="11.53" height="51.90" fill="#EFEFEF"/>
<rect x="1144.02" y="618.75" width="11.53" height="51.90" fill="#EFEFEF"/>
<rect x="1156.05" y="618.75" width="11.53" height="51.90" fill="#EFEFEF"/>
<rect x="1168.08" y="618.75" width="11.53" height="51.90" fill="#EFEFEF"/>
<rect x="1180.11" y="618.75" width="11.53" height="51.90" fill="#EFEFEF"/>
<rect x="1192.14" y="618.75" width="11.53" height="51.90" fill="#EFEFEF"/>
<rect x="1204.17" y="618.75" width="11.53" height="51.90" fill="#EFEFEF"/>
<rect x="1216.20" y="618.75" width="11.53" height="51.90" fill="#EFEFEF"/>
<rect x="1228.23" y="618.75" width="11.53" height="51.90" fill="#EFEFEF"/>
<rect x="1240.26" y="618.75" width="11.53" height="51.90" fill="#EFEFEF"/>
<rect x="1252.29" y="618.75" width="11.53" height="51.90" fill="#EFEFEF"/>
<rect x="1264.32" y="618.75" width="11.53" height="51.90" fill="#EFEFEF"/>
<rect x="1276.35" y="618.75" width="11.53" height="51.90" fill="#EFEFEF"/>
<rect x="1288.38" y="618.75" width="11.53" height="51.90" fill="#EFEFEF"/>
<rect x="1300.41" y="618.75" width="11.53" height="51.90" fill="#EFEFEF"/>
<rect x="1312.44" y="618.75" width="11.53" height="51.90" fill="#EFEFEF"/>
<rect x="1324.47" y="618.75" width="11.53" height="51.90" fill="#EFEFEF"/>
<rect x="1336.50" y="618.75" width="11.53" height="51.90" fill="#EFEFEF"/>
<rect x="1348.53" y="618.75" width="11.53" height="51.90" fill="#EFEFEF"/>
<rect x="1360.56" y="618.75" width="11.53" height="51.90" fill="#EFEFEF"/>
<rect x="1372.59" y="618.75" width="11.53" height="51.90" fill="#EFEFEF"/>
<rect x="1384.62" y="618.75" width="11.53" height="51.90" fill="#EFEFEF"/>
<rect x="1396.65" y="618.75" width="11.53" height="51.90" fill="#EFEFEF"/>
<rect x="1408.68" y="618.75" width="11.53" height="51.90" fill="#EFEFEF"/>
<rect x="1420.71" y="618.75" width="11.53" height="51.90" fill="#EFEFEF"/>
<rect x="1432.74" y="618.75" width="11.53" height="51.90" fill="#EFEFEF"/>
<rect x="1444.77" y="618.75" width="11.53" height="51.90" fill="#EFEFEF"/>
<rect x="1456.80" y="618.75" width="11.53" height="51.90" fill="#EFEFEF"/>
<rect x="1468.83" y="618.75" width="11.53" height="51.90" fill="#EFEFEF"/>
<rect x="1480.86" y="618.75" width="11.53" height="51.90" fill="#EFEFEF"/>
<rect x="1492.89" y="618.75" width="11.53" height="51.90" fill="#EFEFEF"/>
<rect x="1504.92" y="618.75" width="11.53" height="51.90" fill="#EFEFEF"/>
<rect x="1516.95" y="618.75" width="11.53" height="51.90" fill="#EFEFEF"/>
<rect x="1528.98" y="618.75" width="11.53" height="51.90" fill="#EFEFEF"/>
<rect x="1541.01" y="618.75" width="11.53" height="51.90" fill="#EFEFEF"/>
<rect x="1553.04" y="618.75" width="11.53" height="51.90" fill="#EFEFEF"/>
<rect x="1565.07" y="618.75" width="11.53" height="51.90" fill="#EFEFEF"/>
<rect x="1577.10" y="618.75" width="11.53" height="51.90" fill="#EFEFEF"/>
<rect x="1589.13" y="618.75" width="11.53" height="51.90" fill="#EFEFEF"/>
<rect x="915.45" y="671.55" width="11.53" height="51.90" fill="#EFEFEF"/>
<rect x="927.48" y="671.55" width="11.53" height="51.90" fill="#EFEFEF"/>
<rect x="939.51" y="671.55" width="11.53" height="51.90" fill="#EFEFEF"/>
<rect x="951.54" y="671.55" width="11.53" height="51.90" fill="#EFEFEF"/>
<rect x="963.57" y="671.55" width="11.53" height="51.90" fill="#EFEFEF"/>
<rect x="975.60" y="671.55" width="11.53" height="51.90" fill="#EFEFEF"/>
<rect x="987.63" y="671.55" width="11.53" height="51.90" fill="#EFEFEF"/>
<rect x="999.66" y="671.55" width="11.53" height="51.90" fill="#EFEFEF"/>
<rect x="1011.69" y="671.55" width="11.53" height="51.90" fill="#EFEFEF"/>
<rect x="1023.72" y="671.55" width="11.53" height="51.90" fill="#EFEFEF"/>
<rect x="1035.75" y="671.55" width="11.53" height="51.90" fill="#EFEFEF"/>
<rect x="1047.78" y="671.55" width="11.53" height="51.90" fill="#EFEFEF"/>
<rect x="1059.81" y="671.55" width="11.53" height="51.90" fill="#EFEFEF"/>
<rect x="1071.84" y="671.55" width="11.53" height="51.90" fill="#EFEFEF"/>
<rect x="1083.87" y="671.55" width="11.53" height="51.90" fill="#EFEFEF"/>
<rect x="1095.90" y="671.55" width="11.53" height="51.90" fill="#EFEFEF"/>
<rect x="1107.93" y="671.55" width="11.53" height="51.90" fill="#EFEFEF"/>
<rect x="1119.96" y="671.55" width="11.53" height="51.90" fill="#EFEFEF"/>
<rect x="1131.99" y="671.55" width="11.53" height="51.90" fill="#EFEFEF"/>
<rect x="1144.02" y="671.55" width="11.53" height="51.90" fill="#EFEFEF"/>
<rect x="1156.05" y="671.55" width="11.53" height="51.90" fill="#EFEFEF"/>
<rect x="1168.08" y="671.55" width="11.53" height="51.90" fill="#EFEFEF"/>
<rect x="1180.11" y="671.55" width="11.53" height="51.90" fill="#EFEFEF"/>
<rect x="1192.14" y="671.55" width="11.53" height="51.90" fill="#EFEFEF"/>
<rect x="1204.17" y="671.55" width="11.53" height="51.90" fill="#EFEFEF"/>
<rect x="1216.20" y="671.55" width="11.53" height="51.90" fill="#EFEFEF"/>
<rect x="1228.23" y="671.55" width="11.53" height="51.90" fill="#EFEFEF"/>
<rect x="1240.26" y="671.55" width="11.53" height="51.90" fill="#EFEFEF"/>
<rect x="1252.29" y="671.55" width="11.53" height="51.90" fill="#EFEFEF"/>
<rect x="1264.32" y="671.55" width="11.53" height="51.90" fill="#EFEFEF"/>
<rect x="1276.35" y="671.55" width="11.53" height="51.90" fill="#EFEFEF"/>
<rect x="1288.38" y="671.55" width="11.53" height="51.90" fill="#EFEFEF"/>
<rect x="1300.41" y="671.55" width="11.53" height="51.90" fill="#EFEFEF"/>
<rect x="1312.44" y="671.55" width="11.53" height="51.90" fill="#EFEFEF"/>
<rect x="1324.47" y="671.55" width="11.53" height="51.90" fill="#EFEFEF"/>
<rect x="1336.50" y="671.55" width="11.53" height="51.90" fill="#EFEFEF"/>
<rect x="1348.53" y="671.55" width="11.53" height="51.90" fill="#EFEFEF"/>
<rect x="1360.56" y="671.55" width="11.53" height="51.90" fill="#EFEFEF"/>
<rect x="1372.59" y="671.55" width="11.53" height="51.90" fill="#EFEFEF"/>
<rect x="1384.62" y="671.55" width="11.53" height="51.90" fill="#EFEFEF"/>
<rect x="1396.65" y="671.55" width="11.53" height="51.90" fill="#EFEFEF"/>
<rect x="1408.68" y="671.55" width="11.53" height="51.90" fill="#EFEFEF"/>
<rect x="1420.71" y="671.55" width="11.53" height="51.90" fill="#EFEFEF"/>
<rect x="1432.74" y="671.55" width="11.53" height="51.90" fill="#EFEFEF"/>
<rect x="1444.77" y="671.55" width="11.53" height="51.90" fill="#EFEFEF"/>
<rect x="1456.80" y="671.55" width="11.53" height="51.90" fill="#EFEFEF"/>
<rect x="1468.83" y="671.55" width="11.53" height="51.90" fill="#EFEFEF"/>
<rect x="1480.86" y="671.55" width="11.53" height="51.90" fill="#EFEFEF"/>
<rect x="1492.89" y="671.55" width="11.53" height="51.90" fill="#EFEFEF"/>
<rect x="1504.92" y="671.55" width="11.53" height="51.90" fill="#EFEFEF"/>
<rect x="1516.95" y="671.55" width="11.53" height="51.90" fill="#EFEFEF"/>
<rect x="1528.98" y="671.55" width="11.53" height="51.90" fill="#EFEFEF"/>
<rect x="1541.01" y="671.55" width="11.53" height="51.90" fill="#EFEFEF"/>
<rect x="1553.04" y="671.55" width="11.53" height="51.90" fill="#EFEFEF"/>
<rect x="1565.07" y="671.55" width="11.53" height="51.90" fill="#EFEFEF"/>
<rect x="1577.10" y="671.55" width="11.53" height="51.90" fill="#EFEFEF"/>
<rect x="1589.13" y="671.55" width="11.53" height="51.90" fill="#EFEFEF"/>
<rect x="915.45" y="724.35" width="11.53" height="51.90" fill="#EFEFEF"/>
<rect x="927.48" y="724.35" width="11.53" height="51.90" fill="#EFEFEF"/>
<rect x="939.51" y="724.35" width="11.53" height="51.90" fill="#EFEFEF"/>
<rect x="951.54" y="724.35" width="11.53" height="51.90" fill="#EFEFEF"/>
<rect x="963.57" y="724.35" width="11.53" height="51.90" fill="#EFEFEF"/>
<rect x="975.60" y="724.35" width="11.53" height="51.90" fill="#EFEFEF"/>
<rect x="987.63" y="724.35" width="11.53" height="51.90" fill="#EFEFEF"/>
<rect x="999.66" y="724.35" width="11.53" height="51.90" fill="#EFEFEF"/>
<rect x="1011.69" y="724.35" width="11.53" height="51.90" fill="#EFEFEF"/>
<rect x="1023.72" y="724.35" width="11.53" height="51.90" fill="#EFEFEF"/>
<rect x="1035.75" y="724.35" width="11.53" height="51.90" fill="#EFEFEF"/>
<rect x="1047.78" y="724.35" width="11.53" height="51.90" fill="#EFEFEF"/>
<rect x="1059.81" y="724.35" width="11.53" height="51.90" fill="#EFEFEF"/>
<rect x="1071.84" y="724.35" width="11.53" height="51.90" fill="#EFEFEF"/>
<rect x="1083.87" y="724.35" width="11.53" height="51.90" fill="#EFEFEF"/>
<rect x="1095.90" y="724.35" width="11.53" height="51.90" fill="#EFEFEF"/>
<rect x="1107.93" y="724.35" width="11.53" height="51.90" fill="#EFEFEF"/>
<rect x="1119.96" y="724.35" width="11.53" height="51.90" fill="#EFEFEF"/>
<rect x="1131.99" y="724.35" width="11.53" height="51.90" fill="#EFEFEF"/>
<rect x="1144.02" y="724.35" width="11.53" height="51.90" fill="#EFEFEF"/>
<rect x="1156.05" y="724.35" width="11.53" height="51.90" fill="#EFEFEF"/>
<rect x="1168.08" y="724.35" width="11.53" height="51.90" fill="#EFEFEF"/>
<rect x="1180.11" y="724.35" width="11.53" height="51.90" fill="#EFEFEF"/>
<rect x="1192.14" y="724.35" width="11.53" height="51.90" fill="#EFEFEF"/>
<rect x="1204.17" y="724.35" width="11.53" height="51.90" fill="#EFEFEF"/>
<rect x="1216.20" y="724.35" width="11.53" height="51.90" fill="#EFEFEF"/>
<rect x="1228.23" y="724.35" width="11.53" height="51.90" fill="#EFEFEF"/>
<rect x="1240.26" y="724.35" width="11.53" height="51.90" fill="#EFEFEF"/>
<rect x="1252.29" y="724.35" width="11.53" height="51.90" fill="#EFEFEF"/>
<rect x="1264.32" y="724.35" width="11.53" height="51.90" fill="#EFEFEF"/>
<rect x="1276.35" y="724.35" width="11.53" height="51.90" fill="#EFEFEF"/>
<rect x="1288.38" y="724.35" width="11.53" height="51.90" fill="#EFEFEF"/>
<rect x="1300.41" y="724.35" width="11.53" height="51.90" fill="#EFEFEF"/>
<rect x="1312.44" y="724.35" width="11.53" height="51.90" fill="#EFEFEF"/>
<rect x="1324.47" y="724.35" width="11.53" height="51.90" fill="#EFEFEF"/>
<rect x="1336.50" y="724.35" width="11.53" height="51.90" fill="#EFEFEF"/>
<rect x="1348.53" y="724.35" width="11.53" height="51.90" fill="#EFEFEF"/>
<rect x="1360.56" y="724.35" width="11.53" height="51.90" fill="#EFEFEF"/>
<rect x="1372.59" y="724.35" width="11.53" height="51.90" fill="#EFEFEF"/>
<rect x="1384.62" y="724.35" width="11.53" height="51.90" fill="#EFEFEF"/>
<rect x="1396.65" y="724.35" width="11.53" height="51.90" fill="#EFEFEF"/>
<rect x="1408.68" y="724.35" width="11.53" height="51.90" fill="#EFEFEF"/>
<rect x="1420.71" y="724.35" width="11.53" height="51.90" fill="#EFEFEF"/>
<rect x="1432.74" y="724.35" width="11.53" height="51.90" fill="#EFEFEF"/>
<rect x="1444.77" y="724.35" width="11.53" height="51.90" fill="#EFEFEF"/>
<rect x="1456.80" y="724.35" width="11.53" height="51.90" fill="#EFEFEF"/>
<rect x="1468.83" y="724.35" width="11.53" height="51.90" fill="#EFEFEF"/>
<rect x="1480.86" y="724.35" width="11.53" height="51.90" fill="#EFEFEF"/>
<rect x="1492.89" y="724.35" width="11.53" height="51.90" fill="#EFEFEF"/>
<rect x="1504.92" y="724.35" width="11.53" height="51.90" fill="#EFEFEF"/>
<rect x="1516.95" y="724.35" width="11.53" height="51.90" fill="#EFEFEF"/>
<rect x="1528.98" y="724.35" width="11.53" height="51.90" fill="#EFEFEF"/>
<rect x="1541.01" y="724.35" width="11.53" height="51.90" fill="#EFEFEF"/>
<rect x="1553.04" y="724.35" width="11.53" height="51.90" fill="#EFEFEF"/>
<rect x="1565.07" y="724.35" width="11.53" height="51.90" fill="#EFEFEF"/>
<rect x="1577.10" y="724.35" width="11.53" height="51.90" fill="#EFEFEF"/>
<rect x="1589.13" y="724.35" width="11.53" height="51.90" fill="#EFEFEF"/>
<rect x="915.45" y="777.15" width="11.53" height="51.90" fill="#EFEFEF"/>
<rect x="927.48" y="777.15" width="11.53" height="51.90" fill="#EFEFEF"/>
<rect x="939.51" y="777.15" width="11.53" height="51.90" fill="#EFEFEF"/>
<rect x="951.54" y="777.15" width="11.53" height="51.90" fill="#EFEFEF"/>
<rect x="963.57" y="777.15" width="11.53" height="51.90" fill="#EFEFEF"/>
<rect x="975.60" y="777.15" width="11.53" height="51.90" fill="#EFEFEF"/>
<rect x="987.63" y="777.15" width="11.53" height="51.90" fill="#EFEFEF"/>
<rect x="999.66" y="777.15" width="11.53" height="51.90" fill="#EFEFEF"/>
<rect x="1011.69" y="777.15" width="11.53" height="51.90" fill="#EFEFEF"/>
<rect x="1023.72" y="777.15" width="11.53" height="51.90" fill="#EFEFEF"/>
<rect x="1035.75" y="777.15" width="11.53" height="51.90" fill="#EFEFEF"/>
<rect x="1047.78" y="777.15" width="11.53" height="51.90" fill="#EFEFEF"/>
<rect x="1059.81" y="777.15" width="11.53" height="51.90" fill="#EFEFEF"/>
<rect x="1071.84" y="777.15" width="11.53" height="51.90" fill="#EFEFEF"/>
<rect x="1083.87" y="777.15" width="11.53" height="51.90" fill="#EFEFEF"/>
<rect x="1095.90" y="777.15" width="11.53" height="51.90" fill="#EFEFEF"/>
<rect x="1107.93" y="777.15" width="11.53" height="51.90" fill="#EFEFEF"/>
<rect x="1119.96" y="777.15" width="11.53" height="51.90" fill="#EFEFEF"/>
<rect x="1131.99" y="777.15" width="11.53" height="51.90" fill="#EFEFEF"/>
<rect x="1144.02" y="777.15" width="11.53" height="51.90" fill="#EFEFEF"/>
<rect x="1156.05" y="777.15" width="11.53" height="51.90" fill="#EFEFEF"/>
<rect x="1168.08" y="777.15" width="11.53" height="51.90" fill="#EFEFEF"/>
<rect x="1180.11" y="777.15" width="11.53" height="51.90" fill="#EFEFEF"/>
<rect x="1192.14" y="777.15" width="11.53" height="51.90" fill="#EFEFEF"/>
<rect x="1204.17" y="777.15" width="11.53" height="51.90" fill="#EFEFEF"/>
<rect x="1216.20" y="777.15" width="11.53" height="51.90" fill="#EFEFEF"/>
<rect x="1228.23" y="777.15" width="11.53" height="51.90" fill="#EFEFEF"/>
<rect x="1240.26" y="777.15" width="11.53" height="51.90" fill="#EFEFEF"/>
<rect x="1252.29" y="777.15" width="11.53" height="51.90" fill="#EFEFEF"/>
<rect x="1264.32" y="777.15" width="11.53" height="51.90" fill="#EFEFEF"/>
<rect x="1276.35" y="777.15" width="11.53" height="51.90" fill="#EFEFEF"/>
<rect x="1288.38" y="777.15" width="11.53" height="51.90" fill="#EFEFEF"/>
<rect x="1300.41" y="777.15" width="11.53" height="51.90" fill="#EFEFEF"/>
<rect x="1312.44" y="777.15" width="11.53" height="51.90" fill="#EFEFEF"/>
<rect x="1324.47" y="777.15" width="11.53" height="51.90" fill="#EFEFEF"/>
<rect x="1336.50" y="777.15" width="11.53" height="51.90" fill="#EFEFEF"/>
<rect x="1348.53" y="777.15" width="11.53" height="51.90" fill="#EFEFEF"/>
<rect x="1360.56" y="777.15" width="11.53" height="51.90" fill="#EFEFEF"/>
<rect x="1372.59" y="777.15" width="11.53" height="51.90" fill="#EFEFEF"/>
<rect x="1384.62" y="777.15" width="11.53" height="51.90" fill="#EFEFEF"/>
<rect x="1396.65" y="777.15" width="11.53" height="51.90" fill="#EFEFEF"/>
<rect x="1408.68" y="777.15" width="11.53" height="51.90" fill="#EFEFEF"/>
<rect x="1420.71" y="777.15" width="11.53" height="51.90" fill="#EFEFEF"/>
<rect x="1432.74" y="777.15" width="11.53" height="51.90" fill="#EFEFEF"/>
<rect x="1444.77" y="777.15" width="11.53" height="51.90" fill="#EFEFEF"/>
<rect x="1456.80" y="777.15" width="11.53" height="51.90" fill="#EFEFEF"/>
<rect x="1468.83" y="777.15" width="11.53" height="51.90" fill="#EFEFEF"/>
<rect x="1480.86" y="777.15" width="11.53" height="51.90" fill="#EFEFEF"/>
<rect x="1492.89" y="777.15" width="11.53" height="51.90" fill="#EFEFEF"/>
<rect x="1504.92" y="777.15" width="11.53" height="51.90" fill="#EFEFEF"/>
<rect x="1516.95" y="777.15" width="11.53" height="51.90" fill="#EFEFEF"/>
<rect x="1528.98" y="777.15" width="11.53" height="51.90" fill="#EFEFEF"/>
<rect x="1541.01" y="777.15" width="11.53" height="51.90" fill="#EFEFEF"/>
<rect x="1553.04" y="777.15" width="11.53" height="51.90" fill="#EFEFEF"/>
<rect x="1565.07" y="777.15" width="11.53" height="51.90" fill="#EFEFEF"/>
<rect x="1577.10" y="777.15" width="11.53" height="51.90" fill="#EFEFEF"/>
<rect x="1589.13" y="777.15" width="11.53" height="51.90" fill="#EFEFEF"/>
<rect x="915.45" y="829.95" width="11.53" height="51.90" fill="#EFEFEF"/>
<rect x="927.48" y="829.95" width="11.53" height="51.90" fill="#EFEFEF"/>
<rect x="939.51" y="829.95" width="11.53" height="51.90" fill="#EFEFEF"/>
<rect x="951.54" y="829.95" width="11.53" height="51.90" fill="#EFEFEF"/>
<rect x="963.57" y="829.95" width="11.53" height="51.90" fill="#EFEFEF"/>
<rect x="975.60" y="829.95" width="11.53" height="51.90" fill="#EFEFEF"/>
<rect x="987.63" y="829.95" width="11.53" height="51.90" fill="#EFEFEF"/>
<rect x="999.66" y="829.95" width="11.53" height="51.90" fill="#EFEFEF"/>
<rect x="1011.69" y="829.95" width="11.53" height="51.90" fill="#EFEFEF"/>
<rect x="1023.72" y="829.95" width="11.53" height="51.90" fill="#EFEFEF"/>
<rect x="1035.75" y="829.95" width="11.53" height="51.90" fill="#EFEFEF"/>
<rect x="1047.78" y="829.95" width="11.53" height="51.90" fill="#EFEFEF"/>
<rect x="1059.81" y="829.95" width="11.53" height="51.90" fill="#EFEFEF"/>
<rect x="1071.84" y="829.95" width="11.53" height="51.90" fill="#EFEFEF"/>
<rect x="1083.87" y="829.95" width="11.53" height="51.90" fill="#EFEFEF"/>
<rect x="1095.90" y="829.95" width="11.53" height="51.90" fill="#EFEFEF"/>
<rect x="1107.93" y="829.95" width="11.53" height="51.90" fill="#EFEFEF"/>
<rect x="1119.96" y="829.95" width="11.53" height="51.90" fill="#EFEFEF"/>
<rect x="1131.99" y="829.95" width="11.53" height="51.90" fill="#EFEFEF"/>
<rect x="1144.02" y="829.95" width="11.53" height="51.90" fill="#EFEFEF"/>
<rect x="1156.05" y="829.95" width="11.53" height="51.90" fill="#EFEFEF"/>
<rect x="1168.08" y="829.95" width="11.53" height="51.90" fill="#EFEFEF"/>
<rect x="1180.11" y="829.95" width="11.53" height="51.90" fill="#EFEFEF"/>
<rect x="1192.14" y="829.95" width="11.53" height="51.90" fill="#EFEFEF"/>
<rect x="1204.17" y="829.95" width="11.53" height="51.90" fill="#EFEFEF"/>
<rect x="1216.20" y="829.95" width="11.53" height="51.90" fill="#EFEFEF"/>
<rect x="1228.23" y="829.95" width="11.53" height="51.90" fill="#EFEFEF"/>
<rect x="1240.26" y="829.95" width="11.53" height="51.90" fill="#EFEFEF"/>
<rect x="1252.29" y="829.95" width="11.53" height="51.90" fill="#EFEFEF"/>
<rect x="1264.32" y="829.95" width="11.53" height="51.90" fill="#EFEFEF"/>
<rect x="1276.35" y="829.95" width="11.53" height="51.90" fill="#EFEFEF"/>
<rect x="1288.38" y="829.95" width="11.53" height="51.90" fill="#EFEFEF"/>
<rect x="1300.41" y="829.95" width="11.53" height="51.90" fill="#EFEFEF"/>
<rect x="1312.44" y="829.95" width="11.53" height="51.90" fill="#EFEFEF"/>
<rect x="1324.47" y="829.95" width="11.53" height="51.90" fill="#EFEFEF"/>
<rect x="1336.50" y="829.95" width="11.53" height="51.90" fill="#EFEFEF"/>
<rect x="1348.53" y="829.95" width="11.53" height="51.90" fill="#EFEFEF"/>
<rect x="1360.56" y="829.95" width="11.53" height="51.90" fill="#EFEFEF"/>
<rect x="1372.59" y="829.95" width="11.53" height="51.90" fill="#EFEFEF"/>
<rect x="1384.62" y="829.95" width="11.53" height="51.90" fill="#EFEFEF"/>
<rect x="1396.65" y="829.95" width="11.53" height="51.90" fill="#EFEFEF"/>
<rect x="1408.68" y="829.95" width="11.53" height="51.90" fill="#EFEFEF"/>
<rect x="1420.71" y="829.95" width="11.53" height="51.90" fill="#EFEFEF"/>
<rect x="1432.74" y="829.95" width="11.53" height="51.90" fill="#EFEFEF"/>
<rect x="1444.77" y="829.95" width="11.53" height="51.90" fill="#EFEFEF"/>
<rect x="1456.80" y="829.95" width="11.53" height="51.90" fill="#EFEFEF"/>
<rect x="1468.83" y="829.95" width="11.53" height="51.90" fill="#EFEFEF"/>
<rect x="1480.86" y="829.95" width="11.53" height="51.90" fill="#EFEFEF"/>
<rect x="1492.89" y="829.95" width="11.53" height="51.90" fill="#EFEFEF"/>
<rect x="1504.92" y="829.95" width="11.53" height="51.90" fill="#EFEFEF"/>
<rect x="1516.95" y="829.95" width="11.53" height="51.90" fill="#EFEFEF"/>
<rect x="1528.98" y="829.95" width="11.53" height="51.90" fill="#EFEFEF"/>
<rect x="1541.01" y="829.95" width="11.53" height="51.90" fill="#EFEFEF"/>
<rect x="1553.04" y="829.95" width="11.53" height="51.90" fill="#EFEFEF"/>
<rect x="1565.07" y="829.95" width="11.53" height="51.90" fill="#EFEFEF"/>
<rect x="1577.10" y="829.95" width="11.53" height="51.90" fill="#EFEFEF"/>
<rect x="1589.13" y="829.95" width="11.53" height="51.90" fill="#EFEFEF"/>
<rect x="915.45" y="882.75" width="11.53" height="51.90" fill="#EFEFEF"/>
<rect x="927.48" y="882.75" width="11.53" height="51.90" fill="#EFEFEF"/>
<rect x="939.51" y="882.75" width="11.53" height="51.90" fill="#EFEFEF"/>
<rect x="951.54" y="882.75" width="11.53" height="51.90" fill="#EFEFEF"/>
<rect x="963.57" y="882.75" width="11.53" height="51.90" fill="#EFEFEF"/>
<rect x="975.60" y="882.75" width="11.53" height="51.90" fill="#EFEFEF"/>
<rect x="987.63" y="882.75" width="11.53" height="51.90" fill="#EFEFEF"/>
<rect x="999.66" y="882.75" width="11.53" height="51.90" fill="#EFEFEF"/>
<rect x="1011.69" y="882.75" width="11.53" height="51.90" fill="#EFEFEF"/>
<rect x="1023.72" y="882.75" width="11.53" height="51.90" fill="#EFEFEF"/>
<rect x="1035.75" y="882.75" width="11.53" height="51.90" fill="#EFEFEF"/>
<rect x="1047.78" y="882.75" width="11.53" height="51.90" fill="#EFEFEF"/>
<rect x="1059.81" y="882.75" width="11.53" height="51.90" fill="#EFEFEF"/>
<rect x="1071.84" y="882.75" width="11.53" height="51.90" fill="#EFEFEF"/>
<rect x="1083.87" y="882.75" width="11.53" height="51.90" fill="#EFEFEF"/>
<rect x="1095.90" y="882.75" width="11.53" height="51.90" fill="#EFEFEF"/>
<rect x="1107.93" y="882.75" width="11.53" height="51.90" fill="#EFEFEF"/>
<rect x="1119.96" y="882.75" width="11.53" height="51.90" fill="#EFEFEF"/>
<rect x="1131.99" y="882.75" width="11.53" height="51.90" fill="#EFEFEF"/>
<rect x="1144.02" y="882.75" width="11.53" height="51.90" fill="#EFEFEF"/>
<rect x="1156.05" y="882.75" width="11.53" height="51.90" fill="#EFEFEF"/>
<rect x="1168.08" y="882.75" width="11.53" height="51.90" fill="#EFEFEF"/>
<rect x="1180.11" y="882.75" width="11.53" height="51.90" fill="#EFEFEF"/>
<rect x="1192.14" y="882.75" width="11.53" height="51.90" fill="#EFEFEF"/>
<rect x="1204.17" y="882.75" width="11.53" height="51.90" fill="#EFEFEF"/>
<rect x="1216.20" y="882.75" width="11.53" height="51.90" fill="#EFEFEF"/>
<rect x="1228.23" y="882.75" width="11.53" height="51.90" fill="#EFEFEF"/>
<rect x="1240.26" y="882.75" width="11.53" height="51.90" fill="#EFEFEF"/>
<rect x="1252.29" y="882.75" width="11.53" height="51.90" fill="#EFEFEF"/>
<rect x="1264.32" y="882.75" width="11.53" height="51.90" fill="#EFEFEF"/>
<rect x="1276.35" y="882.75" width="11.53" height="51.90" fill="#EFEFEF"/>
<rect x="1288.38" y="882.75" width="11.53" height="51.90" fill="#EFEFEF"/>
<rect x="1300.41" y="882.75" width="11.53" height="51.90" fill="#EFEFEF"/>
<rect x="1312.44" y="882.75" width="11.53" height="51.90" fill="#EFEFEF"/>
<rect x="1324.47" y="882.75" width="11.53" height="51.90" fill="#EFEFEF"/>
<rect x="1336.50" y="882.75" width="11.53" height="51.90" fill="#EFEFEF"/>
<rect x="1348.53" y="882.75" width="11.53" height="51.90" fill="#EFEFEF"/>
<rect x="1360.56" y="882.75" width="11.53" height="51.90" fill="#EFEFEF"/>
<rect x="1372.59" y="882.75" width="11.53" height="51.90" fill="#EFEFEF"/>
<rect x="1384.62" y="882.75" width="11.53" height="51.90" fill="#EFEFEF"/>
<rect x="1396.65" y="882.75" width="11.53" height="51.90" fill="#EFEFEF"/>
<rect x="1408.68" y="882.75" width="11.53" height="51.90" fill="#EFEFEF"/>
<rect x="1420.71" y="882.75" width="11.53" height="51.90" fill="#EFEFEF"/>
<rect x="1432.74" y="882.75" width="11.53" height="51.90" fill="#EFEFEF"/>
<rect x="1444.77" y="882.75" width="11.53" height="51.90" fill="#EFEFEF"/>
<rect x="1456.80" y="882.75" width="11.53" height="51.90" fill="#EFEFEF"/>
<rect x="1468.83" y="882.75" width="11.53" height="51.90" fill="#EFEFEF"/>
<rect x="1480.86" y="882.75" width="11.53" height="51.90" fill="#EFEFEF"/>
<rect x="1492.89" y="882.75" width="11.53" height="51.90" fill="#EFEFEF"/>
<rect x="1504.92" y="882.75" width="11.53" height="51.90" fill="#EFEFEF"/>
<rect x="1516.95" y="882.75" width="11.53" height="51.90" fill="#EFEFEF"/>
<rect x="1528.98" y="882.75" width="11.53" height="51.90" fill="#EFEFEF"/>
<rect x="1541.01" y="882.75" width="11.53" height="51.90" fill="#EFEFEF"/>
<rect x="1553.04" y="882.75" width="11.53" height="51.90" fill="#EFEFEF"/>
<rect x="1565.07" y="882.75" width="11.53" height="51.90" fill="#EFEFEF"/>
<rect x="1577.10" y="882.75" width="11.53" height="51.90" fill="#EFEFEF"/>
<rect x="1589.13" y="882.75" width="11.53" height="51.90" fill="#EFEFEF"/>
<rect x="915.45" y="935.55" width="11.53" height="51.90" fill="#EFEFEF"/>
<rect x="927.48" y="935.55" width="11.53" height="51.90" fill="#EFEFEF"/>
<rect x="939.51" y="935.55" width="11.53" height="51.90" fill="#EFEFEF"/>
<rect x="951.54" y="935.55" width="11.53" height="51.90" fill="#EFEFEF"/>
<rect x="963.57" y="935.55" width="11.53" height="51.90" fill="#EFEFEF"/>
<rect x="975.60" y="935.55" width="11.53" height="51.90" fill="#EFEFEF"/>
<rect x="987.63" y="935.55" width="11.53" height="51.90" fill="#EFEFEF"/>
<rect x="999.66" y="935.55" width="11.53" height="51.90" fill="#EFEFEF"/>
<rect x="1011.69" y="935.55" width="11.53" height="51.90" fill="#EFEFEF"/>
<rect x="1023.72" y="935.55" width="11.53" height="51.90" fill="#EFEFEF"/>
<rect x="1035.75" y="935.55" width="11.53" height="51.90" fill="#EFEFEF"/>
<rect x="1047.78" y="935.55" width="11.53" height="51.90" fill="#EFEFEF"/>
<rect x="1059.81" y="935.55" width="11.53" height="51.90" fill="#EFEFEF"/>
<rect x="1071.84" y="935.55" width="11.53" height="51.90" fill="#EFEFEF"/>
<rect x="1083.87" y="935.55" width="11.53" height="51.90" fill="#EFEFEF"/>
<rect x="1095.90" y="935.55" width="11.53" height="51.90" fill="#EFEFEF"/>
<rect x="1107.93" y="935.55" width="11.53" height="51.90" fill="#EFEFEF"/>
<rect x="1119.96" y="935.55" width="11.53" height="51.90" fill="#EFEFEF"/>
<rect x="1131.99" y="935.55" width="11.53" height="51.90" fill="#EFEFEF"/>
<rect x="1144.02" y="935.55" width="11.53" height="51.90" fill="#EFEFEF"/>
<rect x="1156.05" y="935.55" width="11.53" height="51.90" fill="#EFEFEF"/>
<rect x="1168.08" y="935.55" width="11.53" height="51.90" fill="#EFEFEF"/>
<rect x="1180.11" y="935.55" width="11.53" height="51.90" fill="#EFEFEF"/>
<rect x="1192.14" y="935.55" width="11.53" height="51.90" fill="#EFEFEF"/>
<rect x="1204.17" y="935.55" width="11.53" height="51.90" fill="#EFEFEF"/>
<rect x="1216.20" y="935.55" width="11.53" height="51.90" fill="#EFEFEF"/>
<rect x="1228.23" y="935.55" width="11.53" height="51.90" fill="#EFEFEF"/>
<rect x="1240.26" y="935.55" width="11.53" height="51.90" fill="#EFEFEF"/>
<rect x="1252.29" y="935.55" width="11.53" height="51.90" fill="#EFEFEF"/>
<rect x="1264.32" y="935.55" width="11.53" height="51.90" fill="#EFEFEF"/>
<rect x="1276.35" y="935.55" width="11.53" height="51.90" fill="#EFEFEF"/>
<rect x="1288.38" y="935.55" width="11.53" height="51.90" fill="#EFEFEF"/>
<rect x="1300.41" y="935.55" width="11.53" height="51.90" fill="#EFEFEF"/>
<rect x="1312.44" y="935.55" width="11.53" height="51.90" fill="#EFEFEF"/>
<rect x="1324.47" y="935.55" width="11.53" height="51.90" fill="#EFEFEF"/>
<rect x="1336.50" y="935.55" width="11.53" height="51.90" fill="#EFEFEF"/>
<rect x="1348.53" y="935.55" width="11.53" height="51.90" fill="#EFEFEF"/>
<rect x="1360.56" y="935.55" width="11.53" height="51.90" fill="#EFEFEF"/>
<rect x="1372.59" y="935.55" width="11.53" height="51.90" fill="#EFEFEF"/>
<rect x="1384.62" y="935.55" width="11.53" height="51.90" fill="#EFEFEF"/>
<rect x="1396.65" y="935.55" width="11.53" height="51.90" fill="#EFEFEF"/>
<rect x="1408.68" y="935.55" width="11.53" height="51.90" fill="#EFEFEF"/>
<rect x="1420.71" y="935.55" width="11.53" height="51.90" fill="#EFEFEF"/>
<rect x="1432.74" y="935.55" width="11.53" height="51.90" fill="#EFEFEF"/>
<rect x="1444.77" y="935.55" width="11.53" height="51.90" fill="#EFEFEF"/>
<rect x="1456.80" y="935.55" width="11.53" height="51.90" fill="#EFEFEF"/>
<rect x="1468.83" y="935.55" width="11.53" height="51.90" fill="#EFEFEF"/>
<rect x="1480.86" y="935.55" width="11.53" height="51.90" fill="#EFEFEF"/>
<rect x="1492.89" y="935.55" width="11.53" height="51.90" fill="#EFEFEF"/>
<rect x="1504.92" y="935.55" width="11.53" height="51.90" fill="#EFEFEF"/>
<rect x="1516.95" y="935.55" width="11.53" height="51.90" fill="#EFEFEF"/>
<rect x="1528.98" y="935.55" width="11.53" height="51.90" fill="#EFEFEF"/>
<rect x="1541.01" y="935.55" width="11.53" height="51.90" fill="#EFEFEF"/>
<rect x="1553.04" y="935.55" width="11.53" height="51.90" fill="#EFEFEF"/>
<rect x="1565.07" y="935.55" width="11.53" height="51.90" fill="#EFEFEF"/>
<rect x="1577.10" y="935.55" width="11.53" height="51.90" fill="#EFEFEF"/>
<rect x="1589.13" y="935.55" width="11.53" height="51.90" fill="#EFEFEF"/>
<rect x="915.45" y="988.35" width="11.53" height="51.90" fill="#EFEFEF"/>
<rect x="927.48" y="988.35" width="11.53" height="51.90" fill="#EFEFEF"/>
<rect x="939.51" y="988.35" width="11.53" height="51.90" fill="#EFEFEF"/>
<rect x="951.54" y="988.35" width="11.53" height="51.90" fill="#EFEFEF"/>
<rect x="963.57" y="988.35" width="11.53" height="51.90" fill="#EFEFEF"/>
<rect x="975.60" y="988.35" width="11.53" height="51.90" fill="#EFEFEF"/>
<rect x="987.63" y="988.35" width="11.53" height="51.90" fill="#EFEFEF"/>
<rect x="999.66" y="988.35" width="11.53" height="51.90" fill="#EFEFEF"/>
<rect x="1011.69" y="988.35" width="11.53" height="51.90" fill="#EFEFEF"/>
<rect x="1023.72" y="988.35" width="11.53" height="51.90" fill="#EFEFEF"/>
<rect x="1035.75" y="988.35" width="11.53" height="51.90" fill="#EFEFEF"/>
<rect x="1047.78" y="988.35" width="11.53" height="51.90" fill="#EFEFEF"/>
<rect x="1059.81" y="988.35" width="11.53" height="51.90" fill="#EFEFEF"/>
<rect x="1071.84" y="988.35" width="11.53" height="51.90" fill="#EFEFEF"/>
<rect x="1083.87" y="988.35" width="11.53" height="51.90" fill="#EFEFEF"/>
<rect x="1095.90" y="988.35" width="11.53" height="51.90" fill="#EFEFEF"/>
<rect x="1107.93" y="988.35" width="11.53" height="51.90" fill="#EFEFEF"/>
<rect x="1119.96" y="988.35" width="11.53" height="51.90" fill="#EFEFEF"/>
<rect x="1131.99" y="988.35" width="11.53" height="51.90" fill="#EFEFEF"/>
<rect x="1144.02" y="988.35" width="11.53" height="51.90" fill="#EFEFEF"/>
<rect x="1156.05" y="988.35" width="11.53" height="51.90" fill="#EFEFEF"/>
<rect x="1168.08" y="988.35" width="11.53" height="51.90" fill="#EFEFEF"/>
<rect x="1180.11" y="988.35" width="11.53" height="51.90" fill="#EFEFEF"/>
<rect x="1192.14" y="988.35" width="11.53" height="51.90" fill="#EFEFEF"/>
<rect x="1204.17" y="988.35" width="11.53" height="51.90" fill="#EFEFEF"/>
<rect x="1216.20" y="988.35" width="11.53" height="51.90" fill="#EFEFEF"/>
<rect x="1228.23" y="988.35" width="11.53" height="51.90" fill="#EFEFEF"/>
<rect x="1240.26" y="988.35" width="11.53" height="51.90" fill="#EFEFEF"/>
<rect x="1252.29" y="988.35" width="11.53" height="51.90" fill="#EFEFEF"/>
<rect x="1264.32" y="988.35" width="11.53" height="51.90" fill="#EFEFEF"/>
<rect x="1276.35" y="988.35" width="11.53" height="51.90" fill="#EFEFEF"/>
<rect x="1288.38" y="988.35" width="11.53" height="51.90" fill="#EFEFEF"/>
<rect x="1300.41" y="988.35" width="11.53" height="51.90" fill="#EFEFEF"/>
<rect x="1312.44" y="988.35" width="11.53" height="51.90" fill="#EFEFEF"/>
<rect x="1324.47" y="988.35" width="11.53" height="51.90" fill="#EFEFEF"/>
<rect x="1336.50" y="988.35" width="11.53" height="51.90" fill="#EFEFEF"/>
<rect x="1348.53" y="988.35" width="11.53" height="51.90" fill="#EFEFEF"/>
<rect x="1360.56" y="988.35" width="11.53" height="51.90" fill="#EFEFEF"/>
<rect x="1372.59" y="988.35" width="11.53" height="51.90" fill="#EFEFEF"/>
<rect x="1384.62" y="988.35" width="11.53" height="51.90" fill="#EFEFEF"/>
<rect x="1396.65" y="988.35" width="11.53" height="51.90" fill="#EFEFEF"/>
<rect x="1408.68" y="988.35" width="11.53" height="51.90" fill="#EFEFEF"/>
<rect x="1420.71" y="988.35" width="11.53" height="51.90" fill="#EFEFEF"/>
<rect x="1432.74" y="988.35" width="11.53" height="51.90" fill="#EFEFEF"/>
<rect x="1444.77" y="988.35" width="11.53" height="51.90" fill="#EFEFEF"/>
<rect x="1456.80" y="988.35" width="11.53" height="51.90" fill="#EFEFEF"/>
<rect x="1468.83" y="988.35" width="11.53" height="51.90" fill="#EFEFEF"/>
<rect x="1480.86" y="988.35" width="11.53" height="51.90" fill="#EFEFEF"/>
<rect x="1492.89" y="988.35" width="11.53" height="51.90" fill="#EFEFEF"/>
<rect x="1504.92" y="988.35" width="11.53" height="51.90" fill="#EFEFEF"/>
<rect x="1516.95" y="988.35" width="11.53" height="51.90" fill="#EFEFEF"/>
<rect x="1528.98" y="988.35" width="11.53" height="51.90" fill="#EFEFEF"/>
<rect x="1541.01" y="988.35" width="11.53" height="51.90" fill="#EFEFEF"/>
<rect x="1553.04" y="988.35" width="11.53" height="51.90" fill="#EFEFEF"/>
<rect x="1565.07" y="988.35" width="11.53" height="51.90" fill="#EFEFEF"/>
<rect x="1577.10" y="988.35" width="11.53" height="51.90" fill="#EFEFEF"/>
<rect x="1589.13" y="988.35" width="11.53" height="51.90" fill="#EFEFEF"/>
<rect x="915.45" y="1041.15" width="11.53" height="51.90" fill="#EFEFEF"/>
<rect x="927.48" y="1041.15" width="11.53" height="51.90" fill="#EFEFEF"/>
<rect x="939.51" y="1041.15" width="11.53" height="51.90" fill="#EFEFEF"/>
<rect x="951.54" y="1041.15" width="11.53" height="51.90" fill="#EFEFEF"/>
<rect x="963.57" y="1041.15" width="11.53" height="51.90" fill="#EFEFEF"/>
<rect x="975.60" y="1041.15" width="11.53" height="51.90" fill="#EFEFEF"/>
<rect x="987.63" y="1041.15" width="11.53" height="51.90" fill="#EFEFEF"/>
<rect x="999.66" y="1041.15" width="11.53" height="51.90" fill="#EFEFEF"/>
<rect x="1011.69" y="1041.15" width="11.53" height="51.90" fill="#EFEFEF"/>
<rect x="1023.72" y="1041.15" width="11.53" height="51.90" fill="#EFEFEF"/>
<rect x="1035.75" y="1041.15" width="11.53" height="51.90" fill="#EFEFEF"/>
<rect x="1047.78" y="1041.15" width="11.53" height="51.90" fill="#EFEFEF"/>
<rect x="1059.81" y="1041.15" width="11.53" height="51.90" fill="#EFEFEF"/>
<rect x="1071.84" y="1041.15" width="11.53" height="51.90" fill="#EFEFEF"/>
<rect x="1083.87" y="1041.15" width="11.53" height="51.90" fill="#EFEFEF"/>
<rect x="1095.90" y="1041.15" width="11.53" height="51.90" fill="#EFEFEF"/>
<rect x="1107.93" y="1041.15" width="11.53" height="51.90" fill="#EFEFEF"/>
<rect x="1119.96" y="1041.15" width="11.53" height="51.90" fill="#EFEFEF"/>
<rect x="1131.99" y="1041.15" width="11.53" height="51.90" fill="#EFEFEF"/>
<rect x="1144.02" y="1041.15" width="11.53" height="51.90" fill="#EFEFEF"/>
<rect x="1156.05" y="1041.15" width="11.53" height="51.90" fill="#EFEFEF"/>
<rect x="1168.08" y="1041.15" width="11.53" height="51.90" fill="#EFEFEF"/>
<rect x="1180.11" y="1041.15" width="11.53" height="51.90" fill="#EFEFEF"/>
<rect x="1192.14" y="1041.15" width="11.53" height="51.90" fill="#EFEFEF"/>
<rect x="1204.17" y="1041.15" width="11.53" height="51.90" fill="#EFEFEF"/>
<rect x="1216.20" y="1041.15" width="11.53" height="51.90" fill="#EFEFEF"/>
<rect x="1228.23" y="1041.15" width="11.53" height="51.90" fill="#EFEFEF"/>
<rect x="1240.26" y="1041.15" width="11.53" height="51.90" fill="#EFEFEF"/>
<rect x="1252.29" y="1041.15" width="11.53" height="51.90" fill="#EFEFEF"/>
<rect x="1264.32" y="1041.15" width="11.53" height="51.90" fill="#EFEFEF"/>
<rect x="1276.35" y="1041.15" width="11.53" height="51.90" fill="#EFEFEF"/>
<rect x="1288.38" y="1041.15" width="11.53" height="51.90" fill="#EFEFEF"/>
<rect x="1300.41" y="1041.15" width="11.53" height="51.90" fill="#EFEFEF"/>
<rect x="1312.44" y="1041.15" width="11.53" height="51.90" fill="#EFEFEF"/>
<rect x="1324.47" y="1041.15" width="11.53" height="51.90" fill="#EFEFEF"/>
<rect x="1336.50" y="1041.15" width="11.53" height="51.90" fill="#EFEFEF"/>
<rect x="1348.53" y="1041.15" width="11.53" height="51.90" fill="#EFEFEF"/>
<rect x="1360.56" y="1041.15" width="11.53" height="51.90" fill="#EFEFEF"/>
<rect x="1372.59" y="1041.15" width="11.53" height="51.90" fill="#EFEFEF"/>
<rect x="1384.62" y="1041.15" width="11.53" height="51.90" fill="#EFEFEF"/>
<rect x="1396.65" y="1041.15" width="11.53" height="51.90" fill="#EFEFEF"/>
<rect x="1408.68" y="1041.15" width="11.53" height="51.90" fill="#EFEFEF"/>
<rect x="1420.71" y="1041.15" width="11.53" height="51.90" fill="#EFEFEF"/>
<rect x="1432.74" y="1041.15" width="11.53" height="51.90" fill="#EFEFEF"/>
<rect x="1444.77" y="1041.15" width="11.53" height="51.90" fill="#EFEFEF"/>
<rect x="1456.80" y="1041.15" width="11.53" height="51.90" fill="#EFEFEF"/>
<rect x="1468.83" y="1041.15" width="11.53" height="51.90" fill="#EFEFEF"/>
<rect x="1480.86" y="1041.15" width="11.53" height="51.90" fill="#EFEFEF"/>
<rect x="1492.89" y="1041.15" width="11.53" height="51.90" fill="#EFEFEF"/>
<rect x="1504.92" y="1041.15" width="11.53" height="51.90" fill="#EFEFEF"/>
<rect x="1516.95" y="1041.15" width="11.53" height="51.90" fill="#EFEFEF"/>
<rect x="1528.98" y="1041.15" width="11.53" height="51.90" fill="#EFEFEF"/>
<rect x="1541.01" y="1041.15" width="11.53" height="51.90" fill="#EFEFEF"/>
<rect x="1553.04" y="1041.15" width="11.53" height="51.90" fill="#EFEFEF"/>
<rect x="1565.07" y="1041.15" width="11.53" height="51.90" fill="#EFEFEF"/>
<rect x="1577.10" y="1041.15" width="11.53" height="51.90" fill="#EFEFEF"/>
<rect x="1589.13" y="1041.15" width="11.53" height="51.90" fill="#EFEFEF"/>
<rect x="915.45" y="1093.95" width="11.53" height="51.90" fill="#EFEFEF"/>
<rect x="927.48" y="1093.95" width="11.53" height="51.90" fill="#EFEFEF"/>
<rect x="939.51" y="1093.95" width="11.53" height="51.90" fill="#EFEFEF"/>
<rect x="951.54" y="1093.95" width="11.53" height="51.90" fill="#EFEFEF"/>
<rect x="963.57" y="1093.95" width="11.53" height="51.90" fill="#EFEFEF"/>
<rect x="975.60" y="1093.95" width="11.53" height="51.90" fill="#EFEFEF"/>
<rect x="987.63" y="1093.95" width="11.53" height="51.90" fill="#EFEFEF"/>
<rect x="999.66" y="1093.95" width="11.53" height="51.90" fill="#EFEFEF"/>
<rect x="1011.69" y="1093.95" width="11.53" height="51.90" fill="#EFEFEF"/>
<rect x="1023.72" y="1093.95" width="11.53" height="51.90" fill="#EFEFEF"/>
<rect x="1035.75" y="1093.95" width="11.53" height="51.90" fill="#EFEFEF"/>
<rect x="1047.78" y="1093.95" width="11.53" height="51.90" fill="#EFEFEF"/>
<rect x="1059.81" y="1093.95" width="11.53" height="51.90" fill="#EFEFEF"/>
<rect x="1071.84" y="1093.95" width="11.53" height="51.90" fill="#EFEFEF"/>
<rect x="1083.87" y="1093.95" width="11.53" height="51.90" fill="#EFEFEF"/>
<rect x="1095.90" y="1093.95" width="11.53" height="51.90" fill="#EFEFEF"/>
<rect x="1107.93" y="1093.95" width="11.53" height="51.90" fill="#EFEFEF"/>
<rect x="1119.96" y="1093.95" width="11.53" height="51.90" fill="#EFEFEF"/>
<rect x="1131.99" y="1093.95" width="11.53" height="51.90" fill="#EFEFEF"/>
<rect x="1144.02" y="1093.95" width="11.53" height="51.90" fill="#EFEFEF"/>
<rect x="1156.05" y="1093.95" width="11.53" height="51.90" fill="#EFEFEF"/>
<rect x="1168.08" y="1093.95" width="11.53" height="51.90" fill="#EFEFEF"/>
<rect x="1180.11" y="1093.95" width="11.53" height="51.90" fill="#EFEFEF"/>
<rect x="1192.14" y="1093.95" width="11.53" height="51.90" fill="#EFEFEF"/>
<rect x="1204.17" y="1093.95" width="11.53" height="51.90" fill="#EFEFEF"/>
<rect x="1216.20" y="1093.95" width="11.53" height="51.90" fill="#EFEFEF"/>
<rect x="1228.23" y="1093.95" width="11.53" height="51.90" fill="#EFEFEF"/>
<rect x="1240.26" y="1093.95" width="11.53" height="51.90" fill="#EFEFEF"/>
<rect x="1252.29" y="1093.95" width="11.53" height="51.90" fill="#EFEFEF"/>
<rect x="1264.32" y="1093.95" width="11.53" height="51.90" fill="#EFEFEF"/>
<rect x="1276.35" y="1093.95" width="11.53" height="51.90" fill="#EFEFEF"/>
<rect x="1288.38" y="1093.95" width="11.53" height="51.90" fill="#EFEFEF"/>
<rect x="1300.41" y="1093.95" width="11.53" height="51.90" fill="#EFEFEF"/>
<rect x="1312.44" y="1093.95" width="11.53" height="51.90" fill="#EFEFEF"/>
<rect x="1324.47" y="1093.95" width="11.53" height="51.90" fill="#EFEFEF"/>
<rect x="1336.50" y="1093.95" width="11.53" height="51.90" fill="#EFEFEF"/>
<rect x="1348.53" y="1093.95" width="11.53" height="51.90" fill="#EFEFEF"/>
<rect x="1360.56" y="1093.95" width="11.53" height="51.90" fill="#EFEFEF"/>
<rect x="1372.59" y="1093.95" width="11.53" height="51.90" fill="#EFEFEF"/>
<rect x="1384.62" y="1093.95" width="11.53" height="51.90" fill="#EFEFEF"/>
<rect x="1396.65" y="1093.95" width="11.53" height="51.90" fill="#EFEFEF"/>
<rect x="1408.68" y="1093.95" width="11.53" height="51.90" fill="#EFEFEF"/>
<rect x="1420.71" y="1093.95" width="11.53" height="51.90" fill="#EFEFEF"/>
<rect x="1432.74" y="1093.95" width="11.53" height="51.90" fill="#EFEFEF"/>
<rect x="1444.77" y="1093.95" width="11.53" height="51.90" fill="#EFEFEF"/>
<rect x="1456.80" y="1093.95" width="11.53" height="51.90" fill="#EFEFEF"/>
<rect x="1468.83" y="1093.95" width="11.53" height="51.90" fill="#EFEFEF"/>
<rect x="1480.86" y="1093.95" width="11.53" height="51.90" fill="#EFEFEF"/>
<rect x="1492.89" y="1093.95" width="11.53" height="51.90" fill="#EFEFEF"/>
<rect x="1504.92" y="1093.95" width="11.53" height="51.90" fill="#EFEFEF"/>
<rect x="1516.95" y="1093.95" width="11.53" height="51.90" fill="#EFEFEF"/>
<rect x="1528.98" y="1093.95" width="11.53" height="51.90" fill="#EFEFEF"/>
<rect x="1541.01" y="1093.95" width="11.53" height="51.90" fill="#EFEFEF"/>
<rect x="1553.04" y="1093.95" width="11.53" height="51.90" fill="#EFEFEF"/>
<rect x="1565.07" y="1093.95" width="11.53" height="51.90" fill="#EFEFEF"/>
<rect x="1577.10" y="1093.95" width="11.53" height="51.90" fill="#EFEFEF"/>
<rect x="1589.13" y="1093.95" width="11.53" height="51.90" fill="#EFEFEF"/>
<rect x="915.45" y="1146.75" width="11.53" height="51.90" fill="#EFEFEF"/>
<rect x="927.48" y="1146.75" width="11.53" height="51.90" fill="#EFEFEF"/>
<rect x="939.51" y="1146.75" width="11.53" height="51.90" fill="#EFEFEF"/>
<rect x="951.54" y="1146.75" width="11.53" height="51.90" fill="#EFEFEF"/>
<rect x="963.57" y="1146.75" width="11.53" height="51.90" fill="#EFEFEF"/>
<rect x="975.60" y="1146.75" width="11.53" height="51.90" fill="#EFEFEF"/>
<rect x="987.63" y="1146.75" width="11.53" height="51.90" fill="#EFEFEF"/>
<rect x="999.66" y="1146.75" width="11.53" height="51.90" fill="#EFEFEF"/>
<rect x="1011.69" y="1146.75" width="11.53" height="51.90" fill="#EFEFEF"/>
<rect x="1023.72" y="1146.75" width="11.53" height="51.90" fill="#EFEFEF"/>
<rect x="1035.75" y="1146.75" width="11.53" height="51.90" fill="#EFEFEF"/>
<rect x="1047.78" y="1146.75" width="11.53" height="51.90" fill="#EFEFEF"/>
<rect x="1059.81" y="1146.75" width="11.53" height="51.90" fill="#EFEFEF"/>
<rect x="1071.84" y="1146.75" width="11.53" height="51.90" fill="#EFEFEF"/>
<rect x="1083.87" y="1146.75" width="11.53" height="51.90" fill="#EFEFEF"/>
<rect x="1095.90" y="1146.75" width="11.53" height="51.90" fill="#EFEFEF"/>
<rect x="1107.93" y="1146.75" width="11.53" height="51.90" fill="#EFEFEF"/>
<rect x="1119.96" y="1146.75" width="11.53" height="51.90" fill="#EFEFEF"/>
<rect x="1131.99" y="1146.75" width="11.53" height="51.90" fill="#EFEFEF"/>
<rect x="1144.02" y="1146.75" width="11.53" height="51.90" fill="#EFEFEF"/>
<rect x="1156.05" y="1146.75" width="11.53" height="51.90" fill="#EFEFEF"/>
<rect x="1168.08" y="1146.75" width="11.53" height="51.90" fill="#EFEFEF"/>
<rect x="1180.11" y="1146.75" width="11.53" height="51.90" fill="#EFEFEF"/>
<rect x="1192.14" y="1146.75" width="11.53" height="51.90" fill="#EFEFEF"/>
<rect x="1204.17" y="1146.75" width="11.53" height="51.90" fill="#EFEFEF"/>
<rect x="1216.20" y="1146.75" width="11.53" height="51.90" fill="#EFEFEF"/>
<rect x="1228.23" y="1146.75" width="11.53" height="51.90" fill="#EFEFEF"/>
<rect x="1240.26" y="1146.75" width="11.53" height="51.90" fill="#EFEFEF"/>
<rect x="1252.29" y="1146.75" width="11.53" height="51.90" fill="#EFEFEF"/>
<rect x="1264.32" y="1146.75" width="11.53" height="51.90" fill="#EFEFEF"/>
<rect x="1276.35" y="1146.75" width="11.53" height="51.90" fill="#EFEFEF"/>
<rect x="1288.38" y="1146.75" width="11.53" height="51.90" fill="#EFEFEF"/>
<rect x="1300.41" y="1146.75" width="11.53" height="51.90" fill="#EFEFEF"/>
<rect x="1312.44" y="1146.75" width="11.53" height="51.90" fill="#EFEFEF"/>
<rect x="1324.47" y="1146.75" width="11.53" height="51.90" fill="#EFEFEF"/>
<rect x="1336.50" y="1146.75" width="11.53" height="51.90" fill="#EFEFEF"/>
<rect x="1348.53" y="1146.75" width="11.53" height="51.90" fill="#EFEFEF"/>
<rect x="1360.56" y="1146.75" width="11.53" height="51.90" fill="#EFEFEF"/>
<rect x="1372.59" y="1146.75" width="11.53" height="51.90" fill="#EFEFEF"/>
<rect x="1384.62" y="1146.75" width="11.53" height="51.90" fill="#EFEFEF"/>
<rect x="1396.65" y="1146.75" width="11.53" height="51.90" fill="#EFEFEF"/>
<rect x="1408.68" y="1146.75" width="11.53" height="51.90" fill="#EFEFEF"/>
<rect x="1420.71" y="1146.75" width="11.53" height="51.90" fill="#EFEFEF"/>
<rect x="1432.74" y="1146.75" width="11.53" height="51.90" fill="#EFEFEF"/>
<rect x="1444.77" y="1146.75" width="11.53" height="51.90" fill="#EFEFEF"/>
<rect x="1456.80" y="1146.75" width="11.53" height="51.90" fill="#EFEFEF"/>
<rect x="1468.83" y="1146.75" width="11.53" height="51.90" fill="#EFEFEF"/>
<rect x="1480.86" y="1146.75" width="11.53" height="51.90" fill="#EFEFEF"/>
<rect x="1492.89" y="1146.75" width="11.53" height="51.90" fill="#EFEFEF"/>
<rect x="1504.92" y="1146.75" width="11.53" height="51.90" fill="#EFEFEF"/>
<rect x="1516.95" y="1146.75" width="11.53" height="51.90" fill="#EFEFEF"/>
<rect x="1528.98" y="1146.75" width="11.53" height="51.90" fill="#EFEFEF"/>
<rect x="1541.01" y="1146.75" width="11.53" height="51.90" fill="#EFEFEF"/>
<rect x="1553.04" y="1146.75" width="11.53" height="51.90" fill="#EFEFEF"/>
<rect x="1565.07" y="1146.75" width="11.53" height="51.90" fill="#EFEFEF"/>
<rect x="1577.10" y="1146.75" width="11.53" height="51.90" fill="#EFEFEF"/>
<rect x="1589.13" y="1146.75" width="11.53" height="51.90" fill="#EFEFEF"/>
<rect x="915.45" y="1199.55" width="11.53" height="51.90" fill="#EFEFEF"/>
<rect x="927.48" y="1199.55" width="11.53" height="51.90" fill="#EFEFEF"/>
<rect x="939.51" y="1199.55" width="11.53" height="51.90" fill="#EFEFEF"/>
<rect x="951.54" y="1199.55" width="11.53" height="51.90" fill="#EFEFEF"/>
<rect x="963.57" y="1199.55" width="11.53" height="51.90" fill="#EFEFEF"/>
<rect x="975.60" y="1199.55" width="11.53" height="51.90" fill="#EFEFEF"/>
<rect x="987.63" y="1199.55" width="11.53" height="51.90" fill="#EFEFEF"/>
<rect x="999.66" y="1199.55" width="11.53" height="51.90" fill="#EFEFEF"/>
<rect x="1011.69" y="1199.55" width="11.53" height="51.90" fill="#EFEFEF"/>
<rect x="1023.72" y="1199.55" width="11.53" height="51.90" fill="#EFEFEF"/>
<rect x="1035.75" y="1199.55" width="11.53" height="51.90" fill="#EFEFEF"/>
<rect x="1047.78" y="1199.55" width="11.53" height="51.90" fill="#EFEFEF"/>
<rect x="1059.81" y="1199.55" width="11.53" height="51.90" fill="#EFEFEF"/>
<rect x="1071.84" y="1199.55" width="11.53" height="51.90" fill="#EFEFEF"/>
<rect x="1083.87" y="1199.55" width="11.53" height="51.90" fill="#EFEFEF"/>
<rect x="1095.90" y="1199.55" width="11.53" height="51.90" fill="#EFEFEF"/>
<rect x="1107.93" y="1199.55" width="11.53" height="51.90" fill="#EFEFEF"/>
<rect x="1119.96" y="1199.55" width="11.53" height="51.90" fill="#EFEFEF"/>
<rect x="1131.99" y="1199.55" width="11.53" height="51.90" fill="#EFEFEF"/>
<rect x="1144.02" y="1199.55" width="11.53" height="51.90" fill="#EFEFEF"/>
<rect x="1156.05" y="1199.55" width="11.53" height="51.90" fill="#EFEFEF"/>
<rect x="1168.08" y="1199.55" width="11.53" height="51.90" fill="#EFEFEF"/>
<rect x="1180.11" y="1199.55" width="11.53" height="51.90" fill="#EFEFEF"/>
<rect x="1192.14" y="1199.55" width="11.53" height="51.90" fill="#EFEFEF"/>
<rect x="1204.17" y="1199.55" width="11.53" height="51.90" fill="#EFEFEF"/>
<rect x="1216.20" y="1199.55" width="11.53" height="51.90" fill="#EFEFEF"/>
<rect x="1228.23" y="1199.55" width="11.53" height="51.90" fill="#EFEFEF"/>
<rect x="1240.26" y="1199.55" width="11.53" height="51.90" fill="#EFEFEF"/>
<rect x="1252.29" y="1199.55" width="11.53" height="51.90" fill="#EFEFEF"/>
<rect x="1264.32" y="1199.55" width="11.53" height="51.90" fill="#EFEFEF"/>
<rect x="1276.35" y="1199.55" width="11.53" height="51.90" fill="#EFEFEF"/>
<rect x="1288.38" y="1199.55" width="11.53" height="51.90" fill="#EFEFEF"/>
<rect x="1300.41" y="1199.55" width="11.53" height="51.90" fill="#EFEFEF"/>
<rect x="1312.44" y="1199.55" width="11.53" height="51.90" fill="#EFEFEF"/>
<rect x="1324.47" y="1199.55" width="11.53" height="51.90" fill="#EFEFEF"/>
<rect x="1336.50" y="1199.55" width="11.53" height="51.90" fill="#EFEFEF"/>
<rect x="1348.53" y="1199.55" width="11.53" height="51.90" fill="#EFEFEF"/>
<rect x="1360.56" y="1199.55" width="11.53" height="51.90" fill="#EFEFEF"/>
<rect x="1372.59" y="1199.55" width="11.53" height="51.90" fill="#EFEFEF"/>
<rect x="1384.62" y="1199.55" width="11.53" height="51.90" fill="#EFEFEF"/>
<rect x="1396.65" y="1199.55" width="11.53" height="51.90" fill="#EFEFEF"/>
<rect x="1408.68" y="1199.55" width="11.53" height="51.90" fill="#EFEFEF"/>
<rect x="1420.71" y="1199.55" width="11.53" height="51.90" fill="#EFEFEF"/>
<rect x="1432.74" y="1199.55" width="11.53" height="51.90" fill="#EFEFEF"/>
<rect x="1444.77" y="1199.55" width="11.53" height="51.90" fill="#EFEFEF"/>
<rect x="1456.80" y="1199.55" width="11.53" height="51.90" fill="#EFEFEF"/>
<rect x="1468.83" y="1199.55" width="11.53" height="51.90" fill="#EFEFEF"/>
<rect x="1480.86" y="1199.55" width="11.53" height="51.90" fill="#EFEFEF"/>
<rect x="1492.89" y="1199.55" width="11.53" height="51.90" fill="#EFEFEF"/>
<rect x="1504.92" y="1199.55" width="11.53" height="51.90" fill="#EFEFEF"/>
<rect x="1516.95" y="1199.55" width="11.53" height="51.90" fill="#EFEFEF"/>
<rect x="1528.98" y="1199.55" width="11.53" height="51.90" fill="#EFEFEF"/>
<rect x="1541.01" y="1199.55" width="11.53" height="51.90" fill="#EFEFEF"/>
<rect x="1553.04" y="1199.55" width="11.53" height="51.90" fill="#EFEFEF"/>
<rect x="1565.07" y="1199.55" width="11.53" height="51.90" fill="#EFEFEF"/>
<rect x="1577.10" y="1199.55" width="11.53" height="51.90" fill="#EFEFEF"/>
<rect x="1589.13" y="1199.55" width="11.53" height="51.90" fill="#EFEFEF"/>
<rect x="915.45" y="1252.35" width="11.53" height="51.90" fill="#EFEFEF"/>
<rect x="927.48" y="1252.35" width="11.53" height="51.90" fill="#EFEFEF"/>
<rect x="939.51" y="1252.35" width="11.53" height="51.90" fill="#EFEFEF"/>
<rect x="951.54" y="1252.35" width="11.53" height="51.90" fill="#EFEFEF"/>
<rect x="963.57" y="1252.35" width="11.53" height="51.90" fill="#EFEFEF"/>
<rect x="975.60" y="1252.35" width="11.53" height="51.90" fill="#EFEFEF"/>
<rect x="987.63" y="1252.35" width="11.53" height="51.90" fill="#EFEFEF"/>
<rect x="999.66" y="1252.35" width="11.53" height="51.90" fill="#EFEFEF"/>
<rect x="1011.69" y="1252.35" width="11.53" height="51.90" fill="#EFEFEF"/>
<rect x="1023.72" y="1252.35" width="11.53" height="51.90" fill="#EFEFEF"/>
<rect x="1035.75" y="1252.35" width="11.53" height="51.90" fill="#EFEFEF"/>
<rect x="1047.78" y="1252.35" width="11.53" height="51.90" fill="#EFEFEF"/>
<rect x="1059.81" y="1252.35" width="11.53" height="51.90" fill="#EFEFEF"/>
<rect x="1071.84" y="1252.35" width="11.53" height="51.90" fill="#EFEFEF"/>
<rect x="1083.87" y="1252.35" width="11.53" height="51.90" fill="#EFEFEF"/>
<rect x="1095.90" y="1252.35" width="11.53" height="51.90" fill="#EFEFEF"/>
<rect x="1107.93" y="1252.35" width="11.53" height="51.90" fill="#EFEFEF"/>
<rect x="1119.96" y="1252.35" width="11.53" height="51.90" fill="#EFEFEF"/>
<rect x="1131.99" y="1252.35" width="11.53" height="51.90" fill="#EFEFEF"/>
<rect x="1144.02" y="1252.35" width="11.53" height="51.90" fill="#EFEFEF"/>
<rect x="1156.05" y="1252.35" width="11.53" height="51.90" fill="#EFEFEF"/>
<rect x="1168.08" y="1252.35" width="11.53" height="51.90" fill="#EFEFEF"/>
<rect x="1180.11" y="1252.35" width="11.53" height="51.90" fill="#EFEFEF"/>
<rect x="1192.14" y="1252.35" width="11.53" height="51.90" fill="#EFEFEF"/>
<rect x="1204.17" y="1252.35" width="11.53" height="51.90" fill="#EFEFEF"/>
<rect x="1216.20" y="1252.35" width="11.53" height="51.90" fill="#EFEFEF"/>
<rect x="1228.23" y="1252.35" width="11.53" height="51.90" fill="#EFEFEF"/>
<rect x="1240.26" y="1252.35" width="11.53" height="51.90" fill="#EFEFEF"/>
<rect x="1252.29" y="1252.35" width="11.53" height="51.90" fill="#EFEFEF"/>
<rect x="1264.32" y="1252.35" width="11.53" height="51.90" fill="#EFEFEF"/>
<rect x="1276.35" y="1252.35" width="11.53" height="51.90" fill="#EFEFEF"/>
<rect x="1288.38" y="1252.35" width="11.53" height="51.90" fill="#EFEFEF"/>
<rect x="1300.41" y="1252.35" width="11.53" height="51.90" fill="#EFEFEF"/>
<rect x="1312.44" y="1252.35" width="11.53" height="51.90" fill="#EFEFEF"/>
<rect x="1324.47" y="1252.35" width="11.53" height="51.90" fill="#EFEFEF"/>
<rect x="1336.50" y="1252.35" width="11.53" height="51.90" fill="#EFEFEF"/>
<rect x="1348.53" y="1252.35" width="11.53" height="51.90" fill="#EFEFEF"/>
<rect x="1360.56" y="1252.35" width="11.53" height="51.90" fill="#EFEFEF"/>
<rect x="1372.59" y="1252.35" width="11.53" height="51.90" fill="#EFEFEF"/>
<rect x="1384.62" y="1252.35" width="11.53" height="51.90" fill="#EFEFEF"/>
<rect x="1396.65" y="1252.35" width="11.53" height="51.90" fill="#EFEFEF"/>
<rect x="1408.68" y="1252.35" width="11.53" height="51.90" fill="#EFEFEF"/>
<rect x="1420.71" y="1252.35" width="11.53" height="51.90" fill="#EFEFEF"/>
<rect x="1432.74" y="1252.35" width="11.53" height="51.90" fill="#EFEFEF"/>
<rect x="1444.77" y="1252.35" width="11.53" height="51.90" fill="#EFEFEF"/>
<rect x="1456.80" y="1252.35" width="11.53" height="51.90" fill="#EFEFEF"/>
<rect x="1468.83" y="1252.35" width="11.53" height="51.90" fill="#EFEFEF"/>
<rect x="1480.86" y="1252.35" width="11.53" height="51.90" fill="#EFEFEF"/>
<rect x="1492.89" y="1252.35" width="11.53" height="51.90" fill="#EFEFEF"/>
<rect x="1504.92" y="1252.35" width="11.53" height="51.90" fill="#EFEFEF"/>
<rect x="1516.95" y="1252.35" width="11.53" height="51.90" fill="#EFEFEF"/>
<rect x="1528.98" y="1252.35" width="11.53" height="51.90" fill="#EFEFEF"/>
<rect x="1541.01" y="1252.35" width="11.53" height="51.90" fill="#EFEFEF"/>
<rect x="1553.04" y="1252.35" width="11.53" height="51.90" fill="#EFEFEF"/>
<rect x="1565.07" y="1252.35" width="11.53" height="51.90" fill="#EFEFEF"/>
<rect x="1577.10" y="1252.35" width="11.53" height="51.90" fill="#EFEFEF"/>
<rect x="1589.13" y="1252.35" width="11.53" height="51.90" fill="#EFEFEF"/>
<rect x="915.20" y="407.30" width="12.03" height="52.40" fill="#9B59B6"/>
<rect x="927.23" y="407.30" width="12.03" height="52.40" fill="#9B59B6"/>
<rect x="939.26" y="407.30" width="12.03" height="52.40" fill="#9B59B6"/>
<rect x="951.29" y="407.30" width="12.03" height="52.40" fill="#9B59B6"/>
<rect x="963.32" y="407.30" width="12.03" height="52.40" fill="#9B59B6"/>
<rect x="975.35" y="407.30" width="12.03" height="52.40" fill="#9B59B6"/>
<rect x="987.38" y="407.30" width="12.03" height="52.40" fill="#9B59B6"/>
<rect x="999.41" y="407.30" width="12.03" height="52.40" fill="#9B59B6"/>
<rect x="1011.44" y="407.30" width="12.03" height="52.40" fill="#9B59B6"/>
<rect x="1023.47" y="407.30" width="12.03" height="52.40" fill="#9B59B6"/>
<rect x="1035.50" y="407.30" width="12.03" height="52.40" fill="#9B59B6"/>
<rect x="1047.53" y="407.30" width="12.03" height="52.40" fill="#9B59B6"/>
<rect x="1059.56" y="407.30" width="12.03" height="52.40" fill="#9B59B6"/>
<rect x="1071.59" y="407.30" width="12.03" height="52.40" fill="#9B59B6"/>
<rect x="1083.62" y="407.30" width="12.03" height="52.40" fill="#9B59B6"/>
<rect x="1155.80" y="407.30" width="12.03" height="52.40" fill="#9B59B6"/>
<rect x="1167.83" y="407.30" width="12.03" height="52.40" fill="#9B59B6"/>
<rect x="1179.86" y="407.30" width="12.03" height="52.40" fill="#9B59B6"/>
<rect x="1215.95" y="407.30" width="12.03" height="52.40" fill="#9B59B6"/>
<rect x="1444.52" y="407.30" width="12.03" height="52.40" fill="#9B59B6"/>
<rect x="1456.55" y="407.30" width="12.03" height="52.40" fill="#9B59B6"/>
<rect x="1468.58" y="407.30" width="12.03" height="52.40" fill="#9B59B6"/>
<rect x="1480.61" y="407.30" width="12.03" height="52.40" fill="#9B59B6"/>
<rect x="1492.64" y="407.30" width="12.03" height="52.40" fill="#9B59B6"/>
<rect x="1504.67" y="407.30" width="12.03" height="52.40" fill="#9B59B6"/>
<rect x="1516.70" y="407.30" width="12.03" height="52.40" fill="#9B59B6"/>
<rect x="1528.73" y="407.30" width="12.03" height="52.40" fill="#9B59B6"/>
<rect x="1143.77" y="407.30" width="12.03" height="52.40" fill="#708090"/>
<rect x="1227.98" y="407.30" width="12.03" height="52.40" fill="#708090"/>
<rect x="1240.01" y="407.30" width="12.03" height="52.40" fill="#708090"/>
<rect x="1252.04" y="407.30" width="12.03" height="52.40" fill="#708090"/>
<rect x="1264.07" y="407.30" width="12.03" height="52.40" fill="#708090"/>
<rect x="1276.10" y="407.30" width="12.03" height="52.40" fill="#708090"/>
<rect x="1288.13" y="407.30" width="12.03" height="52.40" fill="#708090"/>
<rect x="1300.16" y="407.30" width="12.03" height="52.40" fill="#708090"/>
<rect x="1312.19" y="407.30" width="12.03" height="52.40" fill="#708090"/>
<rect x="1324.22" y="407.30" width="12.03" height="52.40" fill="#708090"/>
<rect x="1336.25" y="407.30" width="12.03" height="52.40" fill="#708090"/>
<rect x="1348.28" y="407.30" width="12.03" height="52.40" fill="#708090"/>
<rect x="1360.31" y="407.30" width="12.03" height="52.40" fill="#708090"/>
<rect x="1372.34" y="407.30" width="12.03" height="52.40" fill="#708090"/>
<rect x="1384.37" y="407.30" width="12.03" height="52.40" fill="#708090"/>
<rect x="1396.40" y="407.30" width="12.03" height="52.40" fill="#708090"/>
<rect x="1408.43" y="407.30" width="12.03" height="52.40" fill="#708090"/>
<rect x="1420.46" y="407.30" width="12.03" height="52.40" fill="#708090"/>
<rect x="1432.49" y="407.30" width="12.03" height="52.40" fill="#708090"/>
<rect x="1023.47" y="420.14" width="12.03" height="26.72" fill="#ADD8E6"/>
<rect x="1095.65" y="420.14" width="12.03" height="26.72" fill="#ADD8E6"/>
<rect x="1107.68" y="420.14" width="12.03" height="26.72" fill="#ADD8E6"/>
<rect x="1119.71" y="420.14" width="12.03" height="26.72" fill="#ADD8E6"/>
<rect x="1131.74" y="420.14" width="12.03" height="26.72" fill="#ADD8E6"/>
<rect x="1288.13" y="420.14" width="12.03" height="26.72" fill="#ADD8E6"/>
<rect x="1300.16" y="420.14" width="12.03" height="26.72" fill="#ADD8E6"/>
<rect x="1312.19" y="420.14" width="12.03" height="26.72" fill="#ADD8E6"/>
<rect x="1324.22" y="420.14" width="12.03" height="26.72" fill="#ADD8E6"/>
<rect x="1336.25" y="420.14" width="12.03" height="26.72" fill="#ADD8E6"/>
<rect x="1348.28" y="420.14" width="12.03" height="26.72" fill="#ADD8E6"/>
<rect x="1360.31" y="420.14" width="12.03" height="26.72" fill="#ADD8E6"/>
<rect x="1372.34" y="420.14" width="12.03" height="26.72" fill="#ADD8E6"/>
<rect x="1384.37" y="420.14" width="12.03" height="26.72" fill="#ADD8E6"/>
<rect x="1396.40" y="420.14" width="12.03" height="26.72" fill="#ADD8E6"/>
<rect x="1408.43" y="420.14" width="12.03" height="26.72" fill="#ADD8E6"/>
<rect x="1420.46" y="420.14" width="12.03" height="26.72" fill="#ADD8E6"/>
<rect x="1432.49" y="420.14" width="12.03" height="26.72" fill="#ADD8E6"/>
<rect x="1035.50" y="420.14" width="12.03" height="26.72" fill="#EC2027"/>
<rect x="1143.77" y="460.10" width="12.03" height="52.40" fill="#008000"/>
<rect x="1155.80" y="460.10" width="12.03" height="52.40" fill="#008000"/>
<rect x="1179.86" y="460.10" width="12.03" height="52.40" fill="#008000"/>
<rect x="1191.89" y="460.10" width="12.03" height="52.40" fill="#008000"/>
<rect x="1203.92" y="460.10" width="12.03" height="52.40" fill="#008000"/>
<rect x="1288.13" y="460.10" width="12.03" height="52.40" fill="#008000"/>
<rect x="1300.16" y="460.10" width="12.03" height="52.40" fill="#008000"/>
<rect x="1312.19" y="460.10" width="12.03" height="52.40" fill="#008000"/>
<rect x="1324.22" y="460.10" width="12.03" height="52.40" fill="#008000"/>
<rect x="1336.25" y="460.10" width="12.03" height="52.40" fill="#008000"/>
<rect x="1348.28" y="460.10" width="12.03" height="52.40" fill="#008000"/>
<rect x="1360.31" y="460.10" width="12.03" height="52.40" fill="#008000"/>
<rect x="1372.34" y="460.10" width="12.03" height="52.40" fill="#008000"/>
<rect x="1384.37" y="460.10" width="12.03" height="52.40" fill="#008000"/>
<rect x="1396.40" y="460.10" width="12.03" height="52.40" fill="#008000"/>
<rect x="1408.43" y="460.10" width="12.03" height="52.40" fill="#008000"/>
<rect x="1420.46" y="460.10" width="12.03" height="52.40" fill="#008000"/>
<rect x="1432.49" y="460.10" width="12.03" height="52.40" fill="#008000"/>
<rect x="1444.52" y="460.10" width="12.03" height="52.40" fill="#008000"/>
<rect x="1456.55" y="460.10" width="12.03" height="52.40" fill="#008000"/>
<rect x="1468.58" y="460.10" width="12.03" height="52.40" fill="#008000"/>
<rect x="1480.61" y="460.10" width="12.03" height="52.40" fill="#008000"/>
<rect x="1492.64" y="460.10" width="12.03" height="52.40" fill="#008000"/>
<rect x="1504.67" y="460.10" width="12.03" height="52.40" fill="#008000"/>
<rect x="1516.70" y="460.10" width="12.03" height="52.40" fill="#008000"/>
<rect x="1528.73" y="460.10" width="12.03" height="52.40" fill="#008000"/>
<rect x="1035.50" y="472.94" width="12.03" height="26.72" fill="#EC2027"/>
<rect x="1047.53" y="472.94" width="12.03" height="26.72" fill="#EC2027"/>
<rect x="1071.59" y="472.94" width="12.03" height="26.72" fill="#EC2027"/>
<rect x="1083.62" y="472.94" width="12.03" height="26.72" fill="#EC2027"/>
<rect x="1119.71" y="472.94" width="12.03" height="26.72" fill="#EC2027"/>
<rect x="1131.74" y="472.94" width="12.03" height="26.72" fill="#EC2027"/>
<rect x="1167.83" y="472.94" width="12.03" height="26.72" fill="#EC2027"/>
<rect x="1576.85" y="472.94" width="12.03" height="26.72" fill="#EC2027"/>
<rect x="1588.88" y="472.94" width="12.03" height="26.72" fill="#EC2027"/>
<rect x="1191.89" y="472.94" width="12.03" height="26.72" fill="#ADD8E6"/>
<rect x="1203.92" y="472.94" width="12.03" height="26.72" fill="#ADD8E6"/>
<rect x="1035.50" y="512.90" width="12.03" height="52.40" fill="#708090"/>
<rect x="1047.53" y="512.90" width="12.03" height="52.40" fill="#708090"/>
<rect x="1059.56" y="512.90" width="12.03" height="52.40" fill="#708090"/>
<rect x="1071.59" y="512.90" width="12.03" height="52.40" fill="#708090"/>
<rect x="1083.62" y="512.90" width="12.03" height="52.40" fill="#708090"/>
<rect x="1035.50" y="565.70" width="12.03" height="52.40" fill="#008000"/>
<rect x="1047.53" y="565.70" width="12.03" height="52.40" fill="#008000"/>
<rect x="1059.56" y="565.70" width="12.03" height="52.40" fill="#008000"/>
<rect x="1071.59" y="565.70" width="12.03" height="52.40" fill="#008000"/>
<rect x="1083.62" y="565.70" width="12.03" height="52.40" fill="#008000"/>
<rect x="1288.13" y="565.70" width="12.03" height="52.40" fill="#708090"/>
<rect x="1300.16" y="565.70" width="12.03" height="52.40" fill="#708090"/>
<rect x="1312.19" y="565.70" width="12.03" height="52.40" fill="#708090"/>
<rect x="1324.22" y="565.70" width="12.03" height="52.40" fill="#708090"/>
<rect x="1336.25" y="565.70" width="12.03" height="52.40" fill="#708090"/>
<rect x="1348.28" y="565.70" width="12.03" height="52.40" fill="#708090"/>
<rect x="1360.31" y="565.70" width="12.03" height="52.40" fill="#708090"/>
<rect x="1372.34" y="565.70" width="12.03" height="52.40" fill="#708090"/>
<rect x="1384.37" y="565.70" width="12.03" height="52.40" fill="#708090"/>
<rect x="1396.40" y="565.70" width="12.03" height="52.40" fill="#708090"/>
<rect x="1408.43" y="565.70" width="12.03" height="52.40" fill="#708090"/>
<rect x="1420.46" y="565.70" width="12.03" height="52.40" fill="#708090"/>
<rect x="1432.49" y="565.70" width="12.03" height="52.40" fill="#708090"/>
<rect x="1167.83" y="618.50" width="12.03" height="52.40" fill="#008000"/>
<rect x="1179.86" y="618.50" width="12.03" height="52.40" fill="#008000"/>
<rect x="999.41" y="631.34" width="12.03" height="26.72" fill="#EC2027"/>
<rect x="1035.50" y="631.34" width="12.03" height="26.72" fill="#EC2027"/>
<rect x="1095.65" y="631.34" width="12.03" height="26.72" fill="#EC2027"/>
<rect x="1107.68" y="631.34" width="12.03" height="26.72" fill="#EC2027"/>
<rect x="1119.71" y="631.34" width="12.03" height="26.72" fill="#EC2027"/>
<rect x="1131.74" y="631.34" width="12.03" height="26.72" fill="#EC2027"/>
<rect x="1167.83" y="631.34" width="12.03" height="26.72" fill="#EC2027"/>
<rect x="1191.89" y="631.34" width="12.03" height="26.72" fill="#EC2027"/>
<rect x="1203.92" y="631.34" width="12.03" height="26.72" fill="#EC2027"/>
<rect x="1227.98" y="631.34" width="12.03" height="26.72" fill="#EC2027"/>
<rect x="1276.10" y="631.34" width="12.03" height="26.72" fill="#EC2027"/>
<rect x="1240.01" y="631.34" width="12.03" height="26.72" fill="#ADD8E6"/>
<rect x="1252.04" y="631.34" width="12.03" height="26.72" fill="#ADD8E6"/>
<rect x="1264.07" y="631.34" width="12.03" height="26.72" fill="#ADD8E6"/>
<rect x="1047.53" y="671.30" width="12.03" height="52.40" fill="#008000"/>
<rect x="1191.89" y="671.30" width="12.03" height="52.40" fill="#008000"/>
<rect x="915.20" y="684.14" width="12.03" height="26.72" fill="#EC2027"/>
<rect x="927.23" y="684.14" width="12.03" height="26.72" fill="#EC2027"/>
<rect x="939.26" y="684.14" width="12.03" height="26.72" fill="#EC2027"/>
<rect x="951.29" y="684.14" width="12.03" height="26.72" fill="#EC2027"/>
<rect x="987.38" y="684.14" width="12.03" height="26.72" fill="#EC2027"/>
<rect x="999.41" y="684.14" width="12.03" height="26.72" fill="#EC2027"/>
<rect x="1011.44" y="684.14" width="12.03" height="26.72" fill="#EC2027"/>
<rect x="1023.47" y="684.14" width="12.03" height="26.72" fill="#EC2027"/>
<rect x="1095.65" y="684.14" width="12.03" height="26.72" fill="#EC2027"/>
<rect x="1107.68" y="684.14" width="12.03" height="26.72" fill="#EC2027"/>
<rect x="1119.71" y="684.14" width="12.03" height="26.72" fill="#EC2027"/>
<rect x="1131.74" y="684.14" width="12.03" height="26.72" fill="#EC2027"/>
<rect x="1167.83" y="684.14" width="12.03" height="26.72" fill="#EC2027"/>
<rect x="1240.01" y="684.14" width="12.03" height="26.72" fill="#EC2027"/>
<rect x="1252.04" y="684.14" width="12.03" height="26.72" fill="#EC2027"/>
<rect x="1264.07" y="684.14" width="12.03" height="26.72" fill="#EC2027"/>
<rect x="1276.10" y="684.14" width="12.03" height="26.72" fill="#EC2027"/>
<rect x="1288.13" y="684.14" width="12.03" height="26.72" fill="#EC2027"/>
<rect x="1300.16" y="684.14" width="12.03" height="26.72" fill="#EC2027"/>
<rect x="1312.19" y="684.14" width="12.03" height="26.72" fill="#EC2027"/>
<rect x="1324.22" y="684.14" width="12.03" height="26.72" fill="#EC2027"/>
<rect x="1336.25" y="684.14" width="12.03" height="26.72" fill="#EC2027"/>
<rect x="1348.28" y="684.14" width="12.03" height="26.72" fill="#EC2027"/>
<rect x="1360.31" y="684.14" width="12.03" height="26.72" fill="#EC2027"/>
<rect x="1372.34" y="684.14" width="12.03" height="26.72" fill="#EC2027"/>
<rect x="1384.37" y="684.14" width="12.03" height="26.72" fill="#EC2027"/>
<rect x="1396.40" y="684.14" width="12.03" height="26.72" fill="#EC2027"/>
<rect x="1408.43" y="684.14" width="12.03" height="26.72" fill="#EC2027"/>
<rect x="1420.46" y="684.14" width="12.03" height="26.72" fill="#EC2027"/>
<rect x="1432.49" y="684.14" width="12.03" height="26.72" fill="#EC2027"/>
<rect x="1444.52" y="684.14" width="12.03" height="26.72" fill="#EC2027"/>
<rect x="1456.55" y="684.14" width="12.03" height="26.72" fill="#EC2027"/>
<rect x="1468.58" y="684.14" width="12.03" height="26.72" fill="#EC2027"/>
<rect x="1480.61" y="684.14" width="12.03" height="26.72" fill="#EC2027"/>
<rect x="1492.64" y="684.14" width="12.03" height="26.72" fill="#EC2027"/>
<rect x="1504.67" y="684.14" width="12.03" height="26.72" fill="#EC2027"/>
<rect x="1516.70" y="684.14" width="12.03" height="26.72" fill="#EC2027"/>
<rect x="1528.73" y="684.14" width="12.03" height="26.72" fill="#EC2027"/>
<rect x="1540.76" y="684.14" width="12.03" height="26.72" fill="#EC2027"/>
<rect x="1552.79" y="684.14" width="12.03" height="26.72" fill="#EC2027"/>
<rect x="1564.82" y="684.14" width="12.03" height="26.72" fill="#EC2027"/>
<rect x="1576.85" y="684.14" width="12.03" height="26.72" fill="#EC2027"/>
<rect x="1588.88" y="684.14" width="12.03" height="26.72" fill="#EC2027"/>
<rect x="987.38" y="724.10" width="12.03" height="52.40" fill="#708090"/>
<rect x="999.41" y="724.10" width="12.03" height="52.40" fill="#708090"/>
<rect x="1011.44" y="724.10" width="12.03" height="52.40" fill="#708090"/>
<rect x="1215.95" y="724.10" width="12.03" height="52.40" fill="#008000"/>
<rect x="1240.01" y="724.10" width="12.03" height="52.40" fill="#A6801E"/>
<rect x="1252.04" y="724.10" width="12.03" height="52.40" fill="#A6801E"/>
<rect x="1264.07" y="724.10" width="12.03" height="52.40" fill="#A6801E"/>
<rect x="1276.10" y="724.10" width="12.03" height="52.40" fill="#A6801E"/>
<rect x="1167.83" y="736.94" width="12.03" height="26.72" fill="#EC2027"/>
<rect x="1288.13" y="736.94" width="12.03" height="26.72" fill="#3B50A8"/>
<rect x="1420.46" y="736.94" width="12.03" height="26.72" fill="#3B50A8"/>
<rect x="1432.49" y="736.94" width="12.03" height="26.72" fill="#3B50A8"/>
<rect x="915.20" y="776.90" width="12.03" height="52.40" fill="#A6801E"/>
<rect x="927.23" y="776.90" width="12.03" height="52.40" fill="#A6801E"/>
<rect x="939.26" y="776.90" width="12.03" height="52.40" fill="#A6801E"/>
<rect x="951.29" y="776.90" width="12.03" height="52.40" fill="#A6801E"/>
<rect x="963.32" y="776.90" width="12.03" height="52.40" fill="#A6801E"/>
<rect x="975.35" y="776.90" width="12.03" height="52.40" fill="#A6801E"/>
<rect x="1011.44" y="789.74" width="12.03" height="26.72" fill="#EC2027"/>
<rect x="1119.71" y="789.74" width="12.03" height="26.72" fill="#EC2027"/>
<rect x="1131.74" y="789.74" width="12.03" height="26.72" fill="#EC2027"/>
<rect x="1167.83" y="789.74" width="12.03" height="26.72" fill="#EC2027"/>
<rect x="1167.83" y="842.54" width="12.03" height="26.72" fill="#EC2027"/>
<rect x="1288.13" y="842.54" width="12.03" height="26.72" fill="#3B50A8"/>
<rect x="1420.46" y="842.54" width="12.03" height="26.72" fill="#3B50A8"/>
<rect x="1432.49" y="842.54" width="12.03" height="26.72" fill="#3B50A8"/>
<rect x="1408.43" y="842.54" width="12.03" height="26.72" fill="#ADD8E6"/>
<rect x="999.41" y="895.34" width="12.03" height="26.72" fill="#EC2027"/>
<rect x="1167.83" y="895.34" width="12.03" height="26.72" fill="#EC2027"/>
<rect x="1191.89" y="935.30" width="12.03" height="52.40" fill="#008000"/>
<rect x="1203.92" y="935.30" width="12.03" height="52.40" fill="#008000"/>
<rect x="1288.13" y="935.30" width="12.03" height="52.40" fill="#008000"/>
<rect x="1300.16" y="935.30" width="12.03" height="52.40" fill="#008000"/>
<rect x="1312.19" y="935.30" width="12.03" height="52.40" fill="#008000"/>
<rect x="1324.22" y="935.30" width="12.03" height="52.40" fill="#008000"/>
<rect x="1336.25" y="935.30" width="12.03" height="52.40" fill="#008000"/>
<rect x="1348.28" y="935.30" width="12.03" height="52.40" fill="#008000"/>
<rect x="1360.31" y="935.30" width="12.03" height="52.40" fill="#008000"/>
<rect x="1372.34" y="935.30" width="12.03" height="52.40" fill="#008000"/>
<rect x="1384.37" y="935.30" width="12.03" height="52.40" fill="#008000"/>
<rect x="1396.40" y="935.30" width="12.03" height="52.40" fill="#008000"/>
<rect x="1408.43" y="935.30" width="12.03" height="52.40" fill="#008000"/>
<rect x="1420.46" y="935.30" width="12.03" height="52.40" fill="#008000"/>
<rect x="1432.49" y="935.30" width="12.03" height="52.40" fill="#008000"/>
<rect x="999.41" y="948.14" width="12.03" height="26.72" fill="#EC2027"/>
<rect x="1167.83" y="948.14" width="12.03" height="26.72" fill="#EC2027"/>
<rect x="1444.52" y="948.14" width="12.03" height="26.72" fill="#EC2027"/>
<rect x="1456.55" y="948.14" width="12.03" height="26.72" fill="#EC2027"/>
<rect x="1468.58" y="948.14" width="12.03" height="26.72" fill="#EC2027"/>
<rect x="1480.61" y="948.14" width="12.03" height="26.72" fill="#EC2027"/>
<rect x="1492.64" y="948.14" width="12.03" height="26.72" fill="#EC2027"/>
<rect x="1504.67" y="948.14" width="12.03" height="26.72" fill="#EC2027"/>
<rect x="1516.70" y="948.14" width="12.03" height="26.72" fill="#EC2027"/>
<rect x="1528.73" y="948.14" width="12.03" height="26.72" fill="#EC2027"/>
<rect x="1047.53" y="948.14" width="12.03" height="26.72" fill="#ADD8E6"/>
<rect x="1288.13" y="988.10" width="12.03" height="52.40" fill="#708090"/>
<rect x="1300.16" y="988.10" width="12.03" height="52.40" fill="#708090"/>
<rect x="1312.19" y="988.10" width="12.03" height="52.40" fill="#708090"/>
<rect x="1324.22" y="988.10" width="12.03" height="52.40" fill="#708090"/>
<rect x="1336.25" y="988.10" width="12.03" height="52.40" fill="#708090"/>
<rect x="1348.28" y="988.10" width="12.03" height="52.40" fill="#708090"/>
<rect x="1360.31" y="988.10" width="12.03" height="52.40" fill="#708090"/>
<rect x="1372.34" y="988.10" width="12.03" height="52.40" fill="#708090"/>
<rect x="1384.37" y="988.10" width="12.03" height="52.40" fill="#708090"/>
<rect x="1396.40" y="988.10" width="12.03" height="52.40" fill="#708090"/>
<rect x="1408.43" y="988.10" width="12.03" height="52.40" fill="#708090"/>
<rect x="1420.46" y="988.10" width="12.03" height="52.40" fill="#708090"/>
<rect x="1432.49" y="988.10" width="12.03" height="52.40" fill="#708090"/>
<rect x="987.38" y="1000.94" width="12.03" height="26.72" fill="#ADD8E6"/>
<rect x="1167.83" y="1040.90" width="12.03" height="52.40" fill="#008000"/>
<rect x="1444.52" y="1040.90" width="12.03" height="52.40" fill="#008000"/>
<rect x="1456.55" y="1040.90" width="12.03" height="52.40" fill="#008000"/>
<rect x="1468.58" y="1040.90" width="12.03" height="52.40" fill="#008000"/>
<rect x="1480.61" y="1040.90" width="12.03" height="52.40" fill="#008000"/>
<rect x="1492.64" y="1040.90" width="12.03" height="52.40" fill="#008000"/>
<rect x="1504.67" y="1040.90" width="12.03" height="52.40" fill="#008000"/>
<rect x="1516.70" y="1040.90" width="12.03" height="52.40" fill="#008000"/>
<rect x="1528.73" y="1040.90" width="12.03" height="52.40" fill="#008000"/>
<rect x="987.38" y="1053.74" width="12.03" height="26.72" fill="#ADD8E6"/>
<rect x="1288.13" y="1093.70" width="12.03" height="52.40" fill="#708090"/>
<rect x="1300.16" y="1093.70" width="12.03" height="52.40" fill="#708090"/>
<rect x="1312.19" y="1093.70" width="12.03" height="52.40" fill="#708090"/>
<rect x="1336.25" y="1093.70" width="12.03" height="52.40" fill="#708090"/>
<rect x="1348.28" y="1093.70" width="12.03" height="52.40" fill="#708090"/>
<rect x="1360.31" y="1093.70" width="12.03" height="52.40" fill="#708090"/>
<rect x="1372.34" y="1093.70" width="12.03" height="52.40" fill="#708090"/>
<rect x="1384.37" y="1093.70" width="12.03" height="52.40" fill="#708090"/>
<rect x="1396.40" y="1093.70" width="12.03" height="52.40" fill="#708090"/>
<rect x="1408.43" y="1093.70" width="12.03" height="52.40" fill="#708090"/>
<rect x="1420.46" y="1093.70" width="12.03" height="52.40" fill="#708090"/>
<rect x="1432.49" y="1093.70" width="12.03" height="52.40" fill="#708090"/>
<rect x="1300.16" y="1199.30" width="12.03" height="52.40" fill="#9B59B6"/>
<rect x="1312.19" y="1199.30" width="12.03" height="52.40" fill="#008000"/>
<rect x="1348.28" y="1199.30" width="12.03" height="52.40" fill="#008000"/>
<rect x="1360.31" y="1199.30" width="12.03" height="52.40" fill="#008000"/>
<rect x="1372.34" y="1199.30" width="12.03" height="52.40" fill="#008000"/>
<rect x="1396.40" y="1199.30" width="12.03" height="52.40" fill="#008000"/>
<rect x="1408.43" y="1199.30" width="12.03" height="52.40" fill="#008000"/>
<rect x="1444.52" y="1199.30" width="12.03" height="52.40" fill="#008000"/>
<rect x="1238.60" y="407.40" width="3.40" height="898.10" fill="#FFFFFF"/>
<rect x="915.30" y="407.40" width="686.00" height="898.10" fill="none" stroke="#1a1a1a" stroke-width="2.8"/>
<text x="117.5" y="430.7" font-size="24.8" text-anchor="end" fill="#111" stroke="#111" stroke-width="0.35" font-style="italic">APC</text>
<text x="117.5" y="484.5" font-size="24.8" text-anchor="end" fill="#111" stroke="#111" stroke-width="0.35" font-style="italic">KRAS</text>
<text x="117.5" y="538.3" font-size="24.8" text-anchor="end" fill="#111" stroke="#111" stroke-width="0.35" font-style="italic">FBXW7</text>
<text x="117.5" y="592.1" font-size="24.8" text-anchor="end" fill="#111" stroke="#111" stroke-width="0.35" font-style="italic">TCF7L2</text>
<text x="117.5" y="645.9" font-size="24.8" text-anchor="end" fill="#111" stroke="#111" stroke-width="0.35" font-style="italic">BRAF</text>
<text x="117.5" y="699.6" font-size="24.8" text-anchor="end" fill="#111" stroke="#111" stroke-width="0.35" font-style="italic">GNAS</text>
<text x="117.5" y="753.4" font-size="24.8" text-anchor="end" fill="#111" stroke="#111" stroke-width="0.35" font-style="italic">TP53</text>
<text x="117.5" y="807.2" font-size="24.8" text-anchor="end" fill="#111" stroke="#111" stroke-width="0.35" font-style="italic">ACVR2A</text>
<text x="117.5" y="861.0" font-size="24.8" text-anchor="end" fill="#111" stroke="#111" stroke-width="0.35" font-style="italic">SOX9</text>
<text x="117.5" y="914.8" font-size="24.8" text-anchor="end" fill="#111" stroke="#111" stroke-width="0.35" font-style="italic">CTNNB1</text>
<text x="117.5" y="968.6" font-size="24.8" text-anchor="end" fill="#111" stroke="#111" stroke-width="0.35" font-style="italic">PIK3CA</text>
<text x="117.5" y="1022.4" font-size="24.8" text-anchor="end" fill="#111" stroke="#111" stroke-width="0.35" font-style="italic">ARID1A</text>
<text x="117.5" y="1076.2" font-size="24.8" text-anchor="end" fill="#111" stroke="#111" stroke-width="0.35" font-style="italic">NRAS</text>
<text x="117.5" y="1130.0" font-size="24.8" text-anchor="end" fill="#111" stroke="#111" stroke-width="0.35" font-style="italic">PTEN</text>
<text x="117.5" y="1183.8" font-size="24.8" text-anchor="end" fill="#111" stroke="#111" stroke-width="0.35" font-style="italic">SMAD4</text>
<text x="117.5" y="1237.5" font-size="24.8" text-anchor="end" fill="#111" stroke="#111" stroke-width="0.35" font-style="italic">SMAD2</text>
<text x="117.5" y="1291.3" font-size="24.8" text-anchor="end" fill="#111" stroke="#111" stroke-width="0.35" font-style="italic">TGIF1</text>
<text x="796.3" y="438.5" font-size="20.3" fill="#111" stroke="#111" stroke-width="0.35">53%</text>
<text x="796.3" y="490.9" font-size="20.3" fill="#111" stroke="#111" stroke-width="0.35">15%</text>
<text x="796.3" y="543.3" font-size="20.3" fill="#111" stroke="#111" stroke-width="0.35">19%</text>
<text x="796.3" y="595.7" font-size="20.3" fill="#111" stroke="#111" stroke-width="0.35">0%</text>
<text x="796.3" y="648.1" font-size="20.3" fill="#111" stroke="#111" stroke-width="0.35">14%</text>
<text x="796.3" y="700.5" font-size="20.3" fill="#111" stroke="#111" stroke-width="0.35">44%</text>
<text x="796.3" y="752.9" font-size="20.3" fill="#111" stroke="#111" stroke-width="0.35">3%</text>
<text x="796.3" y="805.3" font-size="20.3" fill="#111" stroke="#111" stroke-width="0.35">7%</text>
<text x="796.3" y="857.7" font-size="20.3" fill="#111" stroke="#111" stroke-width="0.35">15%</text>
<text x="796.3" y="910.1" font-size="20.3" fill="#111" stroke="#111" stroke-width="0.35">3%</text>
<text x="796.3" y="962.5" font-size="20.3" fill="#111" stroke="#111" stroke-width="0.35">10%</text>
<text x="796.3" y="1014.9" font-size="20.3" fill="#111" stroke="#111" stroke-width="0.35">3%</text>
<text x="796.3" y="1067.3" font-size="20.3" fill="#111" stroke="#111" stroke-width="0.35">2%</text>
<text x="796.3" y="1119.7" font-size="20.3" fill="#111" stroke="#111" stroke-width="0.35">0%</text>
<text x="796.3" y="1172.1" font-size="20.3" fill="#111" stroke="#111" stroke-width="0.35">22%</text>
<text x="796.3" y="1224.5" font-size="20.3" fill="#111" stroke="#111" stroke-width="0.35">5%</text>
<text x="796.3" y="1276.9" font-size="20.3" fill="#111" stroke="#111" stroke-width="0.35">5%</text>
<text x="1605.6" y="435.8" font-size="20.3" fill="#111" stroke="#111" stroke-width="0.35">88%</text>
<text x="1605.6" y="489.4" font-size="20.3" fill="#111" stroke="#111" stroke-width="0.35">61%</text>
<text x="1605.6" y="542.9" font-size="20.3" fill="#111" stroke="#111" stroke-width="0.35">9%</text>
<text x="1605.6" y="596.5" font-size="20.3" fill="#111" stroke="#111" stroke-width="0.35">32%</text>
<text x="1605.6" y="650.0" font-size="20.3" fill="#111" stroke="#111" stroke-width="0.35">26%</text>
<text x="1605.6" y="703.5" font-size="20.3" fill="#111" stroke="#111" stroke-width="0.35">79%</text>
<text x="1605.6" y="757.1" font-size="20.3" fill="#111" stroke="#111" stroke-width="0.35">21%</text>
<text x="1605.6" y="810.6" font-size="20.3" fill="#111" stroke="#111" stroke-width="0.35">18%</text>
<text x="1605.6" y="864.2" font-size="20.3" fill="#111" stroke="#111" stroke-width="0.35">9%</text>
<text x="1605.6" y="917.8" font-size="20.3" fill="#111" stroke="#111" stroke-width="0.35">4%</text>
<text x="1605.6" y="971.3" font-size="20.3" fill="#111" stroke="#111" stroke-width="0.35">46%</text>
<text x="1605.6" y="1024.8" font-size="20.3" fill="#111" stroke="#111" stroke-width="0.35">25%</text>
<text x="1605.6" y="1078.4" font-size="20.3" fill="#111" stroke="#111" stroke-width="0.35">18%</text>
<text x="1605.6" y="1132.0" font-size="20.3" fill="#111" stroke="#111" stroke-width="0.35">21%</text>
<text x="1605.6" y="1185.5" font-size="20.3" fill="#111" stroke="#111" stroke-width="0.35">0%</text>
<text x="1605.6" y="1239.0" font-size="20.3" fill="#111" stroke="#111" stroke-width="0.35">14%</text>
<text x="1605.6" y="1292.6" font-size="20.3" fill="#111" stroke="#111" stroke-width="0.35">0%</text>
<rect x="142.80" y="1319.40" width="9.89" height="22.20" fill="#66C2A5"/>
<rect x="142.80" y="1344.40" width="9.89" height="22.10" fill="#4DAF4A"/>
<rect x="153.69" y="1319.40" width="9.89" height="22.20" fill="#8DA0CB"/>
<rect x="153.69" y="1344.40" width="9.89" height="22.10" fill="#4DAF4A"/>
<rect x="164.59" y="1319.40" width="9.89" height="22.20" fill="#8DA0CB"/>
<rect x="164.59" y="1344.40" width="9.89" height="22.10" fill="#4DAF4A"/>
<rect x="175.48" y="1319.40" width="9.89" height="22.20" fill="#8DA0CB"/>
<rect x="175.48" y="1344.40" width="9.89" height="22.10" fill="#4DAF4A"/>
<rect x="186.37" y="1319.40" width="9.89" height="22.20" fill="#8DA0CB"/>
<rect x="186.37" y="1344.40" width="9.89" height="22.10" fill="#4DAF4A"/>
<rect x="197.27" y="1319.40" width="9.89" height="22.20" fill="#8DA0CB"/>
<rect x="197.27" y="1344.40" width="9.89" height="22.10" fill="#4DAF4A"/>
<rect x="208.16" y="1319.40" width="9.89" height="22.20" fill="#8DA0CB"/>
<rect x="208.16" y="1344.40" width="9.89" height="22.10" fill="#4DAF4A"/>
<rect x="219.05" y="1319.40" width="9.89" height="22.20" fill="#E78AC3"/>
<rect x="219.05" y="1344.40" width="9.89" height="22.10" fill="#4DAF4A"/>
<rect x="229.94" y="1319.40" width="9.89" height="22.20" fill="#E78AC3"/>
<rect x="229.94" y="1344.40" width="9.89" height="22.10" fill="#4DAF4A"/>
<rect x="240.84" y="1319.40" width="9.89" height="22.20" fill="#E78AC3"/>
<rect x="240.84" y="1344.40" width="9.89" height="22.10" fill="#4DAF4A"/>
<rect x="251.73" y="1319.40" width="9.89" height="22.20" fill="#E78AC3"/>
<rect x="251.73" y="1344.40" width="9.89" height="22.10" fill="#4DAF4A"/>
<rect x="262.62" y="1319.40" width="9.89" height="22.20" fill="#66C2A5"/>
<rect x="262.62" y="1344.40" width="9.89" height="22.10" fill="#4DAF4A"/>
<rect x="273.52" y="1319.40" width="9.89" height="22.20" fill="#8DA0CB"/>
<rect x="273.52" y="1344.40" width="9.89" height="22.10" fill="#4DAF4A"/>
<rect x="284.41" y="1319.40" width="9.89" height="22.20" fill="#8DA0CB"/>
<rect x="284.41" y="1344.40" width="9.89" height="22.10" fill="#4DAF4A"/>
<rect x="295.30" y="1319.40" width="9.89" height="22.20" fill="#8DA0CB"/>
<rect x="295.30" y="1344.40" width="9.89" height="22.10" fill="#4DAF4A"/>
<rect x="306.20" y="1319.40" width="9.89" height="22.20" fill="#E78AC3"/>
<rect x="306.20" y="1344.40" width="9.89" height="22.10" fill="#4DAF4A"/>
<rect x="317.09" y="1319.40" width="9.89" height="22.20" fill="#E78AC3"/>
<rect x="317.09" y="1344.40" width="9.89" height="22.10" fill="#4DAF4A"/>
<rect x="327.98" y="1319.40" width="9.89" height="22.20" fill="#E78AC3"/>
<rect x="327.98" y="1344.40" width="9.89" height="22.10" fill="#4DAF4A"/>
<rect x="338.87" y="1319.40" width="9.89" height="22.20" fill="#E78AC3"/>
<rect x="338.87" y="1344.40" width="9.89" height="22.10" fill="#4DAF4A"/>
<rect x="349.77" y="1319.40" width="9.89" height="22.20" fill="#E78AC3"/>
<rect x="349.77" y="1344.40" width="9.89" height="22.10" fill="#4DAF4A"/>
<rect x="360.66" y="1319.40" width="9.89" height="22.20" fill="#E78AC3"/>
<rect x="360.66" y="1344.40" width="9.89" height="22.10" fill="#4DAF4A"/>
<rect x="371.55" y="1319.40" width="9.89" height="22.20" fill="#E78AC3"/>
<rect x="371.55" y="1344.40" width="9.89" height="22.10" fill="#4DAF4A"/>
<rect x="382.45" y="1319.40" width="9.89" height="22.20" fill="#E78AC3"/>
<rect x="382.45" y="1344.40" width="9.89" height="22.10" fill="#4DAF4A"/>
<rect x="393.34" y="1319.40" width="9.89" height="22.20" fill="#E78AC3"/>
<rect x="393.34" y="1344.40" width="9.89" height="22.10" fill="#4DAF4A"/>
<rect x="404.23" y="1319.40" width="9.89" height="22.20" fill="#E78AC3"/>
<rect x="404.23" y="1344.40" width="9.89" height="22.10" fill="#4DAF4A"/>
<rect x="415.13" y="1319.40" width="9.89" height="22.20" fill="#E78AC3"/>
<rect x="415.13" y="1344.40" width="9.89" height="22.10" fill="#4DAF4A"/>
<rect x="426.02" y="1319.40" width="9.89" height="22.20" fill="#66C2A5"/>
<rect x="426.02" y="1344.40" width="9.89" height="22.10" fill="#377EB8"/>
<rect x="436.91" y="1319.40" width="9.89" height="22.20" fill="#FC8D62"/>
<rect x="436.91" y="1344.40" width="9.89" height="22.10" fill="#377EB8"/>
<rect x="447.80" y="1319.40" width="9.89" height="22.20" fill="#FC8D62"/>
<rect x="447.80" y="1344.40" width="9.89" height="22.10" fill="#377EB8"/>
<rect x="458.70" y="1319.40" width="9.89" height="22.20" fill="#8DA0CB"/>
<rect x="458.70" y="1344.40" width="9.89" height="22.10" fill="#377EB8"/>
<rect x="469.59" y="1319.40" width="9.89" height="22.20" fill="#8DA0CB"/>
<rect x="469.59" y="1344.40" width="9.89" height="22.10" fill="#377EB8"/>
<rect x="480.48" y="1319.40" width="9.89" height="22.20" fill="#E78AC3"/>
<rect x="480.48" y="1344.40" width="9.89" height="22.10" fill="#377EB8"/>
<rect x="491.38" y="1319.40" width="9.89" height="22.20" fill="#E78AC3"/>
<rect x="491.38" y="1344.40" width="9.89" height="22.10" fill="#377EB8"/>
<rect x="502.27" y="1319.40" width="9.89" height="22.20" fill="#66C2A5"/>
<rect x="502.27" y="1344.40" width="9.89" height="22.10" fill="#377EB8"/>
<rect x="513.16" y="1319.40" width="9.89" height="22.20" fill="#66C2A5"/>
<rect x="513.16" y="1344.40" width="9.89" height="22.10" fill="#377EB8"/>
<rect x="524.06" y="1319.40" width="9.89" height="22.20" fill="#FC8D62"/>
<rect x="524.06" y="1344.40" width="9.89" height="22.10" fill="#377EB8"/>
<rect x="534.95" y="1319.40" width="9.89" height="22.20" fill="#FC8D62"/>
<rect x="534.95" y="1344.40" width="9.89" height="22.10" fill="#377EB8"/>
<rect x="545.84" y="1319.40" width="9.89" height="22.20" fill="#FC8D62"/>
<rect x="545.84" y="1344.40" width="9.89" height="22.10" fill="#377EB8"/>
<rect x="556.73" y="1319.40" width="9.89" height="22.20" fill="#FC8D62"/>
<rect x="556.73" y="1344.40" width="9.89" height="22.10" fill="#377EB8"/>
<rect x="567.63" y="1319.40" width="9.89" height="22.20" fill="#FC8D62"/>
<rect x="567.63" y="1344.40" width="9.89" height="22.10" fill="#E41A1C"/>
<rect x="578.52" y="1319.40" width="9.89" height="22.20" fill="#FC8D62"/>
<rect x="578.52" y="1344.40" width="9.89" height="22.10" fill="#E41A1C"/>
<rect x="589.41" y="1319.40" width="9.89" height="22.20" fill="#8DA0CB"/>
<rect x="589.41" y="1344.40" width="9.89" height="22.10" fill="#377EB8"/>
<rect x="600.31" y="1319.40" width="9.89" height="22.20" fill="#8DA0CB"/>
<rect x="600.31" y="1344.40" width="9.89" height="22.10" fill="#377EB8"/>
<rect x="611.20" y="1319.40" width="9.89" height="22.20" fill="#8DA0CB"/>
<rect x="611.20" y="1344.40" width="9.89" height="22.10" fill="#377EB8"/>
<rect x="622.09" y="1319.40" width="9.89" height="22.20" fill="#8DA0CB"/>
<rect x="622.09" y="1344.40" width="9.89" height="22.10" fill="#E41A1C"/>
<rect x="632.99" y="1319.40" width="9.89" height="22.20" fill="#8DA0CB"/>
<rect x="632.99" y="1344.40" width="9.89" height="22.10" fill="#E41A1C"/>
<rect x="643.88" y="1319.40" width="9.89" height="22.20" fill="#8DA0CB"/>
<rect x="643.88" y="1344.40" width="9.89" height="22.10" fill="#E41A1C"/>
<rect x="654.77" y="1319.40" width="9.89" height="22.20" fill="#66C2A5"/>
<rect x="654.77" y="1344.40" width="9.89" height="22.10" fill="#377EB8"/>
<rect x="665.66" y="1319.40" width="9.89" height="22.20" fill="#66C2A5"/>
<rect x="665.66" y="1344.40" width="9.89" height="22.10" fill="#377EB8"/>
<rect x="676.56" y="1319.40" width="9.89" height="22.20" fill="#FC8D62"/>
<rect x="676.56" y="1344.40" width="9.89" height="22.10" fill="#377EB8"/>
<rect x="687.45" y="1319.40" width="9.89" height="22.20" fill="#FC8D62"/>
<rect x="687.45" y="1344.40" width="9.89" height="22.10" fill="#377EB8"/>
<rect x="698.34" y="1319.40" width="9.89" height="22.20" fill="#FC8D62"/>
<rect x="698.34" y="1344.40" width="9.89" height="22.10" fill="#377EB8"/>
<rect x="709.24" y="1319.40" width="9.89" height="22.20" fill="#FC8D62"/>
<rect x="709.24" y="1344.40" width="9.89" height="22.10" fill="#984EA3"/>
<rect x="720.13" y="1319.40" width="9.89" height="22.20" fill="#FC8D62"/>
<rect x="720.13" y="1344.40" width="9.89" height="22.10" fill="#984EA3"/>
<rect x="731.02" y="1319.40" width="9.89" height="22.20" fill="#8DA0CB"/>
<rect x="731.02" y="1344.40" width="9.89" height="22.10" fill="#377EB8"/>
<rect x="741.91" y="1319.40" width="9.89" height="22.20" fill="#8DA0CB"/>
<rect x="741.91" y="1344.40" width="9.89" height="22.10" fill="#377EB8"/>
<rect x="752.81" y="1319.40" width="9.89" height="22.20" fill="#8DA0CB"/>
<rect x="752.81" y="1344.40" width="9.89" height="22.10" fill="#984EA3"/>
<rect x="763.70" y="1319.40" width="9.89" height="22.20" fill="#8DA0CB"/>
<rect x="763.70" y="1344.40" width="9.89" height="22.10" fill="#984EA3"/>
<rect x="774.59" y="1319.40" width="9.89" height="22.20" fill="#8DA0CB"/>
<rect x="774.59" y="1344.40" width="9.89" height="22.10" fill="#984EA3"/>
<text x="124.0" y="1331.5" font-size="20" text-anchor="end" fill="#111" stroke="#111" stroke-width="0.35" textLength="49.0" lengthAdjust="spacingAndGlyphs">Stage</text>
<text x="117.8" y="1363.7" font-size="20.5" text-anchor="end" fill="#111" stroke="#111" stroke-width="0.35" textLength="76.0" lengthAdjust="spacingAndGlyphs">Location</text>
<rect x="916.00" y="1320.30" width="10.87" height="24.10" fill="#E8908F"/>
<rect x="928.07" y="1320.30" width="10.87" height="24.10" fill="#E8908F"/>
<rect x="940.14" y="1320.30" width="10.87" height="24.10" fill="#E8908F"/>
<rect x="952.21" y="1320.30" width="10.87" height="24.10" fill="#E8908F"/>
<rect x="964.28" y="1320.30" width="10.87" height="24.10" fill="#E8908F"/>
<rect x="976.35" y="1320.30" width="10.87" height="24.10" fill="#E8908F"/>
<rect x="988.42" y="1320.30" width="10.87" height="24.10" fill="#E8908F"/>
<rect x="1000.49" y="1320.30" width="10.87" height="24.10" fill="#E8908F"/>
<rect x="1012.56" y="1320.30" width="10.87" height="24.10" fill="#E8908F"/>
<rect x="1024.63" y="1320.30" width="10.87" height="24.10" fill="#E8908F"/>
<rect x="1036.70" y="1320.30" width="10.87" height="24.10" fill="#E8908F"/>
<rect x="1048.77" y="1320.30" width="10.87" height="24.10" fill="#E8908F"/>
<rect x="1060.84" y="1320.30" width="10.87" height="24.10" fill="#E8908F"/>
<rect x="1072.91" y="1320.30" width="10.87" height="24.10" fill="#E8908F"/>
<rect x="1084.98" y="1320.30" width="10.87" height="24.10" fill="#E8908F"/>
<rect x="1097.05" y="1320.30" width="10.87" height="24.10" fill="#E8908F"/>
<rect x="1109.12" y="1320.30" width="10.87" height="24.10" fill="#E8908F"/>
<rect x="1121.19" y="1320.30" width="10.87" height="24.10" fill="#E8908F"/>
<rect x="1133.26" y="1320.30" width="10.87" height="24.10" fill="#E8908F"/>
<rect x="1145.33" y="1320.30" width="10.87" height="24.10" fill="#E8908F"/>
<rect x="1157.40" y="1320.30" width="10.87" height="24.10" fill="#E8908F"/>
<rect x="1169.47" y="1320.30" width="10.87" height="24.10" fill="#E8908F"/>
<rect x="1181.54" y="1320.30" width="10.87" height="24.10" fill="#E8908F"/>
<rect x="1193.61" y="1320.30" width="10.87" height="24.10" fill="#E8908F"/>
<rect x="1205.68" y="1320.30" width="10.87" height="24.10" fill="#E8908F"/>
<rect x="1217.75" y="1320.30" width="10.87" height="24.10" fill="#E8908F"/>
<rect x="1229.82" y="1320.30" width="10.87" height="24.10" fill="#E8908F"/>
<rect x="1241.89" y="1320.30" width="10.87" height="24.10" fill="#B08EB6"/>
<rect x="1253.96" y="1320.30" width="10.87" height="24.10" fill="#B08EB6"/>
<rect x="1266.03" y="1320.30" width="10.87" height="24.10" fill="#B08EB6"/>
<rect x="1278.10" y="1320.30" width="10.87" height="24.10" fill="#B08EB6"/>
<rect x="1290.17" y="1320.30" width="10.87" height="24.10" fill="#B08EB6"/>
<rect x="1302.24" y="1320.30" width="10.87" height="24.10" fill="#B08EB6"/>
<rect x="1314.31" y="1320.30" width="10.87" height="24.10" fill="#B08EB6"/>
<rect x="1326.38" y="1320.30" width="10.87" height="24.10" fill="#B08EB6"/>
<rect x="1338.45" y="1320.30" width="10.87" height="24.10" fill="#B08EB6"/>
<rect x="1350.52" y="1320.30" width="10.87" height="24.10" fill="#B08EB6"/>
<rect x="1362.59" y="1320.30" width="10.87" height="24.10" fill="#B08EB6"/>
<rect x="1374.66" y="1320.30" width="10.87" height="24.10" fill="#B08EB6"/>
<rect x="1386.73" y="1320.30" width="10.87" height="24.10" fill="#B08EB6"/>
<rect x="1398.80" y="1320.30" width="10.87" height="24.10" fill="#B08EB6"/>
<rect x="1410.87" y="1320.30" width="10.87" height="24.10" fill="#B08EB6"/>
<rect x="1422.94" y="1320.30" width="10.87" height="24.10" fill="#B08EB6"/>
<rect x="1435.01" y="1320.30" width="10.87" height="24.10" fill="#B08EB6"/>
<rect x="1447.08" y="1320.30" width="10.87" height="24.10" fill="#B08EB6"/>
<rect x="1459.15" y="1320.30" width="10.87" height="24.10" fill="#B08EB6"/>
<rect x="1471.22" y="1320.30" width="10.87" height="24.10" fill="#B08EB6"/>
<rect x="1483.29" y="1320.30" width="10.87" height="24.10" fill="#B08EB6"/>
<rect x="1495.36" y="1320.30" width="10.87" height="24.10" fill="#B08EB6"/>
<rect x="1507.43" y="1320.30" width="10.87" height="24.10" fill="#B08EB6"/>
<rect x="1519.50" y="1320.30" width="10.87" height="24.10" fill="#B08EB6"/>
<rect x="1531.57" y="1320.30" width="10.87" height="24.10" fill="#B08EB6"/>
<rect x="1543.64" y="1320.30" width="10.87" height="24.10" fill="#B08EB6"/>
<rect x="1555.71" y="1320.30" width="10.87" height="24.10" fill="#B08EB6"/>
<rect x="1567.78" y="1320.30" width="10.87" height="24.10" fill="#B08EB6"/>
<rect x="1579.85" y="1320.30" width="10.87" height="24.10" fill="#B08EB6"/>
<rect x="1591.92" y="1320.30" width="10.87" height="24.10" fill="#B08EB6"/>
<text x="891.0" y="1338.7" font-size="20" text-anchor="end" fill="#111" stroke="#111" stroke-width="0.35">Stage</text>
<text x="43.9" y="1412.2" font-size="25" fill="#111" stroke="#111" stroke-width="0.35" textLength="135.8" lengthAdjust="spacingAndGlyphs">FAP stages:</text>
<rect x="204.40" y="1392.00" width="24.40" height="24.40" fill="#66C2A5"/>
<text x="236.3" y="1414.0" font-size="20.5" fill="#111" stroke="#111" stroke-width="0.35">Mucosa</text>
<rect x="354.20" y="1392.00" width="24.40" height="24.40" fill="#FC8D62"/>
<text x="389.0" y="1414.0" font-size="20.5" fill="#111" stroke="#111" stroke-width="0.35">Benign</text>
<rect x="503.00" y="1392.00" width="24.40" height="24.40" fill="#8DA0CB"/>
<text x="540.7" y="1414.0" font-size="20.5" fill="#111" stroke="#111" stroke-width="0.35">Dysplasia</text>
<rect x="692.70" y="1392.00" width="24.40" height="24.40" fill="#E78AC3"/>
<text x="728.4" y="1414.0" font-size="20.5" fill="#111" stroke="#111" stroke-width="0.35">AdCa</text>
<text x="32.1" y="1455.0" font-size="25" fill="#111" stroke="#111" stroke-width="0.35" textLength="179.0" lengthAdjust="spacingAndGlyphs">Alteration types:</text>
<rect x="240.80" y="1434.80" width="24.00" height="24.00" fill="#008000"/>
<text x="276.0" y="1459.2" font-size="20.5" fill="#111" stroke="#111" stroke-width="0.35">Missense</text>
<rect x="428.00" y="1434.80" width="24.00" height="24.00" fill="#708090"/>
<text x="463.0" y="1459.2" font-size="20.5" fill="#111" stroke="#111" stroke-width="0.35">Truncating</text>
<rect x="630.30" y="1434.80" width="24.00" height="24.00" fill="#A6801E"/>
<text x="663.0" y="1459.2" font-size="20.5" fill="#111" stroke="#111" stroke-width="0.35">In−frame</text>
<rect x="827.50" y="1434.80" width="24.00" height="24.00" fill="#3B50A8"/>
<text x="862.7" y="1459.2" font-size="20.5" fill="#111" stroke="#111" stroke-width="0.35">Del</text>
<rect x="954.30" y="1434.80" width="24.00" height="24.00" fill="#EC2027"/>
<text x="992.6" y="1459.2" font-size="20.5" fill="#111" stroke="#111" stroke-width="0.35">Amp</text>
<rect x="1084.30" y="1434.80" width="24.00" height="24.00" fill="#ADD8E6"/>
<text x="1122.1" y="1459.2" font-size="20.5" fill="#111" stroke="#111" stroke-width="0.35">cnLOH</text>
<rect x="1239.20" y="1434.80" width="24.00" height="24.00" fill="#9B59B6"/>
<text x="1277.1" y="1459.2" font-size="20.5" fill="#111" stroke="#111" stroke-width="0.35">Multi hit</text>
<rect x="1422.30" y="1434.80" width="24.00" height="24.00" fill="#7B5447"/>
<text x="1460.2" y="1459.2" font-size="20.5" fill="#111" stroke="#111" stroke-width="0.35">Complex event</text>
<text x="36.3" y="1504.5" font-size="25" fill="#111" stroke="#111" stroke-width="0.35" textLength="101.6" lengthAdjust="spacingAndGlyphs">Location:</text>
<rect x="194.80" y="1484.90" width="24.00" height="24.00" fill="#377EB8"/>
<text x="226.7" y="1507.0" font-size="20.5" fill="#111" stroke="#111" stroke-width="0.35">Ascending</text>
<rect x="408.60" y="1484.90" width="24.00" height="24.00" fill="#E41A1C"/>
<text x="443.0" y="1507.0" font-size="20.5" fill="#111" stroke="#111" stroke-width="0.35">Descending</text>
<rect x="638.80" y="1484.90" width="24.00" height="24.00" fill="#4DAF4A"/>
<text x="677.6" y="1507.0" font-size="20.5" fill="#111" stroke="#111" stroke-width="0.35">Rectum</text>
<rect x="823.00" y="1484.90" width="24.00" height="24.00" fill="#984EA3"/>
<text x="857.6" y="1507.0" font-size="20.5" fill="#111" stroke="#111" stroke-width="0.35">Transverse</text>
<text x="981.7" y="1408.2" font-size="25" fill="#111" stroke="#111" stroke-width="0.35" textLength="247.5" lengthAdjust="spacingAndGlyphs">Sporadic CRC stages:</text>
<rect x="1258.10" y="1386.90" width="24.00" height="24.00" fill="#E8908F"/>
<text x="1301.6" y="1409.0" font-size="20.5" fill="#111" stroke="#111" stroke-width="0.35">Adenoma</text>
<rect x="1445.30" y="1386.90" width="24.00" height="24.00" fill="#B08EB6"/>
<text x="1492.4" y="1409.0" font-size="20.5" fill="#111" stroke="#111" stroke-width="0.35">Carcinoma</text>
<text x="1695.6" y="24.1" font-size="34" fill="#000" font-weight="bold">b</text>
<text x="1795.5" y="21.1" font-size="25" fill="#111" stroke="#111" stroke-width="0.35" textLength="180.6" lengthAdjust="spacingAndGlyphs">FAP: multi-polyp</text>
<path d="M1795.4 28.9 V454.6 H2126.3" stroke="#000" stroke-width="2.2" fill="none"/>
<line x1="1789.70" y1="433.50" x2="1795.40" y2="433.50" stroke="#000" stroke-width="2"/>
<text x="1787.0" y="440.7" font-size="20" text-anchor="end" fill="#111" stroke="#111" stroke-width="0.35">0</text>
<line x1="1789.70" y1="341.18" x2="1795.40" y2="341.18" stroke="#000" stroke-width="2"/>
<text x="1787.0" y="348.4" font-size="20" text-anchor="end" fill="#111" stroke="#111" stroke-width="0.35">25</text>
<line x1="1789.70" y1="248.85" x2="1795.40" y2="248.85" stroke="#000" stroke-width="2"/>
<text x="1787.0" y="256.1" font-size="20" text-anchor="end" fill="#111" stroke="#111" stroke-width="0.35">50</text>
<line x1="1789.70" y1="156.52" x2="1795.40" y2="156.52" stroke="#000" stroke-width="2"/>
<text x="1787.0" y="163.7" font-size="20" text-anchor="end" fill="#111" stroke="#111" stroke-width="0.35">75</text>
<line x1="1789.70" y1="64.20" x2="1795.40" y2="64.20" stroke="#000" stroke-width="2"/>
<text x="1787.0" y="71.4" font-size="20" text-anchor="end" fill="#111" stroke="#111" stroke-width="0.35">100</text>
<line x1="1858.50" y1="454.60" x2="1858.50" y2="460.50" stroke="#000" stroke-width="2"/>
<text x="1858.5" y="476.3" font-size="22.2" text-anchor="middle" fill="#111" stroke="#111" stroke-width="0.35">Mucosa</text>
<line x1="1965.50" y1="454.60" x2="1965.50" y2="460.50" stroke="#000" stroke-width="2"/>
<text x="1965.5" y="476.3" font-size="22.2" text-anchor="middle" fill="#111" stroke="#111" stroke-width="0.35">Benign</text>
<line x1="2072.00" y1="454.60" x2="2072.00" y2="460.50" stroke="#000" stroke-width="2"/>
<text x="2072.0" y="476.3" font-size="22.2" text-anchor="middle" fill="#111" stroke="#111" stroke-width="0.35">Dysplasia</text>
<text x="1750.5" y="249.5" font-size="25" text-anchor="middle" fill="#111" stroke="#111" stroke-width="0.35" textLength="392.0" lengthAdjust="spacingAndGlyphs" transform="rotate(-90 1750.5 249.5)">Exonicc non−silent mutation burden</text>
<path d="M1858.50 57.50 V46.80 H2072.00 V57.50" stroke="#000" stroke-width="2.2" fill="none"/>
<text x="1977.0" y="42.8" font-size="21" text-anchor="middle" fill="#111" stroke="#111" stroke-width="0.35" textLength="75.0" lengthAdjust="spacingAndGlyphs">9.4e−13</text>
<path d="M1965.50 93.70 V83.50 H2072.00 V93.70" stroke="#000" stroke-width="2.2" fill="none"/>
<text x="2025.0" y="79.0" font-size="21" text-anchor="middle" fill="#111" stroke="#111" stroke-width="0.35" textLength="40.0" lengthAdjust="spacingAndGlyphs">0.27</text>
<path d="M1858.50 129.80 V119.60 H1965.50 V129.80" stroke="#000" stroke-width="2.2" fill="none"/>
<text x="1922.5" y="114.5" font-size="21" text-anchor="middle" fill="#111" stroke="#111" stroke-width="0.35" textLength="74.0" lengthAdjust="spacingAndGlyphs">3.1e−11</text>
<line x1="1858.85" y1="404.60" x2="1858.85" y2="416.10" stroke="#66C2A5" stroke-width="2.4"/>
<line x1="1858.85" y1="430.80" x2="1858.85" y2="433.00" stroke="#66C2A5" stroke-width="2.4"/>
<rect x="1821.00" y="416.10" width="75.70" height="14.70" fill="none" stroke="#66C2A5" stroke-width="2.4"/>
<line x1="1821.00" y1="423.40" x2="1896.70" y2="423.40" stroke="#66C2A5" stroke-width="4.56"/>
<line x1="1965.50" y1="135.10" x2="1965.50" y2="221.60" stroke="#FC8D62" stroke-width="2.4"/>
<line x1="1965.50" y1="323.80" x2="1965.50" y2="422.80" stroke="#FC8D62" stroke-width="2.4"/>
<rect x="1928.00" y="221.60" width="75.00" height="102.20" fill="none" stroke="#FC8D62" stroke-width="2.4"/>
<line x1="1928.00" y1="275.60" x2="2003.00" y2="275.60" stroke="#FC8D62" stroke-width="4.56"/>
<line x1="2072.05" y1="165.90" x2="2072.05" y2="249.40" stroke="#8DA0CB" stroke-width="2.4"/>
<line x1="2072.05" y1="331.00" x2="2072.05" y2="430.30" stroke="#8DA0CB" stroke-width="2.4"/>
<rect x="2034.60" y="249.40" width="74.90" height="81.60" fill="none" stroke="#8DA0CB" stroke-width="2.4"/>
<line x1="2034.60" y1="293.50" x2="2109.50" y2="293.50" stroke="#8DA0CB" stroke-width="4.56"/>
<circle cx="1841.36" cy="359.38" r="3.7" fill="#66C2A5"/>
<circle cx="1857.15" cy="353.22" r="3.7" fill="#66C2A5"/>
<circle cx="1855.81" cy="379.45" r="3.7" fill="#66C2A5"/>
<circle cx="1879.36" cy="387.21" r="3.7" fill="#66C2A5"/>
<circle cx="1839.49" cy="405.94" r="3.7" fill="#66C2A5"/>
<circle cx="1859.82" cy="402.19" r="3.7" fill="#66C2A5"/>
<circle cx="1878.02" cy="409.42" r="3.7" fill="#66C2A5"/>
<circle cx="1862.50" cy="415.31" r="3.7" fill="#66C2A5"/>
<circle cx="1878.82" cy="416.64" r="3.7" fill="#66C2A5"/>
<circle cx="1840.02" cy="422.26" r="3.7" fill="#66C2A5"/>
<circle cx="1845.11" cy="422.80" r="3.7" fill="#66C2A5"/>
<circle cx="1851.26" cy="424.14" r="3.7" fill="#66C2A5"/>
<circle cx="1855.27" cy="425.47" r="3.7" fill="#66C2A5"/>
<circle cx="1867.32" cy="423.33" r="3.7" fill="#66C2A5"/>
<circle cx="1872.67" cy="424.67" r="3.7" fill="#66C2A5"/>
<circle cx="1836.01" cy="427.35" r="3.7" fill="#66C2A5"/>
<circle cx="1843.23" cy="429.49" r="3.7" fill="#66C2A5"/>
<circle cx="1848.05" cy="432.16" r="3.7" fill="#66C2A5"/>
<circle cx="1853.94" cy="433.50" r="3.7" fill="#66C2A5"/>
<circle cx="1858.75" cy="430.02" r="3.7" fill="#66C2A5"/>
<circle cx="1864.64" cy="431.36" r="3.7" fill="#66C2A5"/>
<circle cx="1850.19" cy="435.64" r="3.7" fill="#66C2A5"/>
<circle cx="1860.63" cy="435.64" r="3.7" fill="#66C2A5"/>
<circle cx="1871.06" cy="435.64" r="3.7" fill="#66C2A5"/>
<circle cx="1841.36" cy="432.70" r="3.7" fill="#66C2A5"/>
<circle cx="1867.32" cy="427.62" r="3.7" fill="#66C2A5"/>
<circle cx="1982.38" cy="134.60" r="3.7" fill="#FC8D62"/>
<circle cx="1947.59" cy="163.23" r="3.7" fill="#FC8D62"/>
<circle cx="1969.00" cy="169.92" r="3.7" fill="#FC8D62"/>
<circle cx="1973.82" cy="178.49" r="3.7" fill="#FC8D62"/>
<circle cx="1963.11" cy="200.70" r="3.7" fill="#FC8D62"/>
<circle cx="1971.68" cy="198.55" r="3.7" fill="#FC8D62"/>
<circle cx="1979.17" cy="215.41" r="3.7" fill="#FC8D62"/>
<circle cx="1982.38" cy="215.95" r="3.7" fill="#FC8D62"/>
<circle cx="1959.64" cy="226.12" r="3.7" fill="#FC8D62"/>
<circle cx="1967.13" cy="229.60" r="3.7" fill="#FC8D62"/>
<circle cx="1979.17" cy="245.65" r="3.7" fill="#FC8D62"/>
<circle cx="1975.69" cy="246.19" r="3.7" fill="#FC8D62"/>
<circle cx="1969.54" cy="254.21" r="3.7" fill="#FC8D62"/>
<circle cx="1961.51" cy="260.10" r="3.7" fill="#FC8D62"/>
<circle cx="1948.93" cy="273.48" r="3.7" fill="#FC8D62"/>
<circle cx="1948.93" cy="276.42" r="3.7" fill="#FC8D62"/>
<circle cx="1981.58" cy="272.14" r="3.7" fill="#FC8D62"/>
<circle cx="1965.79" cy="290.34" r="3.7" fill="#FC8D62"/>
<circle cx="1963.11" cy="294.35" r="3.7" fill="#FC8D62"/>
<circle cx="1963.65" cy="292.48" r="3.7" fill="#FC8D62"/>
<circle cx="1945.72" cy="305.86" r="3.7" fill="#FC8D62"/>
<circle cx="1961.51" cy="303.72" r="3.7" fill="#FC8D62"/>
<circle cx="1969.80" cy="304.25" r="3.7" fill="#FC8D62"/>
<circle cx="1983.72" cy="310.94" r="3.7" fill="#FC8D62"/>
<circle cx="1950.27" cy="315.76" r="3.7" fill="#FC8D62"/>
<circle cx="1962.31" cy="318.44" r="3.7" fill="#FC8D62"/>
<circle cx="1960.17" cy="327.00" r="3.7" fill="#FC8D62"/>
<circle cx="1949.47" cy="330.48" r="3.7" fill="#FC8D62"/>
<circle cx="1984.25" cy="335.30" r="3.7" fill="#FC8D62"/>
<circle cx="1977.56" cy="344.39" r="3.7" fill="#FC8D62"/>
<circle cx="1955.62" cy="349.21" r="3.7" fill="#FC8D62"/>
<circle cx="1956.96" cy="350.01" r="3.7" fill="#FC8D62"/>
<circle cx="1981.58" cy="354.56" r="3.7" fill="#FC8D62"/>
<circle cx="1974.35" cy="364.46" r="3.7" fill="#FC8D62"/>
<circle cx="1967.13" cy="422.80" r="3.7" fill="#FC8D62"/>
<circle cx="2064.00" cy="163.23" r="3.7" fill="#8DA0CB"/>
<circle cx="2070.69" cy="166.71" r="3.7" fill="#8DA0CB"/>
<circle cx="2050.62" cy="188.65" r="3.7" fill="#8DA0CB"/>
<circle cx="2071.22" cy="190.53" r="3.7" fill="#8DA0CB"/>
<circle cx="2091.56" cy="193.47" r="3.7" fill="#8DA0CB"/>
<circle cx="2088.62" cy="202.03" r="3.7" fill="#8DA0CB"/>
<circle cx="2060.79" cy="210.86" r="3.7" fill="#8DA0CB"/>
<circle cx="2065.34" cy="219.43" r="3.7" fill="#8DA0CB"/>
<circle cx="2074.70" cy="226.92" r="3.7" fill="#8DA0CB"/>
<circle cx="2059.45" cy="230.67" r="3.7" fill="#8DA0CB"/>
<circle cx="2057.84" cy="242.17" r="3.7" fill="#8DA0CB"/>
<circle cx="2056.51" cy="248.86" r="3.7" fill="#8DA0CB"/>
<circle cx="2065.34" cy="252.07" r="3.7" fill="#8DA0CB"/>
<circle cx="2075.24" cy="250.20" r="3.7" fill="#8DA0CB"/>
<circle cx="2084.87" cy="248.86" r="3.7" fill="#8DA0CB"/>
<circle cx="2057.31" cy="261.71" r="3.7" fill="#8DA0CB"/>
<circle cx="2064.53" cy="263.58" r="3.7" fill="#8DA0CB"/>
<circle cx="2070.69" cy="271.61" r="3.7" fill="#8DA0CB"/>
<circle cx="2062.66" cy="276.16" r="3.7" fill="#8DA0CB"/>
<circle cx="2072.03" cy="280.44" r="3.7" fill="#8DA0CB"/>
<circle cx="2082.19" cy="279.90" r="3.7" fill="#8DA0CB"/>
<circle cx="2068.01" cy="286.33" r="3.7" fill="#8DA0CB"/>
<circle cx="2074.17" cy="284.99" r="3.7" fill="#8DA0CB"/>
<circle cx="2054.63" cy="289.00" r="3.7" fill="#8DA0CB"/>
<circle cx="2059.98" cy="293.55" r="3.7" fill="#8DA0CB"/>
<circle cx="2070.69" cy="292.48" r="3.7" fill="#8DA0CB"/>
<circle cx="2077.38" cy="292.48" r="3.7" fill="#8DA0CB"/>
<circle cx="2084.07" cy="293.55" r="3.7" fill="#8DA0CB"/>
<circle cx="2085.94" cy="296.49" r="3.7" fill="#8DA0CB"/>
<circle cx="2078.72" cy="301.85" r="3.7" fill="#8DA0CB"/>
<circle cx="2077.91" cy="303.72" r="3.7" fill="#8DA0CB"/>
<circle cx="2089.42" cy="305.06" r="3.7" fill="#8DA0CB"/>
<circle cx="2080.86" cy="311.75" r="3.7" fill="#8DA0CB"/>
<circle cx="2081.39" cy="314.42" r="3.7" fill="#8DA0CB"/>
<circle cx="2071.49" cy="319.78" r="3.7" fill="#8DA0CB"/>
<circle cx="2077.91" cy="319.78" r="3.7" fill="#8DA0CB"/>
<circle cx="2049.28" cy="322.45" r="3.7" fill="#8DA0CB"/>
<circle cx="2056.77" cy="327.80" r="3.7" fill="#8DA0CB"/>
<circle cx="2082.73" cy="329.94" r="3.7" fill="#8DA0CB"/>
<circle cx="2091.29" cy="332.35" r="3.7" fill="#8DA0CB"/>
<circle cx="2060.79" cy="337.97" r="3.7" fill="#8DA0CB"/>
<circle cx="2061.86" cy="349.21" r="3.7" fill="#8DA0CB"/>
<circle cx="2080.05" cy="350.55" r="3.7" fill="#8DA0CB"/>
<circle cx="2088.08" cy="349.21" r="3.7" fill="#8DA0CB"/>
<circle cx="2052.76" cy="358.04" r="3.7" fill="#8DA0CB"/>
<circle cx="2080.59" cy="353.76" r="3.7" fill="#8DA0CB"/>
<circle cx="2063.20" cy="370.62" r="3.7" fill="#8DA0CB"/>
<circle cx="2085.41" cy="364.46" r="3.7" fill="#8DA0CB"/>
<circle cx="2093.43" cy="370.62" r="3.7" fill="#8DA0CB"/>
<circle cx="2054.63" cy="393.36" r="3.7" fill="#8DA0CB"/>
<circle cx="2060.79" cy="422.80" r="3.7" fill="#8DA0CB"/>
<circle cx="2089.42" cy="430.02" r="3.7" fill="#8DA0CB"/>
<text x="1695.6" y="539.1" font-size="34" fill="#000" font-weight="bold">c</text>
<text x="1798.7" y="539.6" font-size="25" fill="#111" stroke="#111" stroke-width="0.35">FAP: multi-region</text>
<path d="M1797.4 547.8 V974.4 H2126.2" stroke="#000" stroke-width="2.2" fill="none"/>
<line x1="1791.70" y1="959.90" x2="1797.40" y2="959.90" stroke="#000" stroke-width="2"/>
<text x="1789.0" y="967.1" font-size="20" text-anchor="end" fill="#111" stroke="#111" stroke-width="0.35">0</text>
<line x1="1791.70" y1="828.90" x2="1797.40" y2="828.90" stroke="#000" stroke-width="2"/>
<text x="1789.0" y="836.1" font-size="20" text-anchor="end" fill="#111" stroke="#111" stroke-width="0.35">50</text>
<line x1="1791.70" y1="697.90" x2="1797.40" y2="697.90" stroke="#000" stroke-width="2"/>
<text x="1789.0" y="705.1" font-size="20" text-anchor="end" fill="#111" stroke="#111" stroke-width="0.35">100</text>
<line x1="1791.70" y1="566.90" x2="1797.40" y2="566.90" stroke="#000" stroke-width="2"/>
<text x="1789.0" y="574.1" font-size="20" text-anchor="end" fill="#111" stroke="#111" stroke-width="0.35">150</text>
<line x1="1860.70" y1="974.40" x2="1860.70" y2="980.30" stroke="#000" stroke-width="2"/>
<text x="1860.7" y="996.2" font-size="22.2" text-anchor="middle" fill="#111" stroke="#111" stroke-width="0.35">Mucosa</text>
<line x1="1967.10" y1="974.40" x2="1967.10" y2="980.30" stroke="#000" stroke-width="2"/>
<text x="1967.1" y="996.2" font-size="22.2" text-anchor="middle" fill="#111" stroke="#111" stroke-width="0.35">Benign</text>
<line x1="2074.40" y1="974.40" x2="2074.40" y2="980.30" stroke="#000" stroke-width="2"/>
<text x="2074.4" y="996.2" font-size="22.2" text-anchor="middle" fill="#111" stroke="#111" stroke-width="0.35">Dysplasia</text>
<text x="1751.0" y="769.5" font-size="25" text-anchor="middle" fill="#111" stroke="#111" stroke-width="0.35" textLength="394.0" lengthAdjust="spacingAndGlyphs" transform="rotate(-90 1751.0 769.5)">Exonicc non−silent mutation burden</text>
<path d="M1860.70 576.40 V566.90 H2074.40 V576.40" stroke="#000" stroke-width="2.2" fill="none"/>
<text x="1980.2" y="562.2" font-size="21" text-anchor="middle" fill="#111" stroke="#111" stroke-width="0.35">0.00048</text>
<path d="M1967.10 611.90 V602.30 H2074.40 V611.90" stroke="#000" stroke-width="2.2" fill="none"/>
<text x="2029.3" y="598.3" font-size="21" text-anchor="middle" fill="#111" stroke="#111" stroke-width="0.35">0.063</text>
<path d="M1860.70 648.70 V639.20 H1967.10 V648.70" stroke="#000" stroke-width="2.2" fill="none"/>
<text x="1924.8" y="635.1" font-size="21" text-anchor="middle" fill="#111" stroke="#111" stroke-width="0.35">0.0038</text>
<line x1="1861.05" y1="897.60" x2="1861.05" y2="918.10" stroke="#66C2A5" stroke-width="2.4"/>
<line x1="1861.05" y1="949.00" x2="1861.05" y2="950.00" stroke="#66C2A5" stroke-width="2.4"/>
<rect x="1823.80" y="918.10" width="74.50" height="30.90" fill="none" stroke="#66C2A5" stroke-width="2.4"/>
<line x1="1823.80" y1="941.30" x2="1898.30" y2="941.30" stroke="#66C2A5" stroke-width="4.56"/>
<line x1="1967.80" y1="832.40" x2="1967.80" y2="839.80" stroke="#FC8D62" stroke-width="2.4"/>
<line x1="1967.80" y1="876.10" x2="1967.80" y2="914.80" stroke="#FC8D62" stroke-width="2.4"/>
<rect x="1930.30" y="839.80" width="75.00" height="36.30" fill="none" stroke="#FC8D62" stroke-width="2.4"/>
<line x1="1930.30" y1="863.00" x2="2005.30" y2="863.00" stroke="#FC8D62" stroke-width="4.56"/>
<line x1="2074.25" y1="655.00" x2="2074.25" y2="702.00" stroke="#8DA0CB" stroke-width="2.4"/>
<line x1="2074.25" y1="858.40" x2="2074.25" y2="925.20" stroke="#8DA0CB" stroke-width="2.4"/>
<rect x="2036.70" y="702.00" width="75.10" height="156.40" fill="none" stroke="#8DA0CB" stroke-width="2.4"/>
<line x1="2036.70" y1="830.20" x2="2111.80" y2="830.20" stroke="#8DA0CB" stroke-width="4.56"/>
<circle cx="1845.67" cy="899.84" r="3.7" fill="#66C2A5"/>
<circle cx="1878.42" cy="896.29" r="3.7" fill="#66C2A5"/>
<circle cx="1857.40" cy="935.32" r="3.7" fill="#66C2A5"/>
<circle cx="1880.60" cy="940.78" r="3.7" fill="#66C2A5"/>
<circle cx="1845.94" cy="946.23" r="3.7" fill="#66C2A5"/>
<circle cx="1851.94" cy="953.88" r="3.7" fill="#66C2A5"/>
<circle cx="1862.31" cy="952.51" r="3.7" fill="#66C2A5"/>
<circle cx="1965.75" cy="683.41" r="3.7" fill="#FC8D62"/>
<circle cx="1984.31" cy="761.46" r="3.7" fill="#FC8D62"/>
<circle cx="1987.04" cy="832.42" r="3.7" fill="#FC8D62"/>
<circle cx="1957.02" cy="844.43" r="3.7" fill="#FC8D62"/>
<circle cx="1975.58" cy="839.79" r="3.7" fill="#FC8D62"/>
<circle cx="1947.47" cy="858.08" r="3.7" fill="#FC8D62"/>
<circle cx="1975.58" cy="862.45" r="3.7" fill="#FC8D62"/>
<circle cx="1948.29" cy="868.45" r="3.7" fill="#FC8D62"/>
<circle cx="1976.12" cy="865.72" r="3.7" fill="#FC8D62"/>
<circle cx="1980.22" cy="877.18" r="3.7" fill="#FC8D62"/>
<circle cx="1960.29" cy="914.85" r="3.7" fill="#FC8D62"/>
<circle cx="1985.13" cy="910.75" r="3.7" fill="#FC8D62"/>
<circle cx="1987.59" cy="946.23" r="3.7" fill="#FC8D62"/>
<circle cx="2054.73" cy="654.20" r="3.7" fill="#8DA0CB"/>
<circle cx="2064.83" cy="677.95" r="3.7" fill="#8DA0CB"/>
<circle cx="2090.21" cy="678.77" r="3.7" fill="#8DA0CB"/>
<circle cx="2092.94" cy="686.14" r="3.7" fill="#8DA0CB"/>
<circle cx="2086.66" cy="690.50" r="3.7" fill="#8DA0CB"/>
<circle cx="2070.83" cy="693.78" r="3.7" fill="#8DA0CB"/>
<circle cx="2057.18" cy="727.89" r="3.7" fill="#8DA0CB"/>
<circle cx="2077.65" cy="759.28" r="3.7" fill="#8DA0CB"/>
<circle cx="2080.66" cy="796.94" r="3.7" fill="#8DA0CB"/>
<circle cx="2072.19" cy="824.24" r="3.7" fill="#8DA0CB"/>
<circle cx="2095.39" cy="828.88" r="3.7" fill="#8DA0CB"/>
<circle cx="2077.65" cy="831.60" r="3.7" fill="#8DA0CB"/>
<circle cx="2082.57" cy="831.60" r="3.7" fill="#8DA0CB"/>
<circle cx="2073.01" cy="841.98" r="3.7" fill="#8DA0CB"/>
<circle cx="2090.75" cy="847.16" r="3.7" fill="#8DA0CB"/>
<circle cx="2080.38" cy="852.07" r="3.7" fill="#8DA0CB"/>
<circle cx="2075.74" cy="859.72" r="3.7" fill="#8DA0CB"/>
<circle cx="2076.56" cy="869.27" r="3.7" fill="#8DA0CB"/>
<circle cx="2085.29" cy="902.57" r="3.7" fill="#8DA0CB"/>
<circle cx="2061.55" cy="911.30" r="3.7" fill="#8DA0CB"/>
<circle cx="2066.19" cy="912.94" r="3.7" fill="#8DA0CB"/>
<circle cx="2062.91" cy="925.76" r="3.7" fill="#8DA0CB"/>
<text x="1695.6" y="1050.2" font-size="34" fill="#000" font-weight="bold">d</text>
<text x="1805.2" y="1069.5" font-size="25" fill="#111" stroke="#111" stroke-width="0.35" textLength="241.6" lengthAdjust="spacingAndGlyphs">Sporadic: multi-region</text>
<path d="M1806.6 1080.7 V1507 H2044.6" stroke="#000" stroke-width="2.2" fill="none"/>
<line x1="1800.90" y1="1370.70" x2="1806.60" y2="1370.70" stroke="#000" stroke-width="2"/>
<text x="1799.5" y="1377.9" font-size="20" text-anchor="end" fill="#111" stroke="#111" stroke-width="0.35">100</text>
<line x1="1800.90" y1="1221.00" x2="1806.60" y2="1221.00" stroke="#000" stroke-width="2"/>
<text x="1799.5" y="1228.2" font-size="20" text-anchor="end" fill="#111" stroke="#111" stroke-width="0.35">200</text>
<line x1="1871.20" y1="1507.00" x2="1871.20" y2="1512.90" stroke="#000" stroke-width="2"/>
<text x="1870.4" y="1529.3" font-size="22.2" text-anchor="middle" fill="#111" stroke="#111" stroke-width="0.35" textLength="96.9" lengthAdjust="spacingAndGlyphs">Adenoma</text>
<line x1="1980.60" y1="1507.00" x2="1980.60" y2="1512.90" stroke="#000" stroke-width="2"/>
<text x="1985.5" y="1529.3" font-size="22.2" text-anchor="middle" fill="#111" stroke="#111" stroke-width="0.35" textLength="110.0" lengthAdjust="spacingAndGlyphs">Carcinoma</text>
<text x="1751.0" y="1301.8" font-size="25" text-anchor="middle" fill="#111" stroke="#111" stroke-width="0.35" textLength="394.0" lengthAdjust="spacingAndGlyphs" transform="rotate(-90 1751.0 1301.8)">Exonicc non−silent mutation burden</text>
<path d="M1871.20 1111.30 V1099.90 H1980.60 V1111.30" stroke="#000" stroke-width="2.2" fill="none"/>
<text x="1932.4" y="1095.7" font-size="21" text-anchor="middle" fill="#111" stroke="#111" stroke-width="0.35">0.29</text>
<line x1="1871.65" y1="1327.50" x2="1871.65" y2="1394.90" stroke="#E8908F" stroke-width="2.4"/>
<line x1="1871.65" y1="1462.50" x2="1871.65" y2="1473.70" stroke="#E8908F" stroke-width="2.4"/>
<rect x="1833.40" y="1394.90" width="76.50" height="67.60" fill="none" stroke="#E8908F" stroke-width="2.4"/>
<line x1="1833.40" y1="1447.20" x2="1909.90" y2="1447.20" stroke="#E8908F" stroke-width="4.56"/>
<line x1="1980.45" y1="1342.90" x2="1980.45" y2="1388.20" stroke="#B08EB6" stroke-width="2.4"/>
<line x1="1980.45" y1="1436.60" x2="1980.45" y2="1489.00" stroke="#B08EB6" stroke-width="2.4"/>
<rect x="1942.50" y="1388.20" width="75.90" height="48.40" fill="none" stroke="#B08EB6" stroke-width="2.4"/>
<line x1="1942.50" y1="1420.80" x2="2018.40" y2="1420.80" stroke="#B08EB6" stroke-width="4.56"/>
<circle cx="1892.91" cy="1118.80" r="3.7" fill="#E8908F"/>
<circle cx="1878.16" cy="1175.86" r="3.7" fill="#E8908F"/>
<circle cx="1879.83" cy="1271.88" r="3.7" fill="#E8908F"/>
<circle cx="1873.43" cy="1328.93" r="3.7" fill="#E8908F"/>
<circle cx="1880.39" cy="1337.84" r="3.7" fill="#E8908F"/>
<circle cx="1877.61" cy="1367.06" r="3.7" fill="#E8908F"/>
<circle cx="1863.69" cy="1385.99" r="3.7" fill="#E8908F"/>
<circle cx="1851.72" cy="1404.08" r="3.7" fill="#E8908F"/>
<circle cx="1888.74" cy="1411.04" r="3.7" fill="#E8908F"/>
<circle cx="1860.35" cy="1431.08" r="3.7" fill="#E8908F"/>
<circle cx="1873.99" cy="1440.26" r="3.7" fill="#E8908F"/>
<circle cx="1854.23" cy="1445.83" r="3.7" fill="#E8908F"/>
<circle cx="1870.09" cy="1446.66" r="3.7" fill="#E8908F"/>
<circle cx="1879.83" cy="1444.44" r="3.7" fill="#E8908F"/>
<circle cx="1891.52" cy="1448.05" r="3.7" fill="#E8908F"/>
<circle cx="1884.01" cy="1452.79" r="3.7" fill="#E8908F"/>
<circle cx="1862.30" cy="1458.91" r="3.7" fill="#E8908F"/>
<circle cx="1867.87" cy="1459.74" r="3.7" fill="#E8908F"/>
<circle cx="1874.82" cy="1461.14" r="3.7" fill="#E8908F"/>
<circle cx="1887.90" cy="1459.74" r="3.7" fill="#E8908F"/>
<circle cx="1870.09" cy="1466.15" r="3.7" fill="#E8908F"/>
<circle cx="1888.74" cy="1464.75" r="3.7" fill="#E8908F"/>
<circle cx="1851.72" cy="1473.10" r="3.7" fill="#E8908F"/>
<circle cx="1890.69" cy="1470.88" r="3.7" fill="#E8908F"/>
<circle cx="1891.52" cy="1474.49" r="3.7" fill="#E8908F"/>
<circle cx="1960.27" cy="1342.29" r="3.7" fill="#B08EB6"/>
<circle cx="1964.44" cy="1375.41" r="3.7" fill="#B08EB6"/>
<circle cx="1977.24" cy="1372.63" r="3.7" fill="#B08EB6"/>
<circle cx="1984.20" cy="1372.91" r="3.7" fill="#B08EB6"/>
<circle cx="1965.28" cy="1384.04" r="3.7" fill="#B08EB6"/>
<circle cx="1970.29" cy="1382.37" r="3.7" fill="#B08EB6"/>
<circle cx="1979.19" cy="1385.15" r="3.7" fill="#B08EB6"/>
<circle cx="1966.67" cy="1386.82" r="3.7" fill="#B08EB6"/>
<circle cx="1995.89" cy="1390.16" r="3.7" fill="#B08EB6"/>
<circle cx="1964.72" cy="1394.34" r="3.7" fill="#B08EB6"/>
<circle cx="1971.40" cy="1405.47" r="3.7" fill="#B08EB6"/>
<circle cx="1979.19" cy="1405.47" r="3.7" fill="#B08EB6"/>
<circle cx="1959.71" cy="1411.59" r="3.7" fill="#B08EB6"/>
<circle cx="1991.72" cy="1414.38" r="3.7" fill="#B08EB6"/>
<circle cx="1965.28" cy="1420.78" r="3.7" fill="#B08EB6"/>
<circle cx="1976.97" cy="1423.01" r="3.7" fill="#B08EB6"/>
<circle cx="1999.51" cy="1423.01" r="3.7" fill="#B08EB6"/>
<circle cx="1988.93" cy="1422.73" r="3.7" fill="#B08EB6"/>
<circle cx="1968.62" cy="1431.36" r="3.7" fill="#B08EB6"/>
<circle cx="1974.18" cy="1432.75" r="3.7" fill="#B08EB6"/>
<circle cx="1988.38" cy="1432.47" r="3.7" fill="#B08EB6"/>
<circle cx="1977.24" cy="1438.87" r="3.7" fill="#B08EB6"/>
<circle cx="1968.62" cy="1444.44" r="3.7" fill="#B08EB6"/>
<circle cx="1963.05" cy="1489.80" r="3.7" fill="#B08EB6"/>
<circle cx="1966.67" cy="1490.36" r="3.7" fill="#B08EB6"/>
<circle cx="1982.81" cy="1493.14" r="3.7" fill="#B08EB6"/>
<circle cx="1993.11" cy="1490.36" r="3.7" fill="#B08EB6"/>
<text x="-2.2" y="1554.8" font-size="34" fill="#000" font-weight="bold">e</text>
<text x="75.0" y="1561.0" font-size="25" fill="#111" stroke="#111" stroke-width="0.35">FAP: multi-polyp</text>
<line x1="132.90" y1="1789.80" x2="132.90" y2="1855.50" stroke="#B5B5B5" stroke-width="1.6"/>
<line x1="151.40" y1="1789.80" x2="151.40" y2="1855.50" stroke="#B5B5B5" stroke-width="1.6"/>
<line x1="177.80" y1="1789.80" x2="177.80" y2="1855.50" stroke="#B5B5B5" stroke-width="1.6"/>
<line x1="208.30" y1="1789.80" x2="208.30" y2="1855.50" stroke="#B5B5B5" stroke-width="1.6"/>
<line x1="253.50" y1="1789.80" x2="253.50" y2="1855.50" stroke="#B5B5B5" stroke-width="1.6"/>
<line x1="260.80" y1="1789.80" x2="260.80" y2="1855.50" stroke="#B5B5B5" stroke-width="1.6"/>
<line x1="311.50" y1="1789.80" x2="311.50" y2="1855.50" stroke="#B5B5B5" stroke-width="1.6"/>
<line x1="327.80" y1="1789.80" x2="327.80" y2="1855.50" stroke="#B5B5B5" stroke-width="1.6"/>
<line x1="363.90" y1="1789.80" x2="363.90" y2="1855.50" stroke="#B5B5B5" stroke-width="1.6"/>
<line x1="366.70" y1="1789.80" x2="366.70" y2="1855.50" stroke="#B5B5B5" stroke-width="1.6"/>
<line x1="371.80" y1="1789.80" x2="371.80" y2="1855.50" stroke="#B5B5B5" stroke-width="1.6"/>
<line x1="375.40" y1="1789.80" x2="375.40" y2="1855.50" stroke="#B5B5B5" stroke-width="1.6"/>
<line x1="381.90" y1="1789.80" x2="381.90" y2="1855.50" stroke="#B5B5B5" stroke-width="1.6"/>
<line x1="387.70" y1="1789.80" x2="387.70" y2="1855.50" stroke="#B5B5B5" stroke-width="1.6"/>
<line x1="393.50" y1="1789.80" x2="393.50" y2="1855.50" stroke="#B5B5B5" stroke-width="1.6"/>
<line x1="399.30" y1="1789.80" x2="399.30" y2="1855.50" stroke="#B5B5B5" stroke-width="1.6"/>
<line x1="405.00" y1="1789.80" x2="405.00" y2="1855.50" stroke="#B5B5B5" stroke-width="1.6"/>
<line x1="409.40" y1="1789.80" x2="409.40" y2="1855.50" stroke="#B5B5B5" stroke-width="1.6"/>
<line x1="366.70" y1="1735.50" x2="366.70" y2="1855.50" stroke="#B5B5B5" stroke-width="1.6"/>
<line x1="368.90" y1="1735.50" x2="368.90" y2="1855.50" stroke="#B5B5B5" stroke-width="1.6"/>
<line x1="384.80" y1="1735.50" x2="384.80" y2="1855.50" stroke="#B5B5B5" stroke-width="1.6"/>
<line x1="389.90" y1="1735.50" x2="389.90" y2="1855.50" stroke="#B5B5B5" stroke-width="1.6"/>
<line x1="393.50" y1="1735.50" x2="393.50" y2="1855.50" stroke="#B5B5B5" stroke-width="1.6"/>
<line x1="396.40" y1="1735.50" x2="396.40" y2="1855.50" stroke="#B5B5B5" stroke-width="1.6"/>
<line x1="409.40" y1="1735.50" x2="409.40" y2="1855.50" stroke="#B5B5B5" stroke-width="1.6"/>
<line x1="369.30" y1="1681.20" x2="369.30" y2="1855.50" stroke="#B5B5B5" stroke-width="1.6"/>
<line x1="389.10" y1="1681.20" x2="389.10" y2="1855.50" stroke="#B5B5B5" stroke-width="1.6"/>
<line x1="408.00" y1="1681.20" x2="408.00" y2="1855.50" stroke="#B5B5B5" stroke-width="1.6"/>
<line x1="388.00" y1="1626.90" x2="388.00" y2="1855.50" stroke="#B5B5B5" stroke-width="1.6"/>
<line x1="400.00" y1="1626.90" x2="400.00" y2="1855.50" stroke="#B5B5B5" stroke-width="1.6"/>
<rect x="363.00" y="1799.50" width="10.00" height="56.00" fill="#B8B8B8"/>
<rect x="374.70" y="1799.50" width="26.00" height="56.00" fill="#B8B8B8"/>
<rect x="404.30" y="1799.50" width="6.50" height="56.00" fill="#B8B8B8"/>
<rect x="86.90" y="1855.9" width="613.9" height="32.0" fill="#95A5A6" stroke="#000" stroke-width="1.7"/>
<rect x="120.20" y="1850.0" width="11.50" height="43.6" fill="#EE7B64" stroke="#000" stroke-width="1.7"/>
<rect x="153.90" y="1850.0" width="22.50" height="43.6" fill="#7A88EA" stroke="#000" stroke-width="1.7"/>
<rect x="186.70" y="1850.0" width="29.10" height="43.6" fill="#7A88EA" stroke="#000" stroke-width="1.7"/>
<rect x="218.50" y="1850.0" width="26.40" height="43.6" fill="#7A88EA" stroke="#000" stroke-width="1.7"/>
<rect x="357.40" y="1850.0" width="5.10" height="43.6" fill="#D66F8C" stroke="#000" stroke-width="1.7"/>
<rect x="381.90" y="1850.0" width="6.40" height="43.6" fill="#D66F8C" stroke="#000" stroke-width="1.7"/>
<rect x="439.30" y="1850.0" width="6.50" height="43.6" fill="#D66F8C" stroke="#000" stroke-width="1.7"/>
<rect x="457.10" y="1850.0" width="5.40" height="43.6" fill="#E8966C" stroke="#000" stroke-width="1.7"/>
<rect x="566.30" y="1850.0" width="75.10" height="43.6" fill="#F3A784" stroke="#000" stroke-width="1.7"/>
<rect x="662.70" y="1850.0" width="38.40" height="43.6" fill="#F6D68F" stroke="#000" stroke-width="1.7"/>
<line x1="86.90" y1="1903.50" x2="700.80" y2="1903.50" stroke="#000" stroke-width="1.9"/>
<line x1="86.90" y1="1902.60" x2="86.90" y2="1916.50" stroke="#000" stroke-width="1.9"/>
<text x="86.9" y="1948.5" font-size="20.3" text-anchor="middle" fill="#111" stroke="#111" stroke-width="0.35">0</text>
<line x1="194.87" y1="1902.60" x2="194.87" y2="1916.50" stroke="#000" stroke-width="1.9"/>
<text x="194.9" y="1948.5" font-size="20.3" text-anchor="middle" fill="#111" stroke="#111" stroke-width="0.35">500</text>
<line x1="302.83" y1="1902.60" x2="302.83" y2="1916.50" stroke="#000" stroke-width="1.9"/>
<text x="302.8" y="1948.5" font-size="20.3" text-anchor="middle" fill="#111" stroke="#111" stroke-width="0.35">1000</text>
<line x1="410.80" y1="1902.60" x2="410.80" y2="1916.50" stroke="#000" stroke-width="1.9"/>
<text x="410.8" y="1948.5" font-size="20.3" text-anchor="middle" fill="#111" stroke="#111" stroke-width="0.35">1500</text>
<line x1="518.77" y1="1902.60" x2="518.77" y2="1916.50" stroke="#000" stroke-width="1.9"/>
<text x="518.8" y="1948.5" font-size="20.3" text-anchor="middle" fill="#111" stroke="#111" stroke-width="0.35">2000</text>
<line x1="626.73" y1="1902.60" x2="626.73" y2="1916.50" stroke="#000" stroke-width="1.9"/>
<text x="626.7" y="1948.5" font-size="20.3" text-anchor="middle" fill="#111" stroke="#111" stroke-width="0.35">2500</text>
<line x1="700.80" y1="1902.60" x2="700.80" y2="1916.50" stroke="#000" stroke-width="1.9"/>
<text x="700.8" y="1948.5" font-size="20.3" text-anchor="middle" fill="#111" stroke="#111" stroke-width="0.35">2843</text>
<circle cx="132.90" cy="1789.80" r="9.4" fill="#E31A1C" fill-opacity="0.72"/>
<circle cx="151.40" cy="1789.80" r="9.4" fill="#E31A1C" fill-opacity="0.72"/>
<circle cx="177.80" cy="1789.80" r="9.4" fill="#E31A1C" fill-opacity="0.72"/>
<circle cx="208.30" cy="1789.80" r="9.4" fill="#E31A1C" fill-opacity="0.72"/>
<circle cx="253.50" cy="1789.80" r="9.4" fill="#E31A1C" fill-opacity="0.72"/>
<circle cx="260.80" cy="1789.80" r="9.4" fill="#E31A1C" fill-opacity="0.72"/>
<circle cx="311.50" cy="1789.80" r="9.4" fill="#E31A1C" fill-opacity="0.72"/>
<circle cx="327.80" cy="1789.80" r="9.4" fill="#E31A1C" fill-opacity="0.72"/>
<circle cx="363.90" cy="1789.80" r="9.4" fill="#6A3D9A" fill-opacity="0.72"/>
<circle cx="366.70" cy="1789.80" r="9.4" fill="#1F78B4" fill-opacity="0.72"/>
<circle cx="371.80" cy="1789.80" r="9.4" fill="#E31A1C" fill-opacity="0.72"/>
<circle cx="375.40" cy="1789.80" r="9.4" fill="#E31A1C" fill-opacity="0.72"/>
<circle cx="381.90" cy="1789.80" r="9.4" fill="#6A3D9A" fill-opacity="0.72"/>
<circle cx="387.70" cy="1789.80" r="9.4" fill="#1F78B4" fill-opacity="0.72"/>
<circle cx="393.50" cy="1789.80" r="9.4" fill="#1F78B4" fill-opacity="0.72"/>
<circle cx="399.30" cy="1789.80" r="9.4" fill="#1F78B4" fill-opacity="0.72"/>
<circle cx="405.00" cy="1789.80" r="9.4" fill="#6A3D9A" fill-opacity="0.72"/>
<circle cx="409.40" cy="1789.80" r="9.4" fill="#6A3D9A" fill-opacity="0.72"/>
<circle cx="366.70" cy="1735.50" r="9.4" fill="#E31A1C" fill-opacity="0.72"/>
<circle cx="368.90" cy="1735.50" r="9.4" fill="#E31A1C" fill-opacity="0.72"/>
<circle cx="384.80" cy="1735.50" r="9.4" fill="#E31A1C" fill-opacity="0.72"/>
<circle cx="389.90" cy="1735.50" r="9.4" fill="#6A3D9A" fill-opacity="0.72"/>
<circle cx="393.50" cy="1735.50" r="9.4" fill="#E31A1C" fill-opacity="0.72"/>
<circle cx="396.40" cy="1735.50" r="9.4" fill="#E31A1C" fill-opacity="0.72"/>
<circle cx="409.40" cy="1735.50" r="9.4" fill="#1F78B4" fill-opacity="0.72"/>
<circle cx="369.30" cy="1681.20" r="9.4" fill="#1F78B4" fill-opacity="0.72"/>
<circle cx="389.10" cy="1681.20" r="9.4" fill="#1F78B4" fill-opacity="0.72"/>
<circle cx="408.00" cy="1681.20" r="9.4" fill="#1F78B4" fill-opacity="0.72"/>
<circle cx="388.00" cy="1626.90" r="9.4" fill="#E31A1C" fill-opacity="0.72"/>
<circle cx="400.00" cy="1626.90" r="9.4" fill="#E31A1C" fill-opacity="0.72"/>
<text x="74.2" y="1596.0" font-size="25" fill="#111" stroke="#111" stroke-width="0.35" font-style="italic">APC</text>
<text x="70.0" y="1726.4" font-size="20.8" fill="#111" stroke="#111" stroke-width="0.35">Suppressor</text>
<text x="70.0" y="1750.0" font-size="20.8" fill="#111" stroke="#111" stroke-width="0.35">APC</text>
<text x="183.6" y="1773.5" font-size="20.8" fill="#111" stroke="#111" stroke-width="0.35">ARM</text>
<text x="354.2" y="1838.7" font-size="20.8" fill="#111" stroke="#111" stroke-width="0.35">APC_crr</text>
<text x="436.4" y="1838.7" font-size="20.8" fill="#111" stroke="#111" stroke-width="0.35">SAMP</text>
<text x="564.0" y="1817.7" font-size="20.8" fill="#111" stroke="#111" stroke-width="0.35">APC</text>
<text x="564.0" y="1843.0" font-size="20.8" fill="#111" stroke="#111" stroke-width="0.35">basic</text>
<text x="635.6" y="1817.7" font-size="20.8" fill="#111" stroke="#111" stroke-width="0.35">EB1</text>
<text x="635.6" y="1843.0" font-size="20.8" fill="#111" stroke="#111" stroke-width="0.35">binding</text>
<path d="M49 1572.5 H62.3 V1789.8 H49" stroke="#000" stroke-width="2" fill="none"/>
<text x="37.0" y="1579.8" font-size="20" text-anchor="end" fill="#111" stroke="#111" stroke-width="0.35">5</text>
<text x="37.0" y="1797.0" font-size="20" text-anchor="end" fill="#111" stroke="#111" stroke-width="0.35">1</text>
<text x="34.4" y="1686.6" font-size="20.8" text-anchor="middle" fill="#111" stroke="#111" stroke-width="0.35" textLength="177.4" lengthAdjust="spacingAndGlyphs" transform="rotate(-90 34.4 1686.6)"># of APC mutations</text>
<text x="787.6" y="1561.0" font-size="25" fill="#111" stroke="#111" stroke-width="0.35">FAP: multi-region</text>
<line x1="832.90" y1="1798.90" x2="832.90" y2="1855.50" stroke="#B5B5B5" stroke-width="1.6"/>
<line x1="863.70" y1="1798.90" x2="863.70" y2="1855.50" stroke="#B5B5B5" stroke-width="1.6"/>
<line x1="901.70" y1="1798.90" x2="901.70" y2="1855.50" stroke="#B5B5B5" stroke-width="1.6"/>
<line x1="910.10" y1="1798.90" x2="910.10" y2="1855.50" stroke="#B5B5B5" stroke-width="1.6"/>
<line x1="952.40" y1="1798.90" x2="952.40" y2="1855.50" stroke="#B5B5B5" stroke-width="1.6"/>
<line x1="1086.80" y1="1798.90" x2="1086.80" y2="1855.50" stroke="#B5B5B5" stroke-width="1.6"/>
<line x1="1102.70" y1="1798.90" x2="1102.70" y2="1855.50" stroke="#B5B5B5" stroke-width="1.6"/>
<line x1="1114.00" y1="1798.90" x2="1114.00" y2="1855.50" stroke="#B5B5B5" stroke-width="1.6"/>
<line x1="1138.20" y1="1798.90" x2="1138.20" y2="1855.50" stroke="#B5B5B5" stroke-width="1.6"/>
<line x1="857.50" y1="1708.30" x2="857.50" y2="1855.50" stroke="#B5B5B5" stroke-width="1.6"/>
<line x1="1203.40" y1="1572.40" x2="1203.40" y2="1855.50" stroke="#B5B5B5" stroke-width="1.6"/>
<rect x="802.50" y="1855.9" width="613.9" height="32.0" fill="#95A5A6" stroke="#000" stroke-width="1.7"/>
<rect x="835.80" y="1850.0" width="11.50" height="43.6" fill="#EE7B64" stroke="#000" stroke-width="1.7"/>
<rect x="869.50" y="1850.0" width="22.50" height="43.6" fill="#7A88EA" stroke="#000" stroke-width="1.7"/>
<rect x="902.30" y="1850.0" width="29.10" height="43.6" fill="#7A88EA" stroke="#000" stroke-width="1.7"/>
<rect x="934.10" y="1850.0" width="26.40" height="43.6" fill="#7A88EA" stroke="#000" stroke-width="1.7"/>
<rect x="1073.00" y="1850.0" width="5.10" height="43.6" fill="#D66F8C" stroke="#000" stroke-width="1.7"/>
<rect x="1097.50" y="1850.0" width="6.40" height="43.6" fill="#D66F8C" stroke="#000" stroke-width="1.7"/>
<rect x="1154.90" y="1850.0" width="6.50" height="43.6" fill="#D66F8C" stroke="#000" stroke-width="1.7"/>
<rect x="1172.70" y="1850.0" width="5.40" height="43.6" fill="#E8966C" stroke="#000" stroke-width="1.7"/>
<rect x="1281.90" y="1850.0" width="75.10" height="43.6" fill="#F3A784" stroke="#000" stroke-width="1.7"/>
<rect x="1378.30" y="1850.0" width="38.40" height="43.6" fill="#F6D68F" stroke="#000" stroke-width="1.7"/>
<line x1="802.50" y1="1903.50" x2="1416.40" y2="1903.50" stroke="#000" stroke-width="1.9"/>
<line x1="802.50" y1="1902.60" x2="802.50" y2="1916.50" stroke="#000" stroke-width="1.9"/>
<text x="802.5" y="1948.5" font-size="20.3" text-anchor="middle" fill="#111" stroke="#111" stroke-width="0.35">0</text>
<line x1="910.47" y1="1902.60" x2="910.47" y2="1916.50" stroke="#000" stroke-width="1.9"/>
<text x="910.5" y="1948.5" font-size="20.3" text-anchor="middle" fill="#111" stroke="#111" stroke-width="0.35">500</text>
<line x1="1018.43" y1="1902.60" x2="1018.43" y2="1916.50" stroke="#000" stroke-width="1.9"/>
<text x="1018.4" y="1948.5" font-size="20.3" text-anchor="middle" fill="#111" stroke="#111" stroke-width="0.35">1000</text>
<line x1="1126.40" y1="1902.60" x2="1126.40" y2="1916.50" stroke="#000" stroke-width="1.9"/>
<text x="1126.4" y="1948.5" font-size="20.3" text-anchor="middle" fill="#111" stroke="#111" stroke-width="0.35">1500</text>
<line x1="1234.37" y1="1902.60" x2="1234.37" y2="1916.50" stroke="#000" stroke-width="1.9"/>
<text x="1234.4" y="1948.5" font-size="20.3" text-anchor="middle" fill="#111" stroke="#111" stroke-width="0.35">2000</text>
<line x1="1342.33" y1="1902.60" x2="1342.33" y2="1916.50" stroke="#000" stroke-width="1.9"/>
<text x="1342.3" y="1948.5" font-size="20.3" text-anchor="middle" fill="#111" stroke="#111" stroke-width="0.35">2500</text>
<line x1="1416.40" y1="1902.60" x2="1416.40" y2="1916.50" stroke="#000" stroke-width="1.9"/>
<text x="1416.4" y="1948.5" font-size="20.3" text-anchor="middle" fill="#111" stroke="#111" stroke-width="0.35">2843</text>
<circle cx="832.90" cy="1798.90" r="9.4" fill="#FF7F00" fill-opacity="0.72"/>
<circle cx="863.70" cy="1798.90" r="9.4" fill="#E31A1C" fill-opacity="0.72"/>
<circle cx="901.70" cy="1798.90" r="9.4" fill="#FF7F00" fill-opacity="0.72"/>
<circle cx="910.10" cy="1798.90" r="9.4" fill="#E31A1C" fill-opacity="0.72"/>
<circle cx="952.40" cy="1798.90" r="9.4" fill="#E31A1C" fill-opacity="0.72"/>
<circle cx="1086.80" cy="1798.90" r="9.4" fill="#1F78B4" fill-opacity="0.72"/>
<circle cx="1102.70" cy="1798.90" r="9.4" fill="#E31A1C" fill-opacity="0.72"/>
<circle cx="1114.00" cy="1798.90" r="9.4" fill="#1F78B4" fill-opacity="0.72"/>
<circle cx="1138.20" cy="1798.90" r="9.4" fill="#6A3D9A" fill-opacity="0.72"/>
<circle cx="857.50" cy="1708.30" r="9.4" fill="#33A02C" fill-opacity="0.72"/>
<circle cx="1203.40" cy="1572.40" r="9.4" fill="#33A02C" fill-opacity="0.72"/>
<text x="790.5" y="1596.0" font-size="25" fill="#111" stroke="#111" stroke-width="0.35" font-style="italic">APC</text>
<text x="786.2" y="1689.5" font-size="20.8" fill="#111" stroke="#111" stroke-width="0.35">Suppressor</text>
<text x="786.2" y="1713.8" font-size="20.8" fill="#111" stroke="#111" stroke-width="0.35">APC</text>
<text x="899.2" y="1777.9" font-size="20.8" fill="#111" stroke="#111" stroke-width="0.35">ARM</text>
<text x="1069.8" y="1835.1" font-size="20.8" fill="#111" stroke="#111" stroke-width="0.35">APC_crr</text>
<text x="1152.0" y="1835.1" font-size="20.8" fill="#111" stroke="#111" stroke-width="0.35">SAMP</text>
<text x="1279.6" y="1806.1" font-size="20.8" fill="#111" stroke="#111" stroke-width="0.35">APC</text>
<text x="1279.6" y="1830.4" font-size="20.8" fill="#111" stroke="#111" stroke-width="0.35">basic</text>
<text x="1350.1" y="1806.1" font-size="20.8" fill="#111" stroke="#111" stroke-width="0.35">EB1</text>
<text x="1350.1" y="1830.4" font-size="20.8" fill="#111" stroke="#111" stroke-width="0.35">binding</text>
<path d="M765.2 1572.5 H777.9 V1798.9 H765.2" stroke="#000" stroke-width="2" fill="none"/>
<text x="753.6" y="1579.8" font-size="20" text-anchor="end" fill="#111" stroke="#111" stroke-width="0.35">6</text>
<text x="753.6" y="1806.0" font-size="20" text-anchor="end" fill="#111" stroke="#111" stroke-width="0.35">1</text>
<text x="1478.3" y="1561.0" font-size="25" fill="#111" stroke="#111" stroke-width="0.35">Sporadic: multi-region</text>
<line x1="1546.70" y1="1572.46" x2="1546.70" y2="1855.50" stroke="#B5B5B5" stroke-width="1.6"/>
<line x1="1607.60" y1="1802.58" x2="1607.60" y2="1855.50" stroke="#B5B5B5" stroke-width="1.6"/>
<line x1="1644.50" y1="1802.58" x2="1644.50" y2="1855.50" stroke="#B5B5B5" stroke-width="1.6"/>
<line x1="1646.30" y1="1739.82" x2="1646.30" y2="1855.50" stroke="#B5B5B5" stroke-width="1.6"/>
<line x1="1673.50" y1="1677.06" x2="1673.50" y2="1855.50" stroke="#B5B5B5" stroke-width="1.6"/>
<line x1="1689.10" y1="1718.90" x2="1689.10" y2="1855.50" stroke="#B5B5B5" stroke-width="1.6"/>
<line x1="1698.10" y1="1760.74" x2="1698.10" y2="1855.50" stroke="#B5B5B5" stroke-width="1.6"/>
<line x1="1782.20" y1="1823.50" x2="1782.20" y2="1855.50" stroke="#B5B5B5" stroke-width="1.6"/>
<line x1="1785.00" y1="1739.82" x2="1785.00" y2="1855.50" stroke="#B5B5B5" stroke-width="1.6"/>
<line x1="1794.80" y1="1718.90" x2="1794.80" y2="1855.50" stroke="#B5B5B5" stroke-width="1.6"/>
<line x1="1802.00" y1="1718.90" x2="1802.00" y2="1855.50" stroke="#B5B5B5" stroke-width="1.6"/>
<line x1="1805.00" y1="1823.50" x2="1805.00" y2="1855.50" stroke="#B5B5B5" stroke-width="1.6"/>
<line x1="1810.40" y1="1760.74" x2="1810.40" y2="1855.50" stroke="#B5B5B5" stroke-width="1.6"/>
<line x1="1812.90" y1="1635.22" x2="1812.90" y2="1855.50" stroke="#B5B5B5" stroke-width="1.6"/>
<rect x="1499.60" y="1855.9" width="613.9" height="32.0" fill="#95A5A6" stroke="#000" stroke-width="1.7"/>
<rect x="1532.90" y="1850.0" width="11.50" height="43.6" fill="#EE7B64" stroke="#000" stroke-width="1.7"/>
<rect x="1566.60" y="1850.0" width="22.50" height="43.6" fill="#7A88EA" stroke="#000" stroke-width="1.7"/>
<rect x="1599.40" y="1850.0" width="29.10" height="43.6" fill="#7A88EA" stroke="#000" stroke-width="1.7"/>
<rect x="1631.20" y="1850.0" width="26.40" height="43.6" fill="#7A88EA" stroke="#000" stroke-width="1.7"/>
<rect x="1770.10" y="1850.0" width="5.10" height="43.6" fill="#D66F8C" stroke="#000" stroke-width="1.7"/>
<rect x="1794.60" y="1850.0" width="6.40" height="43.6" fill="#D66F8C" stroke="#000" stroke-width="1.7"/>
<rect x="1852.00" y="1850.0" width="6.50" height="43.6" fill="#D66F8C" stroke="#000" stroke-width="1.7"/>
<rect x="1869.80" y="1850.0" width="5.40" height="43.6" fill="#E8966C" stroke="#000" stroke-width="1.7"/>
<rect x="1979.00" y="1850.0" width="75.10" height="43.6" fill="#F3A784" stroke="#000" stroke-width="1.7"/>
<rect x="2075.40" y="1850.0" width="38.40" height="43.6" fill="#F6D68F" stroke="#000" stroke-width="1.7"/>
<line x1="1499.60" y1="1903.50" x2="2113.50" y2="1903.50" stroke="#000" stroke-width="1.9"/>
<line x1="1499.60" y1="1902.60" x2="1499.60" y2="1916.50" stroke="#000" stroke-width="1.9"/>
<text x="1499.6" y="1948.5" font-size="20.3" text-anchor="middle" fill="#111" stroke="#111" stroke-width="0.35">0</text>
<line x1="1607.57" y1="1902.60" x2="1607.57" y2="1916.50" stroke="#000" stroke-width="1.9"/>
<text x="1607.6" y="1948.5" font-size="20.3" text-anchor="middle" fill="#111" stroke="#111" stroke-width="0.35">500</text>
<line x1="1715.53" y1="1902.60" x2="1715.53" y2="1916.50" stroke="#000" stroke-width="1.9"/>
<text x="1715.5" y="1948.5" font-size="20.3" text-anchor="middle" fill="#111" stroke="#111" stroke-width="0.35">1000</text>
<line x1="1823.50" y1="1902.60" x2="1823.50" y2="1916.50" stroke="#000" stroke-width="1.9"/>
<text x="1823.5" y="1948.5" font-size="20.3" text-anchor="middle" fill="#111" stroke="#111" stroke-width="0.35">1500</text>
<line x1="1931.47" y1="1902.60" x2="1931.47" y2="1916.50" stroke="#000" stroke-width="1.9"/>
<text x="1931.5" y="1948.5" font-size="20.3" text-anchor="middle" fill="#111" stroke="#111" stroke-width="0.35">2000</text>
<line x1="2039.43" y1="1902.60" x2="2039.43" y2="1916.50" stroke="#000" stroke-width="1.9"/>
<text x="2039.4" y="1948.5" font-size="20.3" text-anchor="middle" fill="#111" stroke="#111" stroke-width="0.35">2500</text>
<line x1="2113.50" y1="1902.60" x2="2113.50" y2="1916.50" stroke="#000" stroke-width="1.9"/>
<text x="2113.5" y="1948.5" font-size="20.3" text-anchor="middle" fill="#111" stroke="#111" stroke-width="0.35">2843</text>
<circle cx="1546.70" cy="1572.46" r="9.4" fill="#E31A1C" fill-opacity="0.72"/>
<circle cx="1607.60" cy="1802.58" r="9.4" fill="#E31A1C" fill-opacity="0.72"/>
<circle cx="1644.50" cy="1802.58" r="9.4" fill="#E31A1C" fill-opacity="0.72"/>
<circle cx="1646.30" cy="1739.82" r="9.4" fill="#1F78B4" fill-opacity="0.72"/>
<circle cx="1673.50" cy="1677.06" r="9.4" fill="#E31A1C" fill-opacity="0.72"/>
<circle cx="1689.10" cy="1718.90" r="9.4" fill="#E31A1C" fill-opacity="0.72"/>
<circle cx="1698.10" cy="1760.74" r="9.4" fill="#E31A1C" fill-opacity="0.72"/>
<circle cx="1782.20" cy="1823.50" r="9.4" fill="#1F78B4" fill-opacity="0.72"/>
<circle cx="1785.00" cy="1739.82" r="9.4" fill="#E31A1C" fill-opacity="0.72"/>
<circle cx="1794.80" cy="1718.90" r="9.4" fill="#E31A1C" fill-opacity="0.72"/>
<circle cx="1802.00" cy="1718.90" r="9.4" fill="#1F78B4" fill-opacity="0.72"/>
<circle cx="1805.00" cy="1823.50" r="9.4" fill="#1F78B4" fill-opacity="0.72"/>
<circle cx="1810.40" cy="1760.74" r="9.4" fill="#1F78B4" fill-opacity="0.72"/>
<circle cx="1812.90" cy="1635.22" r="9.4" fill="#E31A1C" fill-opacity="0.72"/>
<text x="1482.6" y="1585.2" font-size="25" fill="#111" stroke="#111" stroke-width="0.35" font-style="italic">APC</text>
<text x="1479.7" y="1772.4" font-size="20.8" fill="#111" stroke="#111" stroke-width="0.35">Suppressor</text>
<text x="1479.7" y="1797.1" font-size="20.8" fill="#111" stroke="#111" stroke-width="0.35">APC</text>
<text x="1596.7" y="1781.5" font-size="20.8" fill="#111" stroke="#111" stroke-width="0.35">ARM</text>
<text x="1767.2" y="1801.8" font-size="20.8" fill="#111" stroke="#111" stroke-width="0.35">APC_crr</text>
<text x="1849.2" y="1801.8" font-size="20.8" fill="#111" stroke="#111" stroke-width="0.35">SAMP</text>
<text x="1975.9" y="1801.8" font-size="20.8" fill="#111" stroke="#111" stroke-width="0.35">APC</text>
<text x="1975.9" y="1827.1" font-size="20.8" fill="#111" stroke="#111" stroke-width="0.35">basic</text>
<text x="2048.4" y="1800.7" font-size="20.8" fill="#111" stroke="#111" stroke-width="0.35">EB1</text>
<text x="2048.4" y="1826.0" font-size="20.8" fill="#111" stroke="#111" stroke-width="0.35">binding</text>
<path d="M1462 1572.5 H1475.4 V1823.5 H1462" stroke="#000" stroke-width="2" fill="none"/>
<text x="1449.3" y="1579.8" font-size="20" text-anchor="end" fill="#111" stroke="#111" stroke-width="0.35">13</text>
<text x="1448.2" y="1830.8" font-size="20" text-anchor="end" fill="#111" stroke="#111" stroke-width="0.35">1</text>
<circle cx="56.90" cy="1989.00" r="6.8" fill="#E31A1C" fill-opacity="0.72"/>
<text x="77.9" y="1996.3" font-size="22.8" fill="#111" stroke="#111" stroke-width="0.35" textLength="202.8" lengthAdjust="spacingAndGlyphs">Nonsense Mutation</text>
<circle cx="309.00" cy="1989.27" r="6.8" fill="#33A02C" fill-opacity="0.72"/>
<text x="330.3" y="1996.6" font-size="22.8" fill="#111" stroke="#111" stroke-width="0.35" textLength="194.9" lengthAdjust="spacingAndGlyphs">Missense Mutation</text>
<circle cx="564.00" cy="1990.08" r="6.8" fill="#6A3D9A" fill-opacity="0.72"/>
<text x="585.7" y="1997.5" font-size="22.8" fill="#111" stroke="#111" stroke-width="0.35" textLength="158.0" lengthAdjust="spacingAndGlyphs">Frame Shift Ins</text>
<circle cx="815.20" cy="1991.25" r="6.8" fill="#E0607A" fill-opacity="0.72"/>
<text x="836.9" y="1998.8" font-size="22.8" fill="#111" stroke="#111" stroke-width="0.35" textLength="131.1" lengthAdjust="spacingAndGlyphs">In Frame Ins</text>
<circle cx="1011.50" cy="1993.50" r="6.8" fill="#1F78B4" fill-opacity="0.72"/>
<text x="1033.2" y="2001.3" font-size="22.8" fill="#111" stroke="#111" stroke-width="0.35" textLength="163.0" lengthAdjust="spacingAndGlyphs">Frame Shift Del</text>
</svg>
</body></html>
